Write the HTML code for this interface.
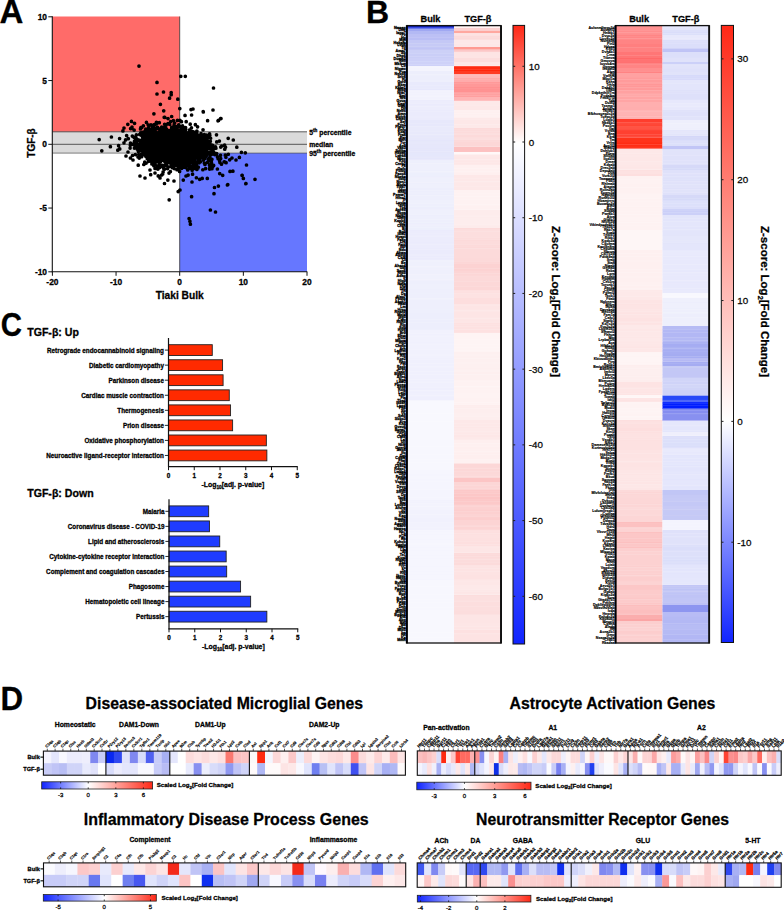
<!DOCTYPE html><html><head><meta charset="utf-8"><title>Figure</title><style>html,body{margin:0;padding:0;background:#fff;width:784px;height:910px;overflow:hidden;}svg{display:block;font-family:"Liberation Sans",sans-serif;}text{stroke:#000;stroke-width:0.28px;stroke-linejoin:round;}.g text{stroke-width:0.15px;}.g2 text{stroke-width:0.24px;}</style></head><body><svg width="784" height="910" viewBox="0 0 784 910" font-family='"Liberation Sans", sans-serif' shape-rendering="auto"><text x="-0.6" y="22.9" font-size="33" text-anchor="start" font-weight="bold" fill="#000">A</text>
<text x="366.1" y="22.8" font-size="32" text-anchor="start" font-weight="bold" fill="#000">B</text>
<text transform="translate(0.7 335.7) scale(0.92 1.03)" font-size="32" font-weight="bold" fill="#000">C</text>
<text transform="translate(0.4 709.6) scale(0.95 1.0)" font-size="33" font-weight="bold" fill="#000">D</text>
<rect x="52.3" y="16.5" width="127.4" height="115.3" fill="#ff6b69"/>
<rect x="52.3" y="131.8" width="254.7" height="21.3" fill="#dadada"/>
<rect x="179.7" y="153.1" width="127.3" height="118.7" fill="#6677ff"/>
<line x1="52.3" y1="131.8" x2="307" y2="131.8" stroke="#333" stroke-width="0.8"/>
<line x1="52.3" y1="144.3" x2="307" y2="144.3" stroke="#333" stroke-width="0.8"/>
<line x1="52.3" y1="153.1" x2="307" y2="153.1" stroke="#333" stroke-width="0.6"/>
<line x1="179.7" y1="16.5" x2="179.7" y2="271.8" stroke="#333" stroke-width="0.8"/>
<path d="M171.01 142.94h0M171.5 149.29h0M159.85 147.81h0M193.65 144.97h0M192.4 146.23h0M181.78 146.08h0M147.67 138.91h0M183.62 143.79h0M147.25 158.76h0M160.52 149.8h0M180.3 147.76h0M183.87 152.54h0M180.35 144.4h0M164.3 133.31h0M184.46 138.5h0M164.98 152.15h0M169.55 147.58h0M185.7 145.83h0M167.84 153.98h0M166.63 137.25h0M161.87 144.43h0M182.3 158.93h0M176.05 137.16h0M141.91 147.56h0M173.49 153.25h0M183.48 148.08h0M151.01 139.32h0M186.32 140.53h0M199.08 145.77h0M177.22 157.16h0M185.43 152.4h0M167.75 156.33h0M159.23 150.21h0M196.57 163.93h0M151.12 143.82h0M199.13 144.11h0M143.8 164.48h0M181.16 153.09h0M156.71 138.51h0M193.48 147h0M179.31 144.03h0M201.62 143.95h0M183.83 143.43h0M149.29 135.74h0M191.05 144h0M142.58 149.99h0M189.18 161.8h0M172.2 139.12h0M153.55 133.48h0M184.38 148.8h0M180.62 142.46h0M177.24 138.46h0M164.3 149.62h0M192.48 147.94h0M160.67 138.99h0M199.5 151.97h0M152.41 146.76h0M172.78 149.24h0M198.49 156.36h0M196.11 158.06h0M162.22 141.49h0M193.92 141.66h0M180.96 146.36h0M177.77 142.86h0M172.33 144.81h0M184.72 147.67h0M187.89 143.54h0M208.52 146.62h0M168.17 149.53h0M175.03 140.03h0M169.67 143.82h0M205.65 168.55h0M156.64 144.12h0M181.84 145.68h0M168.11 141.66h0M179.91 151.38h0M215.46 146.8h0M166.07 147.31h0M171.51 147.36h0M130.1 148.12h0M191.94 157.05h0M174.14 139.74h0M189.41 136.55h0M147.09 148.12h0M169.6 142h0M193.31 168.71h0M193.26 159.26h0M186.55 159.2h0M178.15 138.14h0M172.77 145.49h0M188.44 146.82h0M173.78 135.29h0M192.6 150.4h0M220.68 158.61h0M190.38 150.05h0M177.44 141.84h0M178.92 142.44h0M149.97 157.13h0M185.42 155.08h0M158.25 157.33h0M196.2 142.65h0M199.62 155.74h0M175.26 155.83h0M187.92 135.71h0M160.51 134.28h0M191.6 149.45h0M142.61 134.38h0M173.65 151.62h0M181.86 144.37h0M200.04 156.4h0M194.05 136.86h0M199.28 149.93h0M162.93 138.57h0M177.15 146.27h0M198.81 150.54h0M137.24 147.78h0M144.56 139h0M180.49 152.1h0M175.09 140.73h0M176.55 137.04h0M174.23 139.09h0M199.93 136.27h0M164.13 139.71h0M144.2 153.53h0M142.76 136.98h0M154.86 145.98h0M172.06 147.13h0M165.46 144.73h0M204.89 148.55h0M184.03 139.98h0M171.97 156.54h0M166.05 138.34h0M148 150.04h0M191.92 142.04h0M175.37 140.95h0M177.99 156.29h0M149.36 150.44h0M190.51 152.35h0M160.31 152.11h0M149.9 146.48h0M155.72 143.15h0M136.19 142.25h0M164.63 161.32h0M187.24 149.93h0M138.34 151.58h0M180.06 150.9h0M188.15 142.16h0M186.27 145.27h0M197.32 143.38h0M182.71 163.5h0M190.08 137.98h0M170.33 150.4h0M207.35 162.48h0M183 129.03h0M159.89 140.91h0M206.46 149.9h0M184.53 140.76h0M160.25 146.89h0M180.09 141.08h0M174.67 148.57h0M158.43 148.84h0M190 147.21h0M161.13 152.69h0M219.38 141.04h0M185.79 167.57h0M185.53 144.05h0M203.11 145.51h0M174.13 143.04h0M143.07 137.27h0M180.62 152.8h0M197.18 134.58h0M152.04 150.81h0M180.06 145.99h0M168.65 154.16h0M210.34 141.28h0M155.48 156.21h0M203.43 141.23h0M205.38 142.72h0M160.81 144.24h0M139.5 150.68h0M174.27 143.05h0M163.2 147.33h0M182.83 144.68h0M185.8 146.14h0M169.88 140.75h0M176.06 153.47h0M164.89 146.49h0M173.43 145.79h0M175.24 145.76h0M173.02 156.6h0M182.22 139.46h0M182.44 148.98h0M182.63 154.94h0M143.87 144.76h0M159.85 140.52h0M157.3 166.13h0M158.04 134h0M168.93 157.2h0M162.61 142.36h0M183.47 146.25h0M199.8 143.18h0M174.9 142.52h0M202.63 141.32h0M192.19 156.41h0M172.79 141.37h0M170.34 138.63h0M185.11 140.75h0M171.73 127.41h0M195.77 149.99h0M176.74 127.34h0M169.56 140.08h0M191.47 148.03h0M155.93 144.51h0M181.19 138.82h0M188.2 147.7h0M189.37 143.82h0M178.65 146.89h0M171.22 141.61h0M157.8 150.87h0M175.33 158.31h0M168.03 162.04h0M163.94 142.08h0M184.62 148.09h0M171.4 157.71h0M205.49 144.98h0M193.34 154.94h0M172.18 160.84h0M188.16 140.73h0M143.84 145.62h0M185.68 161.21h0M145.04 153.44h0M164.83 157.21h0M175.77 145.23h0M185.74 142.37h0M200.11 139.69h0M153.53 149.67h0M157.7 154.29h0M173.9 146.98h0M183.36 159.73h0M154.76 146.05h0M171.94 149.29h0M174.2 152.85h0M186.85 145.09h0M173.79 152.16h0M172.36 167.75h0M159 145.84h0M150.35 144.08h0M177.68 157.79h0M171.1 149.26h0M182.85 142.88h0M174.64 153.58h0M172.86 147.46h0M187.4 145.58h0M163.29 156.75h0M169.07 152.4h0M156.84 146.89h0M167.12 145.81h0M183.9 150.78h0M213.71 151.88h0M193.48 147.27h0M193.72 166.39h0M162.81 144.47h0M185.21 129.83h0M180.58 137.63h0M187.93 140.62h0M183.69 148.81h0M183.67 155.86h0M194.79 156.06h0M179.37 131.13h0M171.55 146.73h0M194.49 148.06h0M161.88 144.33h0M184.88 142.25h0M162.46 132.93h0M202.83 148.62h0M179.69 150.65h0M198.65 153.9h0M186.4 151.45h0M163.76 140.92h0M197.32 148.51h0M164.03 140.22h0M174.43 144.68h0M200.45 139.96h0M166.64 129.12h0M175.3 141.1h0M164.53 146.8h0M146.28 131.7h0M197.85 157.76h0M150.33 158.01h0M194.7 151.79h0M174.24 149.44h0M173.24 155.31h0M175.64 158.13h0M174.06 144.67h0M182.98 149.34h0M160.29 144.99h0M167.22 134.64h0M187.95 148.75h0M167.45 152.01h0M159.73 148.87h0M180.12 143.45h0M184.66 131.62h0M163.58 146.3h0M221.49 164.17h0M166.61 145.29h0M177.8 144.14h0M171.29 144.07h0M176.12 141.26h0M143.92 151.99h0M175.21 155h0M157.96 141.26h0M164.49 141.6h0M187.59 145.5h0M183.65 148.41h0M151.93 145.93h0M182.76 151.61h0M173.6 141.27h0M160.71 141.34h0M206.07 153.2h0M177.67 148.4h0M200.73 146.22h0M190.1 153.28h0M174.98 147.16h0M145.85 134.32h0M190.13 161.38h0M187.56 148.85h0M182.67 144.75h0M150.44 147.24h0M199.95 152.99h0M158.32 156.49h0M155.04 143.32h0M203.26 145.5h0M179.31 130.26h0M166.65 151.75h0M183.99 143.43h0M158.45 155.05h0M180.06 145.5h0M153.62 147.35h0M166.26 143.05h0M173.31 147.65h0M169.39 138.69h0M198.26 151.3h0M189.25 153.74h0M176.44 141.44h0M200.3 151.54h0M174.02 145.53h0M150.45 145.49h0M164.06 143.59h0M156.54 161.1h0M175.88 145.15h0M166.16 139.76h0M170.72 151.47h0M183.15 159.58h0M164.03 146.59h0M189.29 149.19h0M180.35 152.43h0M180.24 134.68h0M163.89 128.32h0M164.59 146.33h0M178.11 139.44h0M154.77 161.94h0M185.27 141.62h0M185.57 127.6h0M178.64 145.37h0M190.62 145.21h0M202.78 158.23h0M169.03 173.08h0M188.69 150.76h0M190.54 131.54h0M175.15 149.05h0M166.98 153.02h0M164.81 141.59h0M175.85 146.63h0M172.38 139.94h0M183.42 148.68h0M186.24 148.93h0M156.16 134.83h0M182.94 154.89h0M193.1 145.54h0M149.36 133.23h0M180.76 140.62h0M178.52 148.45h0M149.62 138.13h0M175.74 149.33h0M181.05 146.86h0M186.43 150.62h0M174.64 163.43h0M168.24 141.51h0M197.37 151.22h0M173.24 134.87h0M169.85 141.17h0M203.02 148.47h0M195.55 153.76h0M178.68 147.9h0M177.15 138.58h0M214.79 154.57h0M165.73 142.73h0M157.78 142.25h0M184.71 149.8h0M184.04 159.49h0M187.82 159.68h0M163.72 150.67h0M168.61 140.14h0M176.6 150.23h0M184.24 135.55h0M175.35 144.31h0M195.76 146.29h0M154 126.78h0M211.79 164.49h0M174.6 143.87h0M191.23 142.95h0M170.74 154.9h0M176.95 139.3h0M157.21 153.88h0M174.84 161.9h0M170.94 150.19h0M182.7 152.92h0M160.65 149.24h0M174.42 152.14h0M175.45 141.38h0M194.86 135.24h0M162.28 149.54h0M134.16 130.11h0M163.25 146.64h0M183.89 158.02h0M182.92 147.77h0M145.03 143.06h0M195.01 162.58h0M188.6 146.31h0M183.1 144.2h0M196.82 150.11h0M189.7 151.11h0M187.29 154.06h0M173.45 133.76h0M182.62 148.76h0M156.3 152.01h0M178.45 140.11h0M182.3 143.52h0M174.55 136.72h0M168.78 150.92h0M189.94 147.5h0M170.63 151.24h0M170.99 142.08h0M181.1 156.71h0M182.3 146.16h0M158.69 140.2h0M170.6 149.39h0M188.41 137.79h0M163.85 143.07h0M160.75 128.53h0M167.07 137.47h0M164.53 140.25h0M211.96 168.75h0M168.05 142.84h0M173.71 152.13h0M210.86 148.64h0M148.03 138.94h0M146.75 136.59h0M165.68 145.42h0M196.11 147.46h0M152.22 158.7h0M194.82 142.62h0M161.74 139.72h0M183.46 142.64h0M137.86 147.17h0M190.15 142.39h0M189.83 166.78h0M178.04 143.51h0M217.48 156.94h0M169.8 146.5h0M189.91 151.38h0M194.23 154.27h0M179.66 151.4h0M177.86 152.55h0M148.81 137.15h0M180.27 151.68h0M178.57 139.73h0M159.07 146.98h0M184.17 143.62h0M169.7 162.89h0M195.81 145.83h0M175.46 149.25h0M179.6 150.62h0M158.29 151.75h0M165.37 151.2h0M156.07 141.08h0M153.57 140.76h0M158.45 143.4h0M197.98 146.92h0M163.15 146.01h0M177.7 160.52h0M165.19 145.25h0M167.48 146.03h0M187.39 141.97h0M190.23 143.5h0M170.48 146.96h0M170.76 149.23h0M172.27 160.12h0M169.73 146.96h0M159.13 146.32h0M183.78 148.88h0M209.61 169.11h0M171.83 160.86h0M191.46 127.78h0M133.84 143.64h0M183.83 149.93h0M184.37 164.81h0M189.34 145.11h0M175.62 151.62h0M185.81 151.45h0M178.94 151.23h0M138.06 145.11h0M178.59 141.54h0M160.75 146.49h0M185.46 146.61h0M195.81 133.1h0M160.21 160.9h0M189.42 136.26h0M190.51 141.8h0M165.01 151.95h0M189.95 154.96h0M145.24 152.93h0M216.49 134.87h0M163.88 152h0M179.07 153.07h0M196.93 149.01h0M157.27 136.01h0M165.59 144.83h0M175.04 149.5h0M180.62 152.73h0M144.72 162.16h0M154.28 151.65h0M174.86 146.66h0M184.45 146.74h0M162.11 151.74h0M140.18 146.29h0M183.27 143.54h0M173.24 148.32h0M190.74 147.92h0M187.45 143.38h0M178.77 137.32h0M165.77 149.28h0M161.87 152.4h0M200.99 135.19h0M175.62 142.78h0M194.69 142.1h0M195.19 157.97h0M164.66 143.01h0M199 147.74h0M161.04 148.96h0M164.31 153.01h0M200.09 153.38h0M175.58 130.58h0M194.85 145.71h0M165.12 143.36h0M202.08 143.95h0M196.12 147.61h0M183.79 149.16h0M182.31 137.58h0M151.56 146.16h0M179.22 151.71h0M170.15 140.78h0M208.37 144.28h0M180.64 159.3h0M207.14 148.43h0M174.68 155.63h0M174.3 155.43h0M176.42 143.61h0M175.76 145h0M161.15 135.32h0M164.43 160.37h0M172.14 152.76h0M158.53 148.82h0M180.06 156.44h0M172.97 136.05h0M186.54 148.95h0M177.36 148.15h0M174.45 141.45h0M173.71 165.41h0M174.89 153.89h0M186.02 152.42h0M177.7 130.6h0M157.92 154.67h0M151.89 164.02h0M144.16 142.45h0M164.69 160.76h0M150.71 140.91h0M162.41 149.14h0M180.71 137.06h0M207.37 141.14h0M177.62 145.84h0M205.07 137.97h0M170.11 143.29h0M179.99 146.99h0M166.97 156.76h0M166.41 158.39h0M195.5 144.22h0M155.29 135.23h0M190 162.59h0M205.72 142.74h0M209.4 158.58h0M184.03 144.4h0M178.58 146h0M192.68 159.58h0M154.69 156.54h0M166.02 151.18h0M181.32 145.43h0M175.76 152.31h0M167.93 139.38h0M187.88 147.09h0M169.91 134.9h0M165.41 141.55h0M194.34 150.28h0M188.9 156.46h0M192 146.58h0M148.99 140.41h0M160.48 136.41h0M164.01 147.69h0M179.93 149.93h0M179.54 151.6h0M186.36 147.73h0M178.74 168.37h0M194.46 148.02h0M145.74 144.6h0M182.98 139.38h0M157.33 134.19h0M172.61 128.63h0M172.82 141.76h0M169.18 155.28h0M193.39 141.26h0M200.71 142.08h0M165.76 159.25h0M164.48 151.62h0M161.75 141.84h0M180.67 149.49h0M178.1 148.39h0M178.77 141.56h0M191.12 153.31h0M150.31 134.69h0M177.14 138.76h0M148.05 148h0M175.69 158.16h0M166.71 141.05h0M193.09 135.98h0M160.95 156.97h0M183.86 140.43h0M178.44 157.25h0M188.19 141.82h0M184.4 151.38h0M180.28 141.36h0M166 160.65h0M180.68 143.75h0M175.47 140.32h0M165.54 147.15h0M170.19 142.43h0M201.65 150.61h0M209.25 137.45h0M188.33 143.4h0M204.55 150.25h0M173.39 155.12h0M183.07 137.29h0M184.06 144.4h0M171.92 145.61h0M151.66 137.66h0M168.46 155.15h0M162.81 152.67h0M189.4 139.86h0M152.78 138.67h0M189.94 152.42h0M150.64 151.33h0M164.76 143.85h0M169.33 162.27h0M179.11 159.07h0M190.23 157.24h0M163.78 152.95h0M166.27 136.64h0M189.34 143.35h0M180.53 159.26h0M166.63 150.81h0M159.07 142.24h0M162.98 151.8h0M157.96 161.81h0M185.1 137.52h0M178.14 154.75h0M130.48 143.09h0M195.37 146.04h0M190.59 136.72h0M193.89 151.6h0M192.66 142.22h0M149.81 148.68h0M151.68 146.52h0M184.81 155.85h0M141.22 135.13h0M181.48 136.23h0M153.34 137.68h0M209.57 133.81h0M171.77 144.84h0M172.7 139.31h0M192.42 147.47h0M152.75 140.08h0M167.47 141.83h0M179.6 134.95h0M194.07 151.69h0M181.02 133.96h0M166.35 143.25h0M194.95 138.67h0M183.83 157.72h0M154.38 143.96h0M181.65 128h0M160.99 137.54h0M187.99 160.66h0M161.7 145.02h0M167.08 147.8h0M183.02 153.76h0M182.96 152.44h0M166.23 142.46h0M165.75 144.34h0M201.71 148.49h0M172.83 141.33h0M169.19 138.46h0M154.01 141.1h0M166.77 152.71h0M204.53 155.37h0M204.32 143.82h0M199.29 156.02h0M195.09 137.15h0M173.32 147.98h0M215.89 148.19h0M168.25 151.5h0M182.62 145.02h0M178.18 134.11h0M169.82 143.16h0M199.39 156.24h0M192.43 134.12h0M152.82 154.15h0M158.06 160.2h0M182.74 161.75h0M183.5 136.48h0M148.52 147.92h0M143.5 139.24h0M163.04 148.41h0M176.14 142.99h0M169.51 146.64h0M166.2 145.68h0M155.84 145.45h0M143.27 148.93h0M206.94 148.4h0M154.39 143.88h0M159.15 158.77h0M163.06 140.74h0M181.6 148.23h0M159.91 154.43h0M197.58 146.58h0M159.49 162.31h0M152.57 126.81h0M156.23 146.55h0M178.72 148.52h0M170.64 157.33h0M157.85 133.14h0M162.73 139.88h0M147.21 147.52h0M179.57 139.44h0M156.67 141.43h0M181.63 153.13h0M183.14 154.45h0M162.07 146.46h0M130.33 145.24h0M158.69 157.3h0M168.21 140.85h0M168.55 137.02h0M156.05 155.99h0M200.91 145.6h0M190.88 154.37h0M188.56 145.92h0M185.98 147.56h0M195.21 153.27h0M159.3 157.45h0M194.45 153.91h0M157.98 153.26h0M167.88 156.39h0M170.44 151.61h0M166.12 153.9h0M175.85 150.67h0M177.15 145.31h0M180.87 164.19h0M166.38 152.66h0M188.06 159.94h0M163.42 148.64h0M169.68 139.19h0M167.92 139.28h0M150.99 159.51h0M195.42 144.98h0M183.32 146.65h0M183.26 156.89h0M190.94 152.12h0M191.56 147.41h0M142.58 154.99h0M193.91 149.27h0M168.7 144.86h0M168.21 150.85h0M176.94 146.1h0M200.34 148.26h0M206.35 135.18h0M203.65 140.69h0M177.4 146.19h0M172.89 152.56h0M174.14 151.94h0M202.38 144.65h0M167.86 161.32h0M174.36 150.24h0M157.28 154.72h0M138.01 140.51h0M174.16 127.29h0M174.73 148.21h0M199.14 147.52h0M178.01 150.11h0M165.23 135.03h0M191.8 134.97h0M169.46 146.53h0M160.67 138.83h0M152.19 141.4h0M193.38 137.4h0M159.69 137.83h0M163.44 152.19h0M153.35 136.95h0M202.52 153.29h0M162.68 148.94h0M216.74 141.92h0M166.27 160.29h0M164.11 137.35h0M206.15 151h0M163.8 150.32h0M144.04 138.28h0M157.28 137.89h0M146.99 155.12h0M180.02 153.23h0M188.17 147.82h0M155.8 141.18h0M189.18 162.58h0M205.47 145.12h0M187.83 162.09h0M163.33 149.06h0M193.07 159.34h0M160.62 161.75h0M171.26 144.22h0M147.34 149.95h0M183.69 135.48h0M186.23 150.09h0M155.75 153.1h0M164.25 145.32h0M174.42 134.3h0M180 155.59h0M200.8 141.38h0M176.92 152.72h0M144.29 153.06h0M190.33 154.15h0M153.4 144.3h0M179.28 142.71h0M186.09 136.98h0M161.35 138.78h0M158.91 140.81h0M178.21 145.42h0M191.26 148.2h0M193.65 141.51h0M177.49 151.58h0M162.78 150.39h0M171.9 147.09h0M224.57 145.19h0M187.97 154.45h0M163.49 148.84h0M178.42 155.22h0M201.92 153.02h0M193.09 166.05h0M175.13 144.97h0M178.41 142.69h0M179.88 146.14h0M143.93 150.68h0M136.48 139.97h0M180.33 148.91h0M161.65 150.74h0M205.79 135.7h0M174.28 137.19h0M148.97 160.33h0M167.25 153.32h0M165.99 145.11h0M225.3 155.17h0M176.07 145.04h0M174.68 139.95h0M204.63 158.38h0M177.92 149.29h0M181.14 159.18h0M146.15 163.08h0M183.94 146.16h0M176.46 165.28h0M169.06 152.51h0M151.85 152.7h0M186.79 143.64h0M174.87 143.15h0M165.26 145.96h0M175.91 142.9h0M174.09 148.13h0M173.02 151.9h0M212.21 145.39h0M182.34 130h0M198.46 160.41h0M186.75 141.39h0M206.44 138.91h0M188 156.88h0M160.84 144.18h0M183.6 155.42h0M168.88 149.78h0M176.25 144.59h0M170.5 156.28h0M195.81 136.13h0M173.49 139.16h0M182.6 142.5h0M183.21 153.42h0M184.74 139.94h0M160.41 131.17h0M209.83 135.24h0M208.16 143.4h0M169.65 151.36h0M161.79 145.41h0M174.7 141.94h0M141.82 127.41h0M212.92 149.58h0M186.43 144.14h0M179.77 148.97h0M173.21 153.29h0M178.19 147.47h0M180.54 153.97h0M175.9 146.78h0M185.24 155.84h0M182.19 140h0M185.13 150.52h0M167.11 148.42h0M187.31 135.95h0M172.63 151.86h0M181.46 145.92h0M160.22 151.84h0M173.56 141.87h0M155.5 153.71h0M183.5 156.97h0M177.05 144.52h0M173.41 154.78h0M174.25 149.59h0M180.81 153.86h0M193.31 161.01h0M172.33 146.87h0M191.16 152.72h0M184.28 151.98h0M187.46 134.55h0M168.61 143.32h0M159.9 138.74h0M195.28 148.04h0M156.46 142.9h0M194.26 139.91h0M188.7 161.92h0M163.99 135.55h0M154.95 137.23h0M206.4 143.15h0M193.78 150.76h0M154.96 146.67h0M171.95 147.27h0M186.78 148.9h0M178.42 144.05h0M175.16 133h0M182.57 146.9h0M171.81 151.68h0M197.49 147.29h0M157.39 150.33h0M172.98 150.38h0M193.19 157.07h0M183.39 146.5h0M155.75 145.57h0M173.68 143.18h0M167.8 144.34h0M147.68 153.74h0M188.23 139.92h0M175.03 151.67h0M193.16 164.18h0M162.01 141.17h0M186.04 155.65h0M144.01 134.12h0M177.78 154.11h0M176.15 140.26h0M132.35 136.03h0M187.49 163.76h0M188 161.49h0M194.1 145.19h0M212.52 154.02h0M175.32 139.1h0M164.65 151.86h0M169.09 147.29h0M157.34 142.32h0M184.24 147.1h0M203.38 151.3h0M196.87 152.59h0M187.75 162.66h0M178.52 148.64h0M167.05 151.28h0M169.5 152.27h0M138.95 149.49h0M166.15 150.57h0M157.74 147.09h0M188.23 149.8h0M167.09 136.23h0M191.41 141.02h0M194.37 150.76h0M173.1 138.46h0M166.08 147.47h0M181.5 144.63h0M170.67 139.31h0M172.3 141.38h0M192.96 143.13h0M187.38 156.71h0M153.55 150.53h0M183.11 136.1h0M155.02 143.54h0M161.11 151.86h0M170.67 141.54h0M178.77 138.29h0M158.93 139.32h0M190.64 147.5h0M183.14 151.89h0M157.21 149.12h0M164.61 124.36h0M167.22 134h0M178.59 144.92h0M187.55 153.8h0M190.41 145.14h0M150.16 141h0M184.39 144.19h0M201.47 151.85h0M183.72 141.89h0M160.35 137.03h0M151.24 155.61h0M183.89 155.95h0M173.32 159.57h0M176.39 155.85h0M180.9 159.17h0M182.67 149.59h0M176.3 147.69h0M177.41 157.34h0M132.8 144.29h0M159.76 149.65h0M182.3 162.72h0M162.61 151.01h0M157.75 143.55h0M172.92 153.24h0M158.95 139.95h0M164.33 141.97h0M182.68 162.04h0M157.31 146h0M180.9 141.48h0M188.52 139.99h0M169.06 148.34h0M188.08 151.13h0M192.73 160.31h0M186.06 149.08h0M142.69 137.65h0M180.39 147.25h0M157.43 149.59h0M200.26 154.94h0M117.79 150.21h0M155.39 146.92h0M168.74 153.69h0M161.31 138.25h0M151.37 130.7h0M166.24 154.92h0M188.27 143.57h0M157.99 140.34h0M144.8 152.34h0M193.88 150.18h0M153.7 141.88h0M190.42 148.19h0M145.34 147.96h0M182.16 141.64h0M205.91 150.88h0M167.26 146.92h0M195.21 155.51h0M196.85 169.43h0M188.44 153.07h0M182.84 142.29h0M155.67 146.59h0M179.23 142.85h0M159.85 153.77h0M143.41 125.76h0M172.06 148.62h0M150.51 138.5h0M166.4 135.59h0M189.34 147.79h0M187.27 156.33h0M169.85 151.19h0M154.24 145.71h0M172.85 135.98h0M119.76 148.91h0M160.04 149.74h0M182.23 144.44h0M175.71 150.76h0M183.43 144.84h0M144.75 147.28h0M152.5 154.78h0M177.67 146.79h0M177.13 153.92h0M171.91 153.89h0M181.56 142.22h0M204.29 139.16h0M161.92 149.81h0M159.71 143.83h0M208.02 143.65h0M138.85 154.54h0M153.85 141.88h0M175.27 144.81h0M204.73 155.2h0M161.22 131.22h0M180.91 153.4h0M141.67 156.75h0M134.79 144.15h0M175.98 139.55h0M172.94 152.27h0M162.98 131.82h0M146.02 144.02h0M175.67 142.41h0M168.55 142.88h0M188.74 149.04h0M167.67 148.08h0M159.28 147.73h0M170.25 145.2h0M197.36 138.43h0M167.87 142.05h0M180.13 141.57h0M175.6 145.09h0M167.49 152.64h0M189.68 138.04h0M186.2 144.43h0M179.65 150.81h0M145.74 140.26h0M178.54 151.54h0M159.28 136.37h0M145.39 131.83h0M185.83 129.61h0M163.37 146.56h0M166.86 145.41h0M171.77 152.62h0M193.03 154.18h0M166.84 142.36h0M166.35 149.9h0M181.14 150.27h0M154.62 146.65h0M171.61 133.84h0M157.09 138.6h0M162.24 149.05h0M169.84 144.71h0M189.53 134.58h0M164.71 136.3h0M191.72 141.88h0M162.68 139.46h0M173.47 144.3h0M170.79 141.76h0M193.7 139.56h0M171.85 139.29h0M199.27 155.7h0M199.61 158.78h0M184.23 143.1h0M199.78 146.45h0M167.29 152.72h0M154.54 140h0M171.32 152.36h0M184.05 153.49h0M168.02 150.18h0M202.62 137.56h0M172.63 158.97h0M179.82 146.83h0M181.02 143.13h0M169.94 139.71h0M189.09 146.33h0M168.52 150.38h0M186.71 156.21h0M172.6 152.68h0M152.18 141.1h0M174.82 146.81h0M189.71 159.4h0M174.13 144.83h0M189.02 156.23h0M187.09 146.14h0M197.68 139.74h0M184.34 131.22h0M175.22 150.35h0M169.61 153.96h0M174.77 161.45h0M173.85 143.76h0M191.65 150.75h0M198.23 153.47h0M173.02 161.34h0M162.65 152.4h0M199.39 144.59h0M157.4 142.05h0M183.03 149.32h0M175.61 149.41h0M166.48 159.82h0M173.78 137.42h0M198.39 150.58h0M163.18 147.96h0M189.75 145.35h0M165.81 143.83h0M171.91 143.06h0M168.66 157.69h0M176.18 141.49h0M157.37 146.83h0M189.41 150.75h0M164.74 131.33h0M188.63 140.25h0M159.99 134.02h0M148.54 149.36h0M187.17 137.91h0M160.27 151.15h0M178.41 161.65h0M185.53 143.56h0M168.04 142.67h0M187.73 145.56h0M183.64 136.36h0M167.57 145.44h0M166.85 138.92h0M168.7 143.19h0M177.44 146.75h0M202.78 149.39h0M197.97 142.35h0M196.39 149.6h0M190.11 142.4h0M165.41 144.52h0M173.19 147.25h0M196.07 153.68h0M148.34 158.36h0M168.01 151.44h0M175.47 142.94h0M203.37 146.51h0M182.65 152.97h0M184.52 137.63h0M196.65 162.81h0M189.46 136.28h0M188.43 158.92h0M170.35 142.48h0M181.87 153.49h0M161.05 139.13h0M153.97 135.26h0M175.56 144.91h0M153.99 150.22h0M186.22 158.6h0M208.23 159.42h0M155.78 145.62h0M182.91 142.17h0M169.34 148.28h0M171.49 151.11h0M134.22 137.57h0M179.24 146.18h0M165.24 144.66h0M175.03 147.66h0M192.82 160.82h0M179.25 155.18h0M170.19 135.78h0M158.01 146.8h0M165.84 139.56h0M159.67 158.54h0M183.41 150.2h0M170.17 138.86h0M161.13 149h0M177.59 144.21h0M167.03 139.01h0M210.87 152.25h0M204.96 164.39h0M197.6 150.98h0M177.43 149.73h0M165.13 155.88h0M168.97 137.21h0M193.36 150.75h0M166.85 151.76h0M156.18 132.71h0M185.79 146.88h0M167.44 154.14h0M196.17 142.63h0M160.11 138.93h0M157.65 141.33h0M159.98 149.23h0M183.11 144.4h0M191.32 154.22h0M200.33 138.74h0M175.08 143.68h0M162.88 147.48h0M154.26 145.19h0M178.41 137.43h0M190.3 142.03h0M169.5 148.41h0M169.83 145.15h0M144.57 139.6h0M150.35 149.39h0M175.6 150.9h0M201.66 149.41h0M200.21 139.99h0M167.35 143.69h0M195.87 150.79h0M176.65 151.29h0M176.18 149.76h0M176.56 139.83h0M197.37 147.46h0M178.45 141.01h0M170.64 154.6h0M192.88 155.03h0M190.03 155.08h0M204.33 156.52h0M188.73 136.9h0M159.98 135.28h0M162.17 159.28h0M186.71 142.64h0M172.02 165.46h0M174.37 149.3h0M169.22 148.87h0M146.81 149.56h0M203.84 137.47h0M169.5 151.99h0M181.54 139.68h0M186.73 156.38h0M177.82 146.23h0M198.1 139.69h0M183.57 138.67h0M168.96 135.43h0M168.48 143.79h0M189.83 154.69h0M164.09 159.35h0M177.86 147.67h0M170.05 143.13h0M141.62 145.26h0M176.63 149.14h0M187.86 134.99h0M168.16 153.58h0M165.64 145.85h0M184.56 153.99h0M191.12 155.58h0M188.39 144.76h0M182.61 131.7h0M171.06 148.07h0M182.81 141.22h0M153.98 143.81h0M163.46 141.77h0M197 148.03h0M173.55 145.66h0M128.3 138.63h0M184.16 146.43h0M168.95 152.09h0M172.4 138.02h0M173.62 137.11h0M134.38 148.03h0M179.6 147.47h0M148.87 150.4h0M195.1 157.78h0M159.51 154.22h0M166.48 141.86h0M184.68 162.58h0M198.44 152.85h0M165.89 134.3h0M173.95 156.13h0M165.09 151.83h0M159.21 148.59h0M189.18 145.37h0M153.31 125.32h0M159.52 145.31h0M175.74 141.54h0M170.03 143.44h0M208.7 148.41h0M158.05 143.66h0M162.49 149.06h0M178.23 144.81h0M170.73 140.6h0M172.18 156.5h0M189.19 150.62h0M194.51 153.07h0M184.34 145.34h0M132.4 155.5h0M157.46 135.71h0M145.25 138.59h0M192.6 144.51h0M185.96 151.39h0M175.08 145.44h0M181.93 142.31h0M171.96 152.06h0M166.31 143.55h0M148.86 154.73h0M168.7 150.77h0M170.95 166.4h0M169.83 148.62h0M187.58 162.38h0M170.38 143.33h0M183.02 138.79h0M192.02 155.82h0M185.36 150.17h0M162.48 135.06h0M165.24 152.78h0M168.76 152.98h0M191.26 145.27h0M197.52 145.42h0M165.46 138.81h0M164.82 149.88h0M172.58 146.66h0M194.26 152.71h0M180.85 147.65h0M155.21 153.96h0M171.75 143.92h0M180.35 143.88h0M176.02 150.45h0M182.04 154.9h0M153.84 148.27h0M152.45 149.53h0M163.33 150.47h0M174.53 152.96h0M168.5 159.31h0M177.56 153.74h0M181.69 168.34h0M162.45 144.54h0M136.3 147.42h0M176.75 146.44h0M151.37 143.98h0M177.62 154.42h0M187.13 148.18h0M175.54 150.44h0M183.99 146.91h0M193.4 144.86h0M165.39 148.16h0M189.91 150.68h0M181.36 143.62h0M172.37 164.14h0M177.35 145.65h0M177.41 152.85h0M194.58 149.26h0M165.27 151.81h0M180.98 155.52h0M159.23 131.35h0M196.21 140.57h0M197.09 144.01h0M148.27 136.65h0M195.08 144.67h0M143.92 136.02h0M197.11 152.06h0M177.29 141.48h0M173.88 138.89h0M176.55 142.06h0M176.61 158.14h0M159.29 122.68h0M179.72 137.66h0M193.5 135.49h0M184.13 152.06h0M175.54 161.35h0M172.23 140.2h0M140.55 143.56h0M188.47 138.05h0M160.38 151.05h0M145.13 152.86h0M183.82 132.26h0M156.84 135.76h0M182.11 151.19h0M210.49 167.95h0M174.16 145.41h0M209.47 135.81h0M211.63 148.29h0M191.01 137.91h0M183.47 144.92h0M172.29 149.96h0M155.48 131.43h0M168.07 162.14h0M179.49 147.61h0M178.08 133.78h0M173.54 148.98h0M163.24 146.55h0M168.19 145.16h0M225.51 147.2h0M161.46 131.92h0M189.15 141.87h0M186.75 141.7h0M186.11 137.26h0M191.45 138.04h0M167.16 146.64h0M163.5 139.27h0M188.63 151.38h0M184.66 128.12h0M195.17 156.61h0M173.76 142.29h0M174.67 144.19h0M194.25 145.8h0M157.56 140.72h0M173.67 146.16h0M166.12 156.86h0M155.16 148.53h0M158.01 166.3h0M193.75 156.87h0M163.56 142.44h0M136.39 134.77h0M162.86 141.44h0M167.48 144.36h0M176.94 147.22h0M145.8 156.29h0M174.58 136.56h0M166.45 142.61h0M177.86 143.66h0M191.23 159.23h0M179.67 148.7h0M170.21 153.16h0M162.57 154.02h0M157.55 127.33h0M202.65 148.68h0M187.21 155.1h0M130.39 157.99h0M177.52 136.51h0M174.57 154.52h0M171.35 154.31h0M152.76 147.48h0M168.8 152.77h0M160.96 153.18h0M179.05 136.95h0M171.85 130.23h0M149.15 143.49h0M156.59 147.19h0M176.89 143.04h0M193.47 152.34h0M155.21 147.3h0M179.98 152.6h0M189.65 135.42h0M152.3 143.02h0M191.64 162.42h0M178.56 148.98h0M152.28 135.92h0M178.75 150.89h0M182.4 142.74h0M187.66 143.53h0M181.84 156.27h0M168.45 145.74h0M130.6 128.53h0M169.12 154.6h0M145.91 143.48h0M175.77 151.49h0M168.52 153.32h0M163.16 147.11h0M164.86 141.42h0M172.95 145.98h0M181.78 138.02h0M184.94 145.99h0M172.61 152.95h0M169.72 141.69h0M178.9 150.22h0M153.76 157.24h0M180.43 139.76h0M181.28 157.71h0M171.81 145.24h0M160.43 143.63h0M172.02 153.13h0M155.22 139.86h0M181 154.07h0M158.89 139.49h0M184.86 149.95h0M200.93 150.81h0M158.21 137.94h0M172.21 144.35h0M175.86 154.61h0M156.11 147.4h0M197.9 155.94h0M197.14 146.78h0M157.32 144.04h0M184.39 154.35h0M140.93 142.39h0M157.36 142.75h0M144.45 146.31h0M162.21 157.35h0M171.36 145.6h0M166.27 155.36h0M178.66 160.33h0M183.86 143.97h0M202.25 142.15h0M180.95 145.49h0M175.69 156.99h0M198.78 144.6h0M170.64 155.35h0M199.12 144.58h0M156.18 140.96h0M205.73 149.11h0M181.68 150.58h0M165.14 138.52h0M224.75 149.21h0M173.25 141.09h0M170.35 141.39h0M188.57 155.46h0M158.01 146.62h0M188.63 145.85h0M195.19 158.53h0M183.17 152.2h0M176.85 144.81h0M159.66 147.87h0M156.55 144.01h0M161.59 149.95h0M178.76 152.17h0M193.69 152.94h0M188.88 145.83h0M158.64 147.73h0M161.81 148.98h0M170.89 133.35h0M168.52 135.06h0M182.42 157.23h0M138.13 139.85h0M143.31 139.86h0M191.75 145.2h0M171.88 148.76h0M179.4 149.6h0M166.66 149.33h0M194.01 152.83h0M181.33 156h0M163.82 156.6h0M172.07 141.86h0M180.14 151.05h0M185.05 150.26h0M181.21 145.44h0M183.92 165.97h0M154.38 140.12h0M173.53 130.39h0M171.48 150.96h0M199.17 144.43h0M205.64 145.16h0M171.98 141.55h0M162.63 149.65h0M166.36 148.21h0M187.71 151.42h0M180.4 151.1h0M189.38 168.34h0M171.92 145.66h0M157.98 138.57h0M178.71 137.84h0M190.63 143.29h0M172.85 155h0M171.72 150.29h0M179.24 150.78h0M224.12 161.86h0M194.03 151.71h0M171.37 140.03h0M175.29 156.07h0M181.86 148.94h0M142.34 143.66h0M158.38 151.59h0M182.96 145.35h0M170.6 130.79h0M181.95 152.04h0M179.02 148.23h0M140.03 156.63h0M153.03 130.51h0M172.31 148.97h0M166.22 139.32h0M175.69 134.53h0M187.84 135.72h0M173.37 144.22h0M168.33 147.94h0M147.61 149.73h0M160.06 151h0M194.66 146.34h0M194.8 141.95h0M189.93 140.58h0M165.59 140.61h0M170.11 150.71h0M194.31 132.29h0M159.64 133.36h0M188.5 154.15h0M179.6 144.63h0M181.23 150.09h0M154.74 145.64h0M188.99 142.14h0M185.78 139.61h0M159.44 146.47h0M180.67 140.07h0M177.73 143.43h0M177.37 131.77h0M140.43 145.19h0M214.72 147.74h0M146.04 144.36h0M152.39 150.74h0M178.83 134.69h0M182.62 142.62h0M191.48 146.6h0M161.58 147.01h0M180.61 149.47h0M164.6 149.11h0M151.31 153.22h0M173.8 149.68h0M175.84 136.8h0M180.02 147.63h0M156.54 153.92h0M181.23 153.9h0M182.08 155.42h0M177.38 147.77h0M191.11 150.95h0M169.32 144.94h0M176.12 134.72h0M171.15 150.81h0M170.16 143.31h0M178.97 142.22h0M153.21 127.54h0M204.55 149.1h0M155.99 144.81h0M181.85 163.94h0M175.46 158h0M182.54 137.37h0M191.7 159.18h0M197.25 141.76h0M169.5 143.06h0M199.41 151h0M175 151.21h0M193.66 164.07h0M197.85 155.59h0M190 159.96h0M160.33 150.61h0M188.43 159.83h0M184.85 152.36h0M195.02 150.58h0M182.99 148.84h0M203.8 151.47h0M174.85 132.48h0M176.48 142.13h0M163.51 144.93h0M139.12 144.16h0M164.95 157.55h0M152.69 137.35h0M182.04 158.67h0M204.13 153.96h0M169.37 144.94h0M157.14 157.92h0M163.37 137.69h0M190.4 159.64h0M194.41 148.01h0M183.21 147.2h0M181.83 154.86h0M160.77 151.41h0M169.38 142.19h0M155.88 134.21h0M165.17 150.83h0M186.44 144.58h0M169.85 154.66h0M159.32 157.91h0M193.45 140.22h0M205 145.22h0M180.54 141.85h0M190.39 149.92h0M180.85 131.58h0M148.27 155.83h0M159.9 140.64h0M194.17 150.74h0M185.94 148.1h0M180.02 151.37h0M174.81 147.11h0M193.26 131.75h0M146.33 141.45h0M175.17 139.97h0M192.16 142.37h0M188.13 154.88h0M148.07 133.18h0M194.5 155.28h0M195.81 143.43h0M136.14 138.13h0M159.51 137.57h0M164.39 151.93h0M150.62 147.22h0M191.46 153.03h0M145.59 129.52h0M204.66 143.79h0M166.67 155.52h0M149.12 141.42h0M195.96 156.16h0M175.24 149.15h0M171.16 143.16h0M208.61 153.8h0M188.8 139.89h0M170.71 147.93h0M153.85 137.87h0M166.78 151.42h0M176.32 153.5h0M158.62 148.3h0M198.96 150.04h0M183.65 158.43h0M144.18 131.83h0M168.89 158.07h0M173.55 142.52h0M147.69 151.96h0M179.39 154.16h0M187.96 140.77h0M182.31 150.7h0M174.5 151.73h0M173.16 144.63h0M170.45 139.63h0M216.68 153.63h0M180.72 141.36h0M185.54 149.48h0M167.59 139.23h0M185.22 143.96h0M162.4 141.67h0M187.94 149.23h0M185.57 131.68h0M145.25 140.82h0M156.53 156.06h0M171.48 142.84h0M176.07 155.77h0M152.24 149.84h0M175.46 153.26h0M151.19 132.68h0M161.83 147.46h0M166.47 150.91h0M175.89 149.35h0M185.15 156.47h0M151.45 131.25h0M174.04 141.35h0M194.14 144.14h0M175.83 158.65h0M149.6 138.32h0M186.09 143.54h0M148.67 161.3h0M158.32 154.84h0M177.8 154.83h0M200.61 153.24h0M166.24 140.16h0M180.51 154.09h0M188.42 133.64h0M155.56 147.76h0M157.96 160.47h0M185.3 142.53h0M190.89 144.86h0M142.9 145.36h0M164.51 155.2h0M157.47 140.35h0M170.48 132.22h0M182.81 161.74h0M189.61 138.68h0M175.75 156.15h0M203.68 158.58h0M173.9 161.2h0M155.07 158.54h0M192.77 139.39h0M168.72 156.8h0M174.28 144.23h0M150.67 154.25h0M173.59 141.77h0M176.45 143.83h0M155.11 164.45h0M180.27 154.25h0M173.24 149.8h0M183 153.33h0M198.55 148.27h0M183.78 142.92h0M192 145.1h0M146.98 150.1h0M205.31 145.38h0M184.31 144.16h0M164.88 151.55h0M164.79 137.82h0M181.14 134.15h0M183.31 133.44h0M182.65 156.41h0M203.44 146.27h0M194.55 146.66h0M169.94 145.52h0M157.05 154.97h0M160.84 150.17h0M153.25 146.56h0M180.19 132.19h0M205.12 149.27h0M189.61 149.61h0M181.59 147.74h0M166.46 146.01h0M151.21 142.36h0M170.54 154.96h0M169.39 142.59h0M164.19 142.87h0M184.52 135.94h0M157.55 146.88h0M183.57 136.31h0M179.52 141.68h0M151.34 150.06h0M202.31 150.87h0M210.49 154.71h0M170.71 158.85h0M185.61 145.73h0M208.16 147.84h0M171.16 157.48h0M173.9 139.88h0M187.33 138.56h0M189.36 148.3h0M185.12 146.4h0M153.48 132.87h0M181.37 155.41h0M181.54 145.31h0M191.54 137.17h0M125.52 139.92h0M200.28 155.78h0M144.84 143.16h0M180.74 144.78h0M157.08 149.55h0M178.43 141.66h0M211.15 147.04h0M165.37 164.38h0M192.84 149.16h0M173.45 154.48h0M187.28 161.41h0M177.02 146.29h0M180.17 137.51h0M173.62 146.29h0M189.3 159.71h0M170.45 146.3h0M190.93 154.12h0M188.44 144.98h0M150.83 156.87h0M151.72 144.63h0M178.64 141.81h0M188.73 152.11h0M192.82 141.94h0M183 143.93h0M154.1 143.09h0M158.27 155.14h0M169.49 145.7h0M174.37 149.56h0M158.79 144.7h0M163.05 157.08h0M176.78 136.14h0M168.58 154.78h0M198.03 135.45h0M170.4 148.42h0M178.73 124.86h0M177.45 139.67h0M182.55 161.39h0M157.1 155.4h0M182.38 146.72h0M204.73 150.93h0M180.32 146.84h0M177.54 129.6h0M179.94 136.17h0M196.63 153.02h0M186.54 150.69h0M177.05 146.01h0M175.59 150.7h0M200.91 150.67h0M186.83 135h0M185.57 139.9h0M198.15 140.18h0M203.6 159.7h0M207.56 148.83h0M146.4 150.26h0M152.23 145.89h0M150.66 153.3h0M180.13 146.2h0M162.08 148.1h0M173.61 146.44h0M175.13 148.79h0M189.75 160.24h0M167.09 145.6h0M168.62 150.92h0M168.02 145.08h0M195.82 149.76h0M170.83 144.12h0M171.24 161.64h0M179.68 150.26h0M165.78 141.73h0M175.97 151.46h0M139.25 158.09h0M175.47 148.02h0M182.49 145.83h0M167.33 156.3h0M157.14 147.08h0M156.25 140.19h0M153.31 159.49h0M172.04 160.48h0M202.17 156.31h0M174.39 148.92h0M161.68 159.81h0M144.45 138.64h0M192.14 131.57h0M151.05 141.36h0M175.01 140.62h0M166.74 141.08h0M190.07 143.36h0M199.18 149.88h0M200.79 154h0M202.83 169.77h0M175.47 153.24h0M175.27 139.22h0M187.13 147.09h0M203.41 160.09h0M161.77 134.74h0M180.67 163.3h0M180.88 156.5h0M199.69 139.82h0M166.19 136.67h0M161.45 139.24h0M184.83 148.65h0M151.72 147.83h0M137.36 149.14h0M144.62 135.97h0M159.25 164.75h0M184.91 144.86h0M166.86 130.4h0M188.05 147.37h0M164.57 169.07h0M183.18 140.23h0M165.45 157.33h0M174.55 159.86h0M175.37 141.21h0M200.23 146.58h0M178.5 141.56h0M198.41 150.94h0M154.92 151.94h0M154.41 152.65h0M173.25 144.36h0M177.83 146.73h0M169.33 143.51h0M189.9 142.17h0M200.03 150.81h0M171.08 133.89h0M178.57 144.15h0M169.68 139.36h0M168.58 154.41h0M174.24 150.43h0M189.05 150.82h0M177.29 148.89h0M180.87 152.27h0M193.53 159.1h0M168.87 152.14h0M185.97 147.44h0M183.27 150.11h0M163.36 154.95h0M169.72 150.87h0M179.88 144.67h0M191.41 148.89h0M162.86 154.48h0M176.26 144.41h0M207.49 147.65h0M204.33 134.52h0M157.89 136.8h0M194.05 137.94h0M175.08 139.79h0M167.28 147.16h0M175.56 133.49h0M171.68 139.58h0M176.34 152.6h0M179.26 142.3h0M163.46 141.54h0M163.46 153.11h0M178.89 149.12h0M158.98 158.59h0M175.63 145.27h0M167.64 145.21h0M149.97 142.58h0M182.13 145.39h0M165.1 145.89h0M177.4 139.05h0M179.81 145.44h0M163.27 139.79h0M194.65 152.05h0M185.82 145.38h0M174.47 156.89h0M204.31 163.12h0M180.26 150.28h0M194.18 151.48h0M175.9 142.47h0M182.79 151.53h0M186.51 144.79h0M191.59 151.99h0M174.48 150.05h0M161.4 144.33h0M182 136.67h0M169.87 143.82h0M194.12 149.11h0M176.29 146.14h0M163.85 153.96h0M193.68 146.89h0M174.01 156.51h0M177.19 138.27h0M156.26 152.76h0M193.54 137.3h0M200.85 152.86h0M185.14 153.42h0M183.83 150.4h0M178.48 137.08h0M180.82 149.27h0M176.17 145.14h0M166.8 145.02h0M185.13 135.83h0M141.3 154.12h0M154.88 139.22h0M215.41 148.04h0M177.24 138.56h0M135.07 146.05h0M123.98 142.85h0M166.88 150.29h0M180.84 151.88h0M193.52 148.23h0M181.51 128.19h0M167.87 139.62h0M161.65 136.81h0M191.09 146.99h0M191.54 135.87h0M197.88 148.45h0M174.35 138.64h0M151.09 150.23h0M183.2 143.26h0M205.79 135.59h0M180.57 144.08h0M153.62 147.21h0M179.53 149.08h0M176.23 142.55h0M159.65 150.47h0M146.11 136.68h0M157.95 158.97h0M187.87 149.48h0M191.07 150.85h0M210.06 143.79h0M177.71 146.38h0M171.88 140.78h0M207.98 152.27h0M157.43 141.51h0M192.71 159.44h0M163.93 153.96h0M184.44 143.83h0M163.25 154.9h0M186.41 163.31h0M185.77 148.91h0M206.62 141.48h0M165.78 148.61h0M170.72 152.33h0M176.58 139.9h0M150.63 147.34h0M199.61 142.97h0M161.96 152.39h0M161.3 158.37h0M194.01 147.71h0M163.87 157.23h0M168.98 150.59h0M203.31 152.25h0M177.13 139.15h0M186.13 149.12h0M139.69 134.41h0M184.99 150.96h0M173.8 154.21h0M160.61 157.39h0M183.41 143.7h0M178.09 141.4h0M183.97 146.71h0M160.87 141.79h0M194.55 143.52h0M195.54 151.88h0M159.32 136.74h0M165.76 144.71h0M172.15 146.75h0M170.85 150.89h0M146.27 131.05h0M178.55 161.76h0M160.51 154.67h0M163.19 165.51h0M184.58 135.36h0M171.25 141.28h0M185 157.03h0M195.03 160.94h0M165.91 149.24h0M195.63 147.44h0M173.23 153.01h0M176.71 146.87h0M187.09 137.36h0M187.2 147.69h0M172.77 134.96h0M178.5 147.42h0M204.36 137.1h0M184.47 148.47h0M164.97 138.49h0M167.9 139.47h0M162.56 145.56h0M181.76 146.41h0M179.03 144.48h0M157.06 154.32h0M172.86 133.46h0M173.23 153.92h0M164.57 146.21h0M194.38 152.49h0M184.32 146.25h0M169.49 153.82h0M172.79 152.36h0M183.94 160.8h0M193.49 142.53h0M184.6 136.47h0M185 160.46h0M176.11 143.79h0M164.2 154.89h0M182.24 143.7h0M168.38 148.5h0M167.06 150.85h0M174.31 139.03h0M149.25 148.08h0M201.31 146.3h0M177.73 141.02h0M159.05 155.16h0M148.46 156.37h0M179.26 141.01h0M168.52 151.77h0M181.76 142.92h0M179.39 161.56h0M166.46 165.46h0M179.16 153.67h0M164.67 135.26h0M196.56 144.79h0M179.69 146.08h0M165.8 146.92h0M206.07 155.48h0M164.58 145.26h0M189.62 141.76h0M159.67 147.14h0M170.98 156.03h0M176.49 150.76h0M190.06 144.77h0M162.68 145.75h0M169.5 151.48h0M167.41 138.71h0M168.59 159.46h0M162.78 140.35h0M209.89 157.03h0M169.52 149.21h0M152.6 142.75h0M174.43 144.98h0M211.28 151.25h0M188.02 141.67h0M165.02 150.89h0M200.31 143.29h0M177.55 155.38h0M189.46 144.03h0M210.61 138.26h0M188.19 145.89h0M176.25 151.26h0M180.21 145.59h0M185.74 139.65h0M180.27 151.44h0M188.24 136.34h0M161.82 143.17h0M184.07 143.64h0M183.37 148.27h0M173.61 134.46h0M203.11 159.2h0M134.43 141.39h0M164.4 150.29h0M149.61 142.93h0M174.37 151.06h0M189.7 129.89h0M198.97 139.8h0M168.63 141.81h0M174.64 138.46h0M184.61 147.92h0M184.14 152.97h0M187.99 136.69h0M169.44 142.62h0M148.46 138.53h0M189.36 155.54h0M203.28 147.94h0M147.43 155.61h0M189.31 149.97h0M192.99 159.69h0M173.66 139.75h0M164.35 141.39h0M169.47 144.2h0M180.44 130.82h0M155.34 140.12h0M196.34 156.73h0M176.56 130.02h0M192.13 170.16h0M171.43 159.58h0M180.12 152.79h0M166.22 152.78h0M179.98 150.85h0M160.71 147.92h0M181.78 153.86h0M193.11 160.52h0M181.8 150.39h0M200.54 153.4h0M164.58 156.43h0M207.17 144.43h0M157.81 148.55h0M159.85 134.86h0M181.97 162.64h0M178.62 140.5h0M175.28 143.59h0M173.48 145.45h0M178.67 152.57h0M180.84 146.21h0M174.63 152.15h0M158.94 144.29h0M188.53 165.87h0M166.64 136.52h0M189.97 153.29h0M196.99 155.75h0M162.55 131.92h0M168.23 148.29h0M148.71 153.02h0M156.34 146.99h0M145.73 137.43h0M169.53 151.27h0M165.04 140.96h0M199.92 151.62h0M201.21 136.68h0M196.84 146.18h0M151.27 140.65h0M168.67 145.26h0M144.92 147.38h0M179 154.3h0M179.98 134.94h0M178.96 152.43h0M213.64 165.44h0M160.44 143.18h0M165.73 163.61h0M179.43 141.17h0M162.45 135.42h0M183.3 138.71h0M150.65 145.65h0M201.02 133.64h0M196.48 148.38h0M178.2 151.96h0M192.95 153.35h0M177.24 162.61h0M150.99 132.39h0M176.2 145.56h0M139.84 145.22h0M208.65 160.27h0M136.89 146h0M166.67 148.16h0M154.96 156.01h0M155.3 141.12h0M174.48 140.92h0M157.83 141.65h0M168.1 146.01h0M190.33 147.76h0M169.57 159.2h0M176.28 141.31h0M165.02 146.99h0M146.64 155.37h0M181.77 137.8h0M170.22 159.31h0M169.1 158.44h0M170.79 132.38h0M180.09 148.54h0M192.05 150.96h0M180.63 145.93h0M182.47 158.55h0M186.77 141.18h0M138.23 165.22h0M160.71 135.04h0M175.58 142.03h0M184.24 140.98h0M164.88 150.88h0M181.35 142.9h0M184.58 145.12h0M167.37 138.33h0M182.91 139.57h0M133.91 137.03h0M135.56 143.13h0M164.43 145.55h0M167.5 148.98h0M178.38 144.69h0M162.23 165.38h0M162.54 142.26h0M161.5 143.05h0M169.24 153.85h0M194.29 135.75h0M173.56 147.39h0M190.88 158.06h0M161 137.7h0M189.95 151.71h0M162.55 143.7h0M152.25 149.49h0M171.45 165.48h0M184.9 141.91h0M192.69 159.03h0M154.23 152.01h0M153.89 130.28h0M159.25 148.51h0M178.62 143.86h0M199.01 156.78h0M189.66 146.84h0M156.04 144.81h0M152.26 133.43h0M163.27 138.75h0M196.59 153.08h0M160.52 145.23h0M158.03 139.24h0M178.13 153.07h0M163.99 140.92h0M151.43 132.84h0M162.35 147.82h0M160.05 133.85h0M188.79 138.02h0M185.99 147.07h0M203.13 143.73h0M182.43 143.15h0M187.36 145.71h0M172.5 159.08h0M209.15 159.04h0M139.76 150.4h0M207.11 139.73h0M165.33 144.49h0M174.84 162.21h0M169.73 144.55h0M194.57 157.44h0M138.02 156.88h0M180.7 146.82h0M177.71 146.12h0M169.2 157.16h0M182.73 144.6h0M184.78 138.16h0M154.78 163.74h0M145.78 129h0M160.14 143.15h0M174.99 141.52h0M228.33 154.24h0M172.43 151.5h0M179.3 143.37h0M159.2 136.07h0M194.21 144.84h0M173.42 148.81h0M148.05 140.46h0M159.12 149.97h0M191.73 155.13h0M166.61 140.02h0M205.97 154.23h0M193.51 153.21h0M181.67 143.79h0M156.41 138.13h0M205.02 148.5h0M179.7 156.34h0M204.83 148.4h0M154.12 139.99h0M151.06 150.9h0M139.97 134.46h0M211.82 154.16h0M164.43 150.87h0M165.89 142.3h0M199.38 156.26h0M182.53 161.33h0M200.46 149.3h0M163.66 134.7h0M173.49 136.52h0M193.02 135.5h0M162 145.88h0M181.34 148.95h0M200.45 154.08h0M191.83 137.67h0M142.92 152.58h0M160.29 150.38h0M181.71 148.82h0M176.55 150.7h0M173.89 143.32h0M187.58 153.82h0M173.36 152.82h0M172.29 157.91h0M191.04 142.92h0M173.22 152.22h0M167.69 151.74h0M149.7 133.08h0M229.69 159.78h0M155.93 141.52h0M185.27 159.74h0M143.45 141.05h0M142.29 134.24h0M167.05 145.96h0M175.19 151.38h0M172.89 149.26h0M195.84 149.04h0M174.71 151.12h0M164.75 152.11h0M175.42 133.06h0M193.7 146.4h0M202.86 141.01h0M178.67 148.57h0M157.08 144.11h0M170.02 158.92h0M153.99 131.01h0M178.79 143.51h0M178.55 150.86h0M182.88 139.27h0M170.13 142.88h0M192.21 151.82h0M178.05 152.93h0M185.23 150.53h0M194.22 154.09h0M203.2 151.16h0M161.34 153.18h0M186.21 154.31h0M205.11 139.09h0M183.82 158.5h0M174.85 152.64h0M145.27 142.05h0M211.68 153.39h0M188.64 138.09h0M159.34 148.75h0M179.69 143.76h0M156.29 144.31h0M173.47 139.72h0M148.81 149.83h0M166.91 149.03h0M187.2 152.63h0M220.56 155.24h0M189.15 140.14h0M191.21 149.63h0M161.52 148.23h0M186.26 146.84h0M184.87 143.29h0M160.62 153.38h0M199.09 152.26h0M149.02 131.31h0M161.45 153.42h0M191.25 156.72h0M160.83 138.22h0M161.68 127.1h0M176.86 126.67h0M177.38 146.81h0M164.63 148.17h0M166.95 146.79h0M188.02 157.6h0M160.05 162.21h0M200.14 149.17h0M175.02 147.54h0M191.87 145.65h0M189.31 149.23h0M173.24 147.41h0M144.42 136.92h0M149.13 153.14h0M186.35 147.35h0M188.69 134.86h0M206.06 138.38h0M171.51 131.21h0M160.68 146.89h0M191.74 149.73h0M173.24 149.69h0M197.83 167.34h0M196.31 140.26h0M174.05 142.74h0M159.22 137.66h0M225.89 157.18h0M198.35 148.92h0M169.65 150.49h0M172.11 156.49h0M152.78 133.04h0M174.95 142.86h0M180.38 143.77h0M150 152.84h0M185.72 140.1h0M156.3 150.39h0M157.56 141.05h0M180.94 147.2h0M164.49 143.83h0M175.77 152.83h0M180.76 152.52h0M191 143.26h0M163.87 141.93h0M176.36 152.57h0M160.12 158.92h0M156.53 143.33h0M195.23 153.11h0M177.89 144.63h0M188.16 144.49h0M195.55 142.46h0M162.64 143.31h0M136.49 146.15h0M175.58 142.69h0M170.25 140.44h0M197.11 154.84h0M166.25 144.57h0M183.36 146.49h0M189 156.98h0M188.08 138.95h0M193.61 144.95h0M171.31 143.81h0M174.01 159.17h0M165.23 146.81h0M166.71 153.73h0M171.41 149.72h0M176.39 147.55h0M178.09 139.68h0M177.51 144.13h0M155.02 168.44h0M168.62 141.53h0M169.63 151.54h0M154.73 139.05h0M166.51 144.7h0M193.96 144.13h0M212.37 150.35h0M191.07 142.75h0M164.4 146.09h0M165.9 154.38h0M180.21 153.33h0M203.04 154.44h0M166.24 145.86h0M166.66 146.18h0M165.19 157.38h0M135.32 154.57h0M200.42 145.22h0M177.79 150.81h0M172.84 144.67h0M152.25 151.83h0M160.51 136.59h0M153.94 130.62h0M163.72 110.82h0M186.97 159.21h0M190.22 124.16h0M153.36 132.6h0M150.98 124.91h0M195.86 157.7h0M186.02 158.31h0M178.02 131.02h0M168.07 130.72h0M174.67 165.3h0M175.3 160.67h0M171.67 116.51h0M167.21 133.06h0M163.58 168.34h0M175.62 131.97h0M153.81 129.06h0M174.37 123.36h0M157.4 161.38h0M154.62 160.3h0M150.69 174.72h0M179.08 165.56h0M169.05 130.95h0M163.12 171.9h0M190.79 166.43h0M153.9 113.85h0M164.2 117.31h0M180.36 154.72h0M192.19 167.11h0M173.71 157.8h0M197.57 126.81h0M152.03 130.01h0M158.99 128.89h0M181.44 121.72h0M160.58 129.26h0M155.58 154.68h0M164.97 133.31h0M148.12 124.74h0M207.61 120.68h0M173.4 120.49h0M172.31 128.63h0M180.1 167.85h0M167.98 123.67h0M174.64 127.89h0M176.98 169.7h0M169.69 124.3h0M122.91 130.89h0M165.5 160.24h0M148.64 127.3h0M179.96 120.28h0M155.43 156.42h0M189.63 133.3h0M156.31 123.88h0M158.64 161.65h0M174.59 123.18h0M152.4 130.91h0M162.69 158.92h0M182.51 129.33h0M167 154.83h0M162.41 160.02h0M150.03 160.42h0M211.93 159.33h0M169.63 155.54h0M180.86 159.22h0M163.73 160.14h0M164.74 117.38h0M199.12 160h0M175.24 155.5h0M198.46 155.94h0M170.1 154.68h0M203.04 129.79h0M165.64 159.1h0M175.53 159.28h0M185.04 115.44h0M166.1 124.9h0M165.8 157.62h0M170.39 171.61h0M155.99 128.64h0M162.19 156.47h0M179.95 126.25h0M153.13 126.99h0M158.92 156.59h0M155.86 133.86h0M175 132.18h0M170.66 121.55h0M173.77 156.02h0M190.35 162.58h0M158.16 166.66h0M177.41 120.4h0M180.31 130.3h0M178.35 132.12h0M173.79 162.04h0M174.17 156.27h0M169.7 154.66h0M196.88 131.12h0M165.72 132.09h0M151.25 129.34h0M162.03 166.56h0M210.27 152.13h0M134.58 123.31h0M161.69 138.45h0M221.71 146.11h0M153.3 144.38h0M142.72 132.39h0M187.49 164.22h0M185.24 139.3h0M192.56 161.01h0M161.6 159.17h0M149.22 138.34h0M176.7 132.69h0M181.54 154.03h0M146.45 122.4h0M179.28 149.86h0M155.15 156.69h0M188.95 163.88h0M187.95 143.77h0M168.01 166.89h0M184.36 133.25h0M158.87 160.23h0M198.34 152.27h0M163.02 130.35h0M170.18 141.68h0M167.59 155.97h0M180.42 160.39h0M139.29 146.55h0M201.34 141.16h0M220.72 147.12h0M209.17 153.54h0M166.91 140.71h0M156.31 134.84h0M166.65 143.22h0M158.32 146.08h0M196.09 156.18h0M162 141.8h0M194.04 155.31h0M151.79 162.13h0M148.28 128.82h0M174.06 142.28h0M198.01 150.43h0M185.82 157.27h0M142.71 132.89h0M173.9 141.05h0M153.93 145.11h0M217.4 169h0M177.9 132.94h0M171.11 145.94h0M132 128.5h0M166.8 130.57h0M174.01 152.77h0M184.86 153.73h0M165.28 127.04h0M196.11 152.13h0M192.53 142.45h0M187.85 150.91h0M177.37 143.94h0M187.52 147.04h0M164.55 146.81h0M185.31 162.97h0M175.7 139.25h0M179.36 152.94h0M175.41 154.42h0M196.1 158.08h0M141.62 155.17h0M182.05 147.51h0M166.17 162.34h0M172.81 158.14h0M162.38 145.36h0M160.11 140.98h0M160.68 150.62h0M171.2 129.57h0M208.31 144.82h0M160.74 144.88h0M194.67 143.23h0M142.4 141.21h0M160.68 135.75h0M189 158.29h0M219.93 162.55h0M226.1 162.71h0M174.14 124.97h0M165.06 151.73h0M206.22 156.34h0M185.71 166.29h0M212.66 145.42h0M183.22 141.72h0M165.6 151.88h0M143.58 136.3h0M201.31 144.24h0M194.79 144.46h0M156.97 159.91h0M189.06 149.71h0M196.15 156.78h0M157.76 138.79h0M164.44 165.77h0M163.38 156.23h0M152.97 149.75h0M195.39 124.64h0M211.41 162.14h0M199.37 155.08h0M184.16 158.77h0M174.36 168.58h0M212.72 166.7h0M187.92 158.58h0M181.44 164.18h0M168.18 135.62h0M188.1 175.08h0M193.39 168.69h0M181.75 143.67h0M162.68 149.24h0M170.83 142.47h0M194.68 136.54h0M182.6 125.97h0M156.42 122.3h0M170.5 137.95h0M173.3 146.92h0M157.01 139.31h0M217.52 156.76h0M175.45 148.39h0M190.54 154.55h0M175.79 145.91h0M202.67 143.46h0M154.24 151h0M176.3 138.38h0M195.79 155.85h0M219.62 161.04h0M204.79 138.25h0M208.69 154h0M187.73 169.91h0M139.29 147.15h0M190.67 139.22h0M173.77 135.45h0M187.77 132.95h0M143.16 150.72h0M156.21 156.47h0M209.78 167.9h0M158.84 149.28h0M194.07 158.51h0M191.03 145.53h0M162.72 174.01h0M157.01 159.13h0M209.53 165.34h0M153.86 138.7h0M176.99 160.16h0M198.41 142.89h0M181.63 159.12h0M157.93 169.07h0M183.77 145.71h0M156.95 143.71h0M243.35 178.45h0M140.75 132.73h0M167.11 152.45h0M188.68 153.23h0M196.36 147.25h0M199.78 152.87h0M131.46 121.46h0M140.86 127.52h0M181.07 166.65h0M177.25 138.25h0M154.85 143.02h0M160.68 157.1h0M163.17 130.09h0M190.01 152.35h0M174.21 146.66h0M181.78 147.79h0M140.51 128.96h0M158.25 175.92h0M190.37 166.71h0M172.96 149.04h0M163.71 139.2h0M170.27 150.64h0M156.21 147.28h0M154.53 142.98h0M203.16 142.94h0M184.71 167.25h0M197.09 142.4h0M218.39 186.12h0M176.22 152.74h0M198.32 167.2h0M168.04 118.61h0M196.4 177.74h0M176.31 132.14h0M163.14 138.33h0M177.93 166.86h0M162.96 131.76h0M200.34 161.82h0M199.11 162.87h0M180.98 150.14h0M150.09 138.54h0M167.85 180.04h0M158.77 154.82h0M158.64 156.38h0M161.66 175.01h0M194.27 152.2h0M181.13 153.16h0M177.2 152.17h0M153.37 161.71h0M177.42 136.67h0M180.73 130.23h0M147.7 145.12h0M163.13 130.62h0M210.9 163.44h0M190.99 155.26h0M155.25 145.07h0M154.38 124.66h0M188.08 137.17h0M183.29 180.06h0M192.46 151.56h0M126.63 135.62h0M196.78 132.89h0M154.75 134.01h0M182.77 152.45h0M170.02 140.84h0M187.8 143.55h0M167.45 162.74h0M203.12 139.43h0M164.22 146.28h0M192.56 174.14h0M186.2 121.69h0M181.49 158.66h0M218.1 158.75h0M180.26 154.95h0M179.61 171.5h0M149.39 160.35h0M194.52 154.33h0M199.69 179.31h0M163.5 127.97h0M159.52 167.54h0M160.48 149.24h0M175.61 132.75h0M203.34 136.38h0M187.89 157.74h0M165.66 164.33h0M202.17 139.74h0M177.72 160.05h0M189.82 146.11h0M179.07 163.69h0M180.82 156.84h0M191.14 145.1h0M184.97 156.14h0M207.33 146.83h0M202.07 144.78h0M189.57 147.25h0M153.81 165.66h0M156.56 136.59h0M194.69 151.03h0M177.73 126.75h0M167.68 168.56h0M143.96 145h0M190.32 143.22h0M171.32 137.66h0M174.89 157.36h0M168.08 137.64h0M195.56 167.21h0M155.5 142.35h0M219.71 173.57h0M150.06 137.42h0M186.38 158.75h0M175.35 142.7h0M139.95 140.4h0M139 66.1h0M180.8 76.3h0M185.3 76.3h0M213.5 88h0M157 82.4h0M163.5 92h0M171.2 92.7h0M171.2 94.7h0M157 94h0M169.6 98.2h0M177.8 99.2h0M160.4 104.3h0M179.8 108.6h0M191 109.6h0M193 109h0M203.3 112h0M213 110h0M191.6 115h0M220.6 118.6h0M218 120.8h0M127.8 124.3h0M99.2 139.6h0M111.4 137h0M101.8 150.8h0M110.4 146.7h0M118.6 145.7h0M119.6 138.6h0M140 176h0M145 178h0M164.5 183.5h0M169.2 199.8h0M178.2 191.6h0M191.6 196.7h0M214.5 187.5h0M214 193.7h0M227.8 184.5h0M210.4 210h0M215.5 212h0M246 183.5h0M242 175.3h0M232.9 171.2h0M222.7 175.3h0M207.3 178.4h0M202.2 178.4h0M192 182h0M228.2 138.3h0M233.3 140h0M236.8 147.2h0M241.4 152.3h0M245.3 152.8h0M246.5 165h0M242.2 175.3h0M245.8 183.7h0M255 179.3h0M227.4 185h0M189.1 218.6h0M189.9 221.2h0M190.4 224.2h0M230 171.4h0M239.4 157.4h0M203.2 111.5h0M221 118.6h0M218.5 120.4h0M124 128h0M132 127h0M128 152h0M126 156h0M133 160h0M150 170h0M155 173h0M160 178h0M186 176h0M198 168h0M225 162h0M232 158h0M236 160h0M180 190h0M174 181h0" stroke="#000" stroke-width="3.7" stroke-linecap="round" fill="none"/>
<line x1="52.3" y1="16.2" x2="52.3" y2="272.3" stroke="#111" stroke-width="1.1"/>
<line x1="51.8" y1="271.8" x2="307.3" y2="271.8" stroke="#111" stroke-width="1.1"/>
<line x1="48.3" y1="16.8" x2="52.3" y2="16.8" stroke="#111" stroke-width="1"/>
<text x="47" y="19.8" font-size="8.4" text-anchor="end" font-weight="bold" fill="#000">10</text>
<line x1="48.3" y1="80.55" x2="52.3" y2="80.55" stroke="#111" stroke-width="1"/>
<text x="47" y="83.55" font-size="8.4" text-anchor="end" font-weight="bold" fill="#000">5</text>
<line x1="48.3" y1="144.3" x2="52.3" y2="144.3" stroke="#111" stroke-width="1"/>
<text x="47" y="147.3" font-size="8.4" text-anchor="end" font-weight="bold" fill="#000">0</text>
<line x1="48.3" y1="208.05" x2="52.3" y2="208.05" stroke="#111" stroke-width="1"/>
<text x="47" y="211.05" font-size="8.4" text-anchor="end" font-weight="bold" fill="#000">-5</text>
<line x1="48.3" y1="271.8" x2="52.3" y2="271.8" stroke="#111" stroke-width="1"/>
<text x="47" y="274.8" font-size="8.4" text-anchor="end" font-weight="bold" fill="#000">-10</text>
<line x1="52.4" y1="271.8" x2="52.4" y2="275.8" stroke="#111" stroke-width="1"/>
<text x="52.4" y="285.2" font-size="8.4" text-anchor="middle" font-weight="bold" fill="#000">-20</text>
<line x1="116.05" y1="271.8" x2="116.05" y2="275.8" stroke="#111" stroke-width="1"/>
<text x="116.05" y="285.2" font-size="8.4" text-anchor="middle" font-weight="bold" fill="#000">-10</text>
<line x1="179.7" y1="271.8" x2="179.7" y2="275.8" stroke="#111" stroke-width="1"/>
<text x="179.7" y="285.2" font-size="8.4" text-anchor="middle" font-weight="bold" fill="#000">0</text>
<line x1="243.35" y1="271.8" x2="243.35" y2="275.8" stroke="#111" stroke-width="1"/>
<text x="243.35" y="285.2" font-size="8.4" text-anchor="middle" font-weight="bold" fill="#000">10</text>
<line x1="307" y1="271.8" x2="307" y2="275.8" stroke="#111" stroke-width="1"/>
<text x="307" y="285.2" font-size="8.4" text-anchor="middle" font-weight="bold" fill="#000">20</text>
<text x="179.7" y="299" font-size="10.2" text-anchor="middle" font-weight="bold" fill="#000">Tiaki Bulk</text>
<text x="35.3" y="143" font-size="10" text-anchor="middle" font-weight="bold" fill="#000" transform="rotate(-90 35.3 143)">TGF-β</text>
<text x="309.3" y="135" font-size="6.8" text-anchor="start" font-weight="bold" fill="#000">5<tspan font-size="4.6" dy="-2.6">th</tspan><tspan dy="2.6"> percentile</tspan></text>
<text x="309.3" y="146.6" font-size="6.8" text-anchor="start" font-weight="bold" fill="#000">median</text>
<text x="309.3" y="156" font-size="6.8" text-anchor="start" font-weight="bold" fill="#000">95<tspan font-size="4.6" dy="-2.6">th</tspan><tspan dy="2.6"> percentile</tspan></text>
<rect x="407" y="25.8" width="47" height="1.3" fill="#0818b0"/>
<rect x="407" y="26.8" width="47" height="1.3" fill="#2a3ce0"/>
<rect x="407" y="27.8" width="47" height="1.5" fill="#6a78ec"/>
<rect x="407" y="29" width="47" height="2.3" fill="#a0a8f2"/>
<rect x="407" y="31" width="47" height="3.3" fill="#b3b9f4"/>
<rect x="407" y="34" width="47" height="3.5" fill="#bcc0f5"/>
<rect x="407" y="37.2" width="47" height="3.1" fill="#babef5"/>
<rect x="407" y="40" width="47" height="3.5" fill="#c4c8f6"/>
<rect x="407" y="43.2" width="47" height="3.5" fill="#c6caf6"/>
<rect x="407" y="46.4" width="47" height="1.9" fill="#c4c8f6"/>
<rect x="407" y="48" width="47" height="1.9" fill="#c1c5f6"/>
<rect x="407" y="49.6" width="47" height="0.7" fill="#c5c9f6"/>
<rect x="407" y="50" width="47" height="3.5" fill="#ccd0f7"/>
<rect x="407" y="53.2" width="47" height="3.5" fill="#cacef7"/>
<rect x="407" y="56.4" width="47" height="1.9" fill="#cacef7"/>
<rect x="407" y="58" width="47" height="3.5" fill="#cdd0f8"/>
<rect x="407" y="61.2" width="47" height="3.5" fill="#ced1f8"/>
<rect x="407" y="64.4" width="47" height="1.9" fill="#ced1f8"/>
<rect x="407" y="66" width="47" height="1.9" fill="#f4f4fd"/>
<rect x="407" y="67.6" width="47" height="3.5" fill="#f4f4fd"/>
<rect x="407" y="70.8" width="47" height="0.5" fill="#f4f4fd"/>
<rect x="407" y="71" width="47" height="3.5" fill="#edeefc"/>
<rect x="407" y="74.2" width="47" height="1.9" fill="#eeeffc"/>
<rect x="407" y="75.8" width="47" height="5.1" fill="#edeefc"/>
<rect x="407" y="80.6" width="47" height="1.7" fill="#eeeffc"/>
<rect x="407" y="82" width="47" height="3.5" fill="#e9eafc"/>
<rect x="407" y="85.2" width="47" height="1.9" fill="#e9eafc"/>
<rect x="407" y="86.8" width="47" height="1.9" fill="#e9eafc"/>
<rect x="407" y="88.4" width="47" height="1.9" fill="#e7e8fc"/>
<rect x="407" y="90" width="47" height="1.9" fill="#f2f2fd"/>
<rect x="407" y="91.6" width="47" height="1.9" fill="#f2f2fd"/>
<rect x="407" y="93.2" width="47" height="1.9" fill="#f2f2fd"/>
<rect x="407" y="94.8" width="47" height="1.9" fill="#f3f3fd"/>
<rect x="407" y="96.4" width="47" height="1.9" fill="#f2f2fd"/>
<rect x="407" y="98" width="47" height="1.9" fill="#f2f2fd"/>
<rect x="407" y="99.6" width="47" height="0.7" fill="#f2f2fd"/>
<rect x="407" y="100" width="47" height="1.9" fill="#ececfc"/>
<rect x="407" y="101.6" width="47" height="1.9" fill="#ededfc"/>
<rect x="407" y="103.2" width="47" height="1.9" fill="#ececfc"/>
<rect x="407" y="104.8" width="47" height="1.9" fill="#ececfc"/>
<rect x="407" y="106.4" width="47" height="3.5" fill="#ededfc"/>
<rect x="407" y="109.6" width="47" height="1.9" fill="#ebebfc"/>
<rect x="407" y="111.2" width="47" height="5.1" fill="#ebebfc"/>
<rect x="407" y="116" width="47" height="1.9" fill="#ececfc"/>
<rect x="407" y="117.6" width="47" height="2.7" fill="#ebebfc"/>
<rect x="407" y="120" width="47" height="3.5" fill="#e7e8fb"/>
<rect x="407" y="123.2" width="47" height="3.5" fill="#e7e8fb"/>
<rect x="407" y="126.4" width="47" height="5.1" fill="#e9eafb"/>
<rect x="407" y="131.2" width="47" height="3.5" fill="#e8e9fb"/>
<rect x="407" y="134.4" width="47" height="1.9" fill="#e8e9fb"/>
<rect x="407" y="136" width="47" height="1.9" fill="#e7e8fb"/>
<rect x="407" y="137.6" width="47" height="2.7" fill="#e7e8fb"/>
<rect x="407" y="140" width="47" height="1.9" fill="#e5e6fb"/>
<rect x="407" y="141.6" width="47" height="3.5" fill="#e7e8fb"/>
<rect x="407" y="144.8" width="47" height="3.5" fill="#e6e7fb"/>
<rect x="407" y="148" width="47" height="1.9" fill="#e5e6fb"/>
<rect x="407" y="149.6" width="47" height="1.9" fill="#e5e6fb"/>
<rect x="407" y="151.2" width="47" height="1.9" fill="#e5e6fb"/>
<rect x="407" y="152.8" width="47" height="3.5" fill="#e5e7fb"/>
<rect x="407" y="156" width="47" height="1.9" fill="#e6e7fb"/>
<rect x="407" y="157.6" width="47" height="1.9" fill="#e5e6fb"/>
<rect x="407" y="159.2" width="47" height="1.1" fill="#e6e7fb"/>
<rect x="407" y="160" width="47" height="1.9" fill="#eeeffc"/>
<rect x="407" y="161.6" width="47" height="1.9" fill="#eeeffc"/>
<rect x="407" y="163.2" width="47" height="1.9" fill="#eff0fc"/>
<rect x="407" y="164.8" width="47" height="3.5" fill="#eff0fc"/>
<rect x="407" y="168" width="47" height="1.9" fill="#eff0fc"/>
<rect x="407" y="169.6" width="47" height="1.9" fill="#eeeffc"/>
<rect x="407" y="171.2" width="47" height="1.9" fill="#eff0fc"/>
<rect x="407" y="172.8" width="47" height="3.5" fill="#edeffc"/>
<rect x="407" y="176" width="47" height="1.9" fill="#edeefc"/>
<rect x="407" y="177.6" width="47" height="5.1" fill="#eff0fc"/>
<rect x="407" y="182.4" width="47" height="1.9" fill="#eeeffc"/>
<rect x="407" y="184" width="47" height="3.5" fill="#eff0fc"/>
<rect x="407" y="187.2" width="47" height="3.5" fill="#edeefc"/>
<rect x="407" y="190.4" width="47" height="1.9" fill="#edeefc"/>
<rect x="407" y="192" width="47" height="1.9" fill="#eeeffc"/>
<rect x="407" y="193.6" width="47" height="1.9" fill="#edeefc"/>
<rect x="407" y="195.2" width="47" height="5.1" fill="#eeeffc"/>
<rect x="407" y="200" width="47" height="3.5" fill="#eff0fc"/>
<rect x="407" y="203.2" width="47" height="3.5" fill="#eeeffc"/>
<rect x="407" y="206.4" width="47" height="3.5" fill="#edeefc"/>
<rect x="407" y="209.6" width="47" height="5.1" fill="#eff0fc"/>
<rect x="407" y="214.4" width="47" height="1.9" fill="#edeefc"/>
<rect x="407" y="216" width="47" height="3.5" fill="#eeeffc"/>
<rect x="407" y="219.2" width="47" height="3.5" fill="#eeeffc"/>
<rect x="407" y="222.4" width="47" height="1.9" fill="#edeefc"/>
<rect x="407" y="224" width="47" height="1.9" fill="#efeffc"/>
<rect x="407" y="225.6" width="47" height="1.9" fill="#eeeffc"/>
<rect x="407" y="227.2" width="47" height="3.1" fill="#edeffc"/>
<rect x="407" y="230" width="47" height="1.9" fill="#ebebfc"/>
<rect x="407" y="231.6" width="47" height="1.9" fill="#ececfc"/>
<rect x="407" y="233.2" width="47" height="1.9" fill="#ebebfc"/>
<rect x="407" y="234.8" width="47" height="1.9" fill="#ededfc"/>
<rect x="407" y="236.4" width="47" height="1.9" fill="#ececfc"/>
<rect x="407" y="238" width="47" height="5.1" fill="#ececfc"/>
<rect x="407" y="242.8" width="47" height="1.9" fill="#ececfc"/>
<rect x="407" y="244.4" width="47" height="1.9" fill="#ececfc"/>
<rect x="407" y="246" width="47" height="1.9" fill="#ececfc"/>
<rect x="407" y="247.6" width="47" height="1.9" fill="#ebebfc"/>
<rect x="407" y="249.2" width="47" height="5.1" fill="#ebebfc"/>
<rect x="407" y="254" width="47" height="1.9" fill="#ededfc"/>
<rect x="407" y="255.6" width="47" height="1.9" fill="#ebebfc"/>
<rect x="407" y="257.2" width="47" height="1.9" fill="#ebebfc"/>
<rect x="407" y="258.8" width="47" height="1.5" fill="#ececfc"/>
<rect x="407" y="260" width="47" height="1.9" fill="#f0f1fc"/>
<rect x="407" y="261.6" width="47" height="5.1" fill="#eff0fc"/>
<rect x="407" y="266.4" width="47" height="1.9" fill="#f0f1fc"/>
<rect x="407" y="268" width="47" height="1.9" fill="#eff0fc"/>
<rect x="407" y="269.6" width="47" height="5.1" fill="#eff0fc"/>
<rect x="407" y="274.4" width="47" height="1.9" fill="#f0f1fc"/>
<rect x="407" y="276" width="47" height="3.5" fill="#f0f1fc"/>
<rect x="407" y="279.2" width="47" height="1.9" fill="#f0f1fc"/>
<rect x="407" y="280.8" width="47" height="3.5" fill="#eeeffc"/>
<rect x="407" y="284" width="47" height="5.1" fill="#eff0fc"/>
<rect x="407" y="288.8" width="47" height="3.5" fill="#eeeffc"/>
<rect x="407" y="292" width="47" height="1.9" fill="#eeeffc"/>
<rect x="407" y="293.6" width="47" height="5.1" fill="#eeeffc"/>
<rect x="407" y="298.4" width="47" height="1.9" fill="#f0f1fc"/>
<rect x="407" y="300" width="47" height="5.1" fill="#eeeffc"/>
<rect x="407" y="304.8" width="47" height="5.1" fill="#eeeffc"/>
<rect x="407" y="309.6" width="47" height="3.5" fill="#eeeffc"/>
<rect x="407" y="312.8" width="47" height="3.5" fill="#edeefc"/>
<rect x="407" y="316" width="47" height="3.5" fill="#edeefc"/>
<rect x="407" y="319.2" width="47" height="3.5" fill="#edeefc"/>
<rect x="407" y="322.4" width="47" height="1.9" fill="#edeefc"/>
<rect x="407" y="324" width="47" height="5.1" fill="#edeefc"/>
<rect x="407" y="328.8" width="47" height="1.5" fill="#eeeffc"/>
<rect x="407" y="330" width="47" height="3.5" fill="#f1f1fd"/>
<rect x="407" y="333.2" width="47" height="1.9" fill="#f1f1fd"/>
<rect x="407" y="334.8" width="47" height="1.9" fill="#f1f1fd"/>
<rect x="407" y="336.4" width="47" height="1.9" fill="#f1f1fd"/>
<rect x="407" y="338" width="47" height="1.9" fill="#f1f1fd"/>
<rect x="407" y="339.6" width="47" height="3.5" fill="#f1f1fd"/>
<rect x="407" y="342.8" width="47" height="1.9" fill="#f1f1fd"/>
<rect x="407" y="344.4" width="47" height="5.1" fill="#f1f1fd"/>
<rect x="407" y="349.2" width="47" height="5.1" fill="#f1f1fd"/>
<rect x="407" y="354" width="47" height="1.9" fill="#f2f2fd"/>
<rect x="407" y="355.6" width="47" height="3.5" fill="#f1f1fd"/>
<rect x="407" y="358.8" width="47" height="1.5" fill="#f1f1fd"/>
<rect x="407" y="360" width="47" height="1.9" fill="#f0f0fd"/>
<rect x="407" y="361.6" width="47" height="1.9" fill="#f0f0fd"/>
<rect x="407" y="363.2" width="47" height="1.9" fill="#f1f1fd"/>
<rect x="407" y="364.8" width="47" height="1.9" fill="#f0f0fd"/>
<rect x="407" y="366.4" width="47" height="1.9" fill="#f1f1fd"/>
<rect x="407" y="368" width="47" height="3.5" fill="#f0f0fd"/>
<rect x="407" y="371.2" width="47" height="3.5" fill="#f0f0fd"/>
<rect x="407" y="374.4" width="47" height="1.9" fill="#f0f0fd"/>
<rect x="407" y="376" width="47" height="3.5" fill="#f0f0fd"/>
<rect x="407" y="379.2" width="47" height="1.9" fill="#f1f1fd"/>
<rect x="407" y="380.8" width="47" height="1.9" fill="#f1f1fd"/>
<rect x="407" y="382.4" width="47" height="1.9" fill="#f0f0fd"/>
<rect x="407" y="384" width="47" height="1.9" fill="#f0f0fd"/>
<rect x="407" y="385.6" width="47" height="1.9" fill="#f0f0fd"/>
<rect x="407" y="387.2" width="47" height="3.5" fill="#efeffd"/>
<rect x="407" y="390.4" width="47" height="1.9" fill="#f0f0fd"/>
<rect x="407" y="392" width="47" height="1.9" fill="#efeffd"/>
<rect x="407" y="393.6" width="47" height="1.9" fill="#f0f0fd"/>
<rect x="407" y="395.2" width="47" height="1.9" fill="#f1f1fd"/>
<rect x="407" y="396.8" width="47" height="4" fill="#efeffd"/>
<rect x="407" y="400.5" width="47" height="1.9" fill="#f8f8fe"/>
<rect x="407" y="402.1" width="47" height="5.1" fill="#f8f8fe"/>
<rect x="407" y="406.9" width="47" height="1.9" fill="#f8f8fe"/>
<rect x="407" y="408.5" width="47" height="5.1" fill="#f8f8fe"/>
<rect x="407" y="413.3" width="47" height="3.5" fill="#f8f8fe"/>
<rect x="407" y="416.5" width="47" height="5.1" fill="#f8f8fe"/>
<rect x="407" y="421.3" width="47" height="3.5" fill="#f8f8fe"/>
<rect x="407" y="424.5" width="47" height="1.9" fill="#f8f8fe"/>
<rect x="407" y="426.1" width="47" height="1.9" fill="#f8f8fe"/>
<rect x="407" y="427.7" width="47" height="3.5" fill="#f8f8fe"/>
<rect x="407" y="430.9" width="47" height="3.5" fill="#f8f8fe"/>
<rect x="407" y="434.1" width="47" height="1.9" fill="#f8f8fe"/>
<rect x="407" y="435.7" width="47" height="4.6" fill="#f8f8fe"/>
<rect x="407" y="440" width="47" height="1.9" fill="#f7f7fe"/>
<rect x="407" y="441.6" width="47" height="5.1" fill="#f7f7fe"/>
<rect x="407" y="446.4" width="47" height="3.5" fill="#f7f7fe"/>
<rect x="407" y="449.6" width="47" height="5.1" fill="#f7f7fe"/>
<rect x="407" y="454.4" width="47" height="1.9" fill="#f7f7fe"/>
<rect x="407" y="456" width="47" height="3.5" fill="#f7f7fe"/>
<rect x="407" y="459.2" width="47" height="3.5" fill="#f7f7fe"/>
<rect x="407" y="462.4" width="47" height="1.9" fill="#f7f7fe"/>
<rect x="407" y="464" width="47" height="5.1" fill="#f7f7fe"/>
<rect x="407" y="468.8" width="47" height="1.5" fill="#f7f7fe"/>
<rect x="407" y="470" width="47" height="5.1" fill="#f6f6fe"/>
<rect x="407" y="474.8" width="47" height="1.9" fill="#f5f5fe"/>
<rect x="407" y="476.4" width="47" height="3.5" fill="#f6f6fe"/>
<rect x="407" y="479.6" width="47" height="1.9" fill="#f5f5fe"/>
<rect x="407" y="481.2" width="47" height="1.9" fill="#f5f5fe"/>
<rect x="407" y="482.8" width="47" height="5.1" fill="#f5f5fe"/>
<rect x="407" y="487.6" width="47" height="1.9" fill="#f5f5fe"/>
<rect x="407" y="489.2" width="47" height="1.9" fill="#f5f5fe"/>
<rect x="407" y="490.8" width="47" height="3.5" fill="#f5f5fe"/>
<rect x="407" y="494" width="47" height="1.9" fill="#f5f5fe"/>
<rect x="407" y="495.6" width="47" height="1.9" fill="#f5f5fe"/>
<rect x="407" y="497.2" width="47" height="1.9" fill="#f5f5fe"/>
<rect x="407" y="498.8" width="47" height="1.5" fill="#f5f5fe"/>
<rect x="407" y="500" width="47" height="1.9" fill="#f2f2fd"/>
<rect x="407" y="501.6" width="47" height="1.9" fill="#f2f2fd"/>
<rect x="407" y="503.2" width="47" height="3.5" fill="#f3f3fd"/>
<rect x="407" y="506.4" width="47" height="3.5" fill="#f3f3fd"/>
<rect x="407" y="509.6" width="47" height="5.1" fill="#f2f2fd"/>
<rect x="407" y="514.4" width="47" height="3.5" fill="#f2f2fd"/>
<rect x="407" y="517.6" width="47" height="5.1" fill="#f1f1fd"/>
<rect x="407" y="522.4" width="47" height="1.9" fill="#f2f2fd"/>
<rect x="407" y="524" width="47" height="3.5" fill="#f2f2fd"/>
<rect x="407" y="527.2" width="47" height="3.1" fill="#f2f2fd"/>
<rect x="407" y="530" width="47" height="1.9" fill="#f6f6fe"/>
<rect x="407" y="531.6" width="47" height="3.5" fill="#f6f6fe"/>
<rect x="407" y="534.8" width="47" height="5.1" fill="#f6f6fe"/>
<rect x="407" y="539.6" width="47" height="3.5" fill="#f6f6fe"/>
<rect x="407" y="542.8" width="47" height="1.9" fill="#f7f7fe"/>
<rect x="407" y="544.4" width="47" height="3.5" fill="#f6f6fe"/>
<rect x="407" y="547.6" width="47" height="3.5" fill="#f6f6fe"/>
<rect x="407" y="550.8" width="47" height="3.5" fill="#f6f6fe"/>
<rect x="407" y="554" width="47" height="1.9" fill="#f6f6fe"/>
<rect x="407" y="555.6" width="47" height="1.9" fill="#f6f6fe"/>
<rect x="407" y="557.2" width="47" height="1.9" fill="#f6f6fe"/>
<rect x="407" y="558.8" width="47" height="3.5" fill="#f6f6fe"/>
<rect x="407" y="562" width="47" height="3.5" fill="#f6f6fe"/>
<rect x="407" y="565.2" width="47" height="1.9" fill="#f6f6fe"/>
<rect x="407" y="566.8" width="47" height="1.9" fill="#f6f6fe"/>
<rect x="407" y="568.4" width="47" height="3.5" fill="#f6f6fe"/>
<rect x="407" y="571.6" width="47" height="3.5" fill="#f6f6fe"/>
<rect x="407" y="574.8" width="47" height="3.5" fill="#f6f6fe"/>
<rect x="407" y="578" width="47" height="1.9" fill="#f6f6fe"/>
<rect x="407" y="579.6" width="47" height="0.7" fill="#f6f6fe"/>
<rect x="407" y="580" width="47" height="1.9" fill="#f7f7fe"/>
<rect x="407" y="581.6" width="47" height="3.5" fill="#f7f7fe"/>
<rect x="407" y="584.8" width="47" height="1.9" fill="#f7f7fe"/>
<rect x="407" y="586.4" width="47" height="1.9" fill="#f7f7fe"/>
<rect x="407" y="588" width="47" height="1.9" fill="#f7f7fe"/>
<rect x="407" y="589.6" width="47" height="5.1" fill="#f7f7fe"/>
<rect x="407" y="594.4" width="47" height="5.1" fill="#f7f7fe"/>
<rect x="407" y="599.2" width="47" height="3.5" fill="#f7f7fe"/>
<rect x="407" y="602.4" width="47" height="3.5" fill="#f7f7fe"/>
<rect x="407" y="605.6" width="47" height="1.9" fill="#f7f7fe"/>
<rect x="407" y="607.2" width="47" height="3.1" fill="#f7f7fe"/>
<rect x="407" y="610" width="47" height="1.9" fill="#f8f8fe"/>
<rect x="407" y="611.6" width="47" height="3.5" fill="#f8f8fe"/>
<rect x="407" y="614.8" width="47" height="5.1" fill="#f8f8fe"/>
<rect x="407" y="619.6" width="47" height="3.5" fill="#f8f8fe"/>
<rect x="407" y="622.8" width="47" height="3.5" fill="#f8f8fe"/>
<rect x="407" y="626" width="47" height="5.1" fill="#f8f8fe"/>
<rect x="407" y="630.8" width="47" height="1.9" fill="#f8f8fe"/>
<rect x="407" y="632.4" width="47" height="3.5" fill="#f8f8fe"/>
<rect x="407" y="635.6" width="47" height="1.9" fill="#f8f8fe"/>
<rect x="407" y="637.2" width="47" height="5.1" fill="#f8f8fe"/>
<rect x="407" y="642" width="47" height="1.3" fill="#f8f8fe"/>
<rect x="454" y="25.8" width="46.8" height="2.5" fill="#fff2f2"/>
<rect x="454" y="28" width="46.8" height="1.9" fill="#fcd1d1"/>
<rect x="454" y="29.6" width="46.8" height="1.7" fill="#fccece"/>
<rect x="454" y="31" width="46.8" height="2.3" fill="#ffa8a0"/>
<rect x="454" y="33" width="46.8" height="1.9" fill="#fde1e1"/>
<rect x="454" y="34.6" width="46.8" height="1.7" fill="#fde1e1"/>
<rect x="454" y="36" width="46.8" height="1.9" fill="#fcdbdb"/>
<rect x="454" y="37.6" width="46.8" height="1.9" fill="#fcdada"/>
<rect x="454" y="39.2" width="46.8" height="1.1" fill="#fcdbdb"/>
<rect x="454" y="40" width="46.8" height="3.5" fill="#fde8e8"/>
<rect x="454" y="43.2" width="46.8" height="4.1" fill="#fde7e7"/>
<rect x="454" y="47" width="46.8" height="2.8" fill="#ff9a92"/>
<rect x="454" y="49.5" width="46.8" height="1.9" fill="#fcc7c7"/>
<rect x="454" y="51.1" width="46.8" height="1.2" fill="#fccbcb"/>
<rect x="454" y="52" width="46.8" height="1.9" fill="#fde3e3"/>
<rect x="454" y="53.6" width="46.8" height="3.5" fill="#fde4e4"/>
<rect x="454" y="56.8" width="46.8" height="1.5" fill="#fde4e4"/>
<rect x="454" y="58" width="46.8" height="4.3" fill="#fcdddd"/>
<rect x="454" y="62" width="46.8" height="1.9" fill="#fde6e6"/>
<rect x="454" y="63.6" width="46.8" height="1.9" fill="#fde5e5"/>
<rect x="454" y="65.2" width="46.8" height="1.3" fill="#fde6e6"/>
<rect x="454" y="66.2" width="46.8" height="3.5" fill="#ff2a11"/>
<rect x="454" y="69.4" width="46.8" height="0.9" fill="#ff2209"/>
<rect x="454" y="70" width="46.8" height="1.9" fill="#ff260d"/>
<rect x="454" y="71.6" width="46.8" height="1.9" fill="#ff3a24"/>
<rect x="454" y="73.2" width="46.8" height="1.1" fill="#ff240b"/>
<rect x="454" y="74" width="46.8" height="1.9" fill="#ffb5b5"/>
<rect x="454" y="75.6" width="46.8" height="2.7" fill="#ffb8b8"/>
<rect x="454" y="78" width="46.8" height="1.9" fill="#ffaaaa"/>
<rect x="454" y="79.6" width="46.8" height="2.7" fill="#ffabab"/>
<rect x="454" y="82" width="46.8" height="1.9" fill="#ff9999"/>
<rect x="454" y="83.6" width="46.8" height="3.5" fill="#ff9898"/>
<rect x="454" y="86.8" width="46.8" height="0.5" fill="#ff9c9c"/>
<rect x="454" y="87" width="46.8" height="1.9" fill="#ff9090"/>
<rect x="454" y="88.6" width="46.8" height="3.5" fill="#ff9292"/>
<rect x="454" y="91.8" width="46.8" height="0.5" fill="#ff9393"/>
<rect x="454" y="92" width="46.8" height="1.9" fill="#ffa1a1"/>
<rect x="454" y="93.6" width="46.8" height="1.9" fill="#ffa0a0"/>
<rect x="454" y="95.2" width="46.8" height="1.9" fill="#ff9e9e"/>
<rect x="454" y="96.8" width="46.8" height="0.5" fill="#ffa3a3"/>
<rect x="454" y="97" width="46.8" height="4.1" fill="#ffb4b4"/>
<rect x="454" y="100.8" width="46.8" height="5.1" fill="#fde9e9"/>
<rect x="454" y="105.6" width="46.8" height="3.5" fill="#fde8e8"/>
<rect x="454" y="108.8" width="46.8" height="1.5" fill="#fde8e8"/>
<rect x="454" y="110" width="46.8" height="1.9" fill="#fef1f1"/>
<rect x="454" y="111.6" width="46.8" height="1.9" fill="#fef0f0"/>
<rect x="454" y="113.2" width="46.8" height="1.9" fill="#fef0f0"/>
<rect x="454" y="114.8" width="46.8" height="1.9" fill="#fef1f1"/>
<rect x="454" y="116.4" width="46.8" height="1.9" fill="#feefef"/>
<rect x="454" y="118" width="46.8" height="1.9" fill="#fde9e9"/>
<rect x="454" y="119.6" width="46.8" height="5.1" fill="#fde8e8"/>
<rect x="454" y="124.4" width="46.8" height="3.5" fill="#fde9e9"/>
<rect x="454" y="127.6" width="46.8" height="0.7" fill="#fde7e7"/>
<rect x="454" y="128" width="46.8" height="1.9" fill="#fcdada"/>
<rect x="454" y="129.6" width="46.8" height="1.9" fill="#fcdbdb"/>
<rect x="454" y="131.2" width="46.8" height="1.9" fill="#fcdada"/>
<rect x="454" y="132.8" width="46.8" height="1.9" fill="#fcdede"/>
<rect x="454" y="134.4" width="46.8" height="3.5" fill="#fcdada"/>
<rect x="454" y="137.6" width="46.8" height="1.9" fill="#fcdede"/>
<rect x="454" y="139.2" width="46.8" height="1.1" fill="#fcdbdb"/>
<rect x="454" y="140" width="46.8" height="1.9" fill="#fcd9d9"/>
<rect x="454" y="141.6" width="46.8" height="3.5" fill="#fcd7d7"/>
<rect x="454" y="144.8" width="46.8" height="1.9" fill="#fcd7d7"/>
<rect x="454" y="146.4" width="46.8" height="0.9" fill="#fcd9d9"/>
<rect x="454" y="147" width="46.8" height="5.1" fill="#fcc1c1"/>
<rect x="454" y="151.8" width="46.8" height="0.5" fill="#fcc7c7"/>
<rect x="454" y="152" width="46.8" height="1.9" fill="#fff8f8"/>
<rect x="454" y="153.6" width="46.8" height="1.2" fill="#fff8f8"/>
<rect x="454" y="154.5" width="46.8" height="1.9" fill="#fde8e8"/>
<rect x="454" y="156.1" width="46.8" height="3.5" fill="#fde7e7"/>
<rect x="454" y="159.3" width="46.8" height="1.9" fill="#fde8e8"/>
<rect x="454" y="160.9" width="46.8" height="1.9" fill="#fde7e7"/>
<rect x="454" y="162.5" width="46.8" height="1.9" fill="#fde7e7"/>
<rect x="454" y="164.1" width="46.8" height="1.2" fill="#fde8e8"/>
<rect x="454" y="165" width="46.8" height="3.5" fill="#fef0f0"/>
<rect x="454" y="168.2" width="46.8" height="3.5" fill="#fef0f0"/>
<rect x="454" y="171.4" width="46.8" height="1.9" fill="#fef0f0"/>
<rect x="454" y="173" width="46.8" height="2.3" fill="#feefef"/>
<rect x="454" y="175" width="46.8" height="3.5" fill="#fde8e8"/>
<rect x="454" y="178.2" width="46.8" height="1.9" fill="#fde8e8"/>
<rect x="454" y="179.8" width="46.8" height="1.9" fill="#fde8e8"/>
<rect x="454" y="181.4" width="46.8" height="1.9" fill="#fde9e9"/>
<rect x="454" y="183" width="46.8" height="3.5" fill="#fde8e8"/>
<rect x="454" y="186.2" width="46.8" height="1.9" fill="#fde8e8"/>
<rect x="454" y="187.8" width="46.8" height="2.5" fill="#fde8e8"/>
<rect x="454" y="190" width="46.8" height="3.5" fill="#fef2f2"/>
<rect x="454" y="193.2" width="46.8" height="1.9" fill="#fef2f2"/>
<rect x="454" y="194.8" width="46.8" height="1.9" fill="#fef2f2"/>
<rect x="454" y="196.4" width="46.8" height="1.9" fill="#fef2f2"/>
<rect x="454" y="198" width="46.8" height="1.9" fill="#fef2f2"/>
<rect x="454" y="199.6" width="46.8" height="5.1" fill="#fef2f2"/>
<rect x="454" y="204.4" width="46.8" height="1.9" fill="#fef2f2"/>
<rect x="454" y="206" width="46.8" height="3.5" fill="#fef1f1"/>
<rect x="454" y="209.2" width="46.8" height="1.1" fill="#fef2f2"/>
<rect x="454" y="210" width="46.8" height="5.1" fill="#fdecec"/>
<rect x="454" y="214.8" width="46.8" height="1.9" fill="#fdeded"/>
<rect x="454" y="216.4" width="46.8" height="1.9" fill="#fdecec"/>
<rect x="454" y="218" width="46.8" height="5.1" fill="#fdeded"/>
<rect x="454" y="222.8" width="46.8" height="1.9" fill="#fdeded"/>
<rect x="454" y="224.4" width="46.8" height="1.9" fill="#fdecec"/>
<rect x="454" y="226" width="46.8" height="2.3" fill="#fdebeb"/>
<rect x="454" y="228" width="46.8" height="1.9" fill="#fcdada"/>
<rect x="454" y="229.6" width="46.8" height="1.9" fill="#fcdede"/>
<rect x="454" y="231.2" width="46.8" height="5.1" fill="#fcdede"/>
<rect x="454" y="236" width="46.8" height="1.9" fill="#fcdede"/>
<rect x="454" y="237.6" width="46.8" height="1.9" fill="#fcdcdc"/>
<rect x="454" y="239.2" width="46.8" height="1.9" fill="#fcdada"/>
<rect x="454" y="240.8" width="46.8" height="3.5" fill="#fcdcdc"/>
<rect x="454" y="244" width="46.8" height="1.3" fill="#fcdede"/>
<rect x="454" y="245" width="46.8" height="1.9" fill="#fcdada"/>
<rect x="454" y="246.6" width="46.8" height="1.9" fill="#fcd9d9"/>
<rect x="454" y="248.2" width="46.8" height="1.9" fill="#fcdbdb"/>
<rect x="454" y="249.8" width="46.8" height="3.5" fill="#fcdada"/>
<rect x="454" y="253" width="46.8" height="5.1" fill="#fcdada"/>
<rect x="454" y="257.8" width="46.8" height="3.5" fill="#fcd9d9"/>
<rect x="454" y="261" width="46.8" height="1.3" fill="#fcdada"/>
<rect x="454" y="262" width="46.8" height="1.9" fill="#fcd6d6"/>
<rect x="454" y="263.6" width="46.8" height="5.1" fill="#fcd2d2"/>
<rect x="454" y="268.4" width="46.8" height="3.5" fill="#fcd2d2"/>
<rect x="454" y="271.6" width="46.8" height="1.9" fill="#fcd5d5"/>
<rect x="454" y="273.2" width="46.8" height="2.1" fill="#fcd6d6"/>
<rect x="454" y="275" width="46.8" height="1.9" fill="#fcd7d7"/>
<rect x="454" y="276.6" width="46.8" height="5.1" fill="#fcd9d9"/>
<rect x="454" y="281.4" width="46.8" height="5.1" fill="#fcd8d8"/>
<rect x="454" y="286.2" width="46.8" height="4.1" fill="#fcd7d7"/>
<rect x="454" y="290" width="46.8" height="1.9" fill="#fddfdf"/>
<rect x="454" y="291.6" width="46.8" height="1.9" fill="#fde0e0"/>
<rect x="454" y="293.2" width="46.8" height="5.1" fill="#fde2e2"/>
<rect x="454" y="298" width="46.8" height="5.1" fill="#fddede"/>
<rect x="454" y="302.8" width="46.8" height="1.5" fill="#fddede"/>
<rect x="454" y="304" width="46.8" height="1.9" fill="#fde6e6"/>
<rect x="454" y="305.6" width="46.8" height="3.5" fill="#fde5e5"/>
<rect x="454" y="308.8" width="46.8" height="1.9" fill="#fde6e6"/>
<rect x="454" y="310.4" width="46.8" height="1.9" fill="#fde7e7"/>
<rect x="454" y="312" width="46.8" height="5.1" fill="#fde5e5"/>
<rect x="454" y="316.8" width="46.8" height="1.9" fill="#fde6e6"/>
<rect x="454" y="318.4" width="46.8" height="1.9" fill="#fde6e6"/>
<rect x="454" y="320" width="46.8" height="1.9" fill="#fde5e5"/>
<rect x="454" y="321.6" width="46.8" height="1.7" fill="#fde6e6"/>
<rect x="454" y="323" width="46.8" height="1.9" fill="#fde1e1"/>
<rect x="454" y="324.6" width="46.8" height="1.9" fill="#fde1e1"/>
<rect x="454" y="326.2" width="46.8" height="3.5" fill="#fde1e1"/>
<rect x="454" y="329.4" width="46.8" height="3.5" fill="#fde1e1"/>
<rect x="454" y="332.6" width="46.8" height="0.7" fill="#fde0e0"/>
<rect x="454" y="333" width="46.8" height="5.1" fill="#fef4f4"/>
<rect x="454" y="337.8" width="46.8" height="1.9" fill="#fef4f4"/>
<rect x="454" y="339.4" width="46.8" height="5.1" fill="#fef4f4"/>
<rect x="454" y="344.2" width="46.8" height="3.5" fill="#fef4f4"/>
<rect x="454" y="347.4" width="46.8" height="3.5" fill="#fef4f4"/>
<rect x="454" y="350.6" width="46.8" height="1.7" fill="#fef4f4"/>
<rect x="454" y="352" width="46.8" height="1.9" fill="#fdf0f0"/>
<rect x="454" y="353.6" width="46.8" height="3.5" fill="#fdf1f1"/>
<rect x="454" y="356.8" width="46.8" height="1.9" fill="#fdf0f0"/>
<rect x="454" y="358.4" width="46.8" height="3.5" fill="#fdf0f0"/>
<rect x="454" y="361.6" width="46.8" height="3.5" fill="#fdf1f1"/>
<rect x="454" y="364.8" width="46.8" height="3.5" fill="#fdf0f0"/>
<rect x="454" y="368" width="46.8" height="1.9" fill="#fdefef"/>
<rect x="454" y="369.6" width="46.8" height="1.9" fill="#fdf1f1"/>
<rect x="454" y="371.2" width="46.8" height="3.5" fill="#fdefef"/>
<rect x="454" y="374.4" width="46.8" height="1.9" fill="#fdf0f0"/>
<rect x="454" y="376" width="46.8" height="4.3" fill="#fdf0f0"/>
<rect x="454" y="380" width="46.8" height="1.9" fill="#fef2f2"/>
<rect x="454" y="381.6" width="46.8" height="5.1" fill="#fef2f2"/>
<rect x="454" y="386.4" width="46.8" height="1.9" fill="#fef3f3"/>
<rect x="454" y="388" width="46.8" height="1.9" fill="#fef2f2"/>
<rect x="454" y="389.6" width="46.8" height="3.5" fill="#fef2f2"/>
<rect x="454" y="392.8" width="46.8" height="5.1" fill="#fef3f3"/>
<rect x="454" y="397.6" width="46.8" height="3.5" fill="#fef2f2"/>
<rect x="454" y="400.8" width="46.8" height="1.9" fill="#fef2f2"/>
<rect x="454" y="402.4" width="46.8" height="1.9" fill="#fef2f2"/>
<rect x="454" y="404" width="46.8" height="1.3" fill="#fef3f3"/>
<rect x="454" y="405" width="46.8" height="1.9" fill="#fdeded"/>
<rect x="454" y="406.6" width="46.8" height="1.9" fill="#fdeded"/>
<rect x="454" y="408.2" width="46.8" height="5.1" fill="#fdeeee"/>
<rect x="454" y="413" width="46.8" height="3.5" fill="#fdefef"/>
<rect x="454" y="416.2" width="46.8" height="4.1" fill="#fdeeee"/>
<rect x="454" y="420" width="46.8" height="3.5" fill="#fde8e8"/>
<rect x="454" y="423.2" width="46.8" height="3.5" fill="#fde8e8"/>
<rect x="454" y="426.4" width="46.8" height="1.9" fill="#fde7e7"/>
<rect x="454" y="428" width="46.8" height="3.5" fill="#fde9e9"/>
<rect x="454" y="431.2" width="46.8" height="1.9" fill="#fde9e9"/>
<rect x="454" y="432.8" width="46.8" height="1.9" fill="#fde8e8"/>
<rect x="454" y="434.4" width="46.8" height="3.5" fill="#fde7e7"/>
<rect x="454" y="437.6" width="46.8" height="1.9" fill="#fde9e9"/>
<rect x="454" y="439.2" width="46.8" height="1.1" fill="#fde9e9"/>
<rect x="454" y="440" width="46.8" height="3.5" fill="#feefef"/>
<rect x="454" y="443.2" width="46.8" height="3.5" fill="#fef0f0"/>
<rect x="454" y="446.4" width="46.8" height="3.5" fill="#feefef"/>
<rect x="454" y="449.6" width="46.8" height="1.9" fill="#fef0f0"/>
<rect x="454" y="451.2" width="46.8" height="1.9" fill="#fef1f1"/>
<rect x="454" y="452.8" width="46.8" height="1.9" fill="#feefef"/>
<rect x="454" y="454.4" width="46.8" height="5.1" fill="#feefef"/>
<rect x="454" y="459.2" width="46.8" height="4.6" fill="#fef1f1"/>
<rect x="454" y="463.5" width="46.8" height="3.5" fill="#fcd7d7"/>
<rect x="454" y="466.7" width="46.8" height="1.9" fill="#fcd8d8"/>
<rect x="454" y="468.3" width="46.8" height="3.5" fill="#fcd7d7"/>
<rect x="454" y="471.5" width="46.8" height="3.5" fill="#fcd8d8"/>
<rect x="454" y="474.7" width="46.8" height="1.9" fill="#fcd9d9"/>
<rect x="454" y="476.3" width="46.8" height="1.9" fill="#fcd9d9"/>
<rect x="454" y="477.9" width="46.8" height="0.4" fill="#fcd8d8"/>
<rect x="454" y="478" width="46.8" height="4.3" fill="#fcc5c5"/>
<rect x="454" y="482" width="46.8" height="3.5" fill="#fcd6d6"/>
<rect x="454" y="485.2" width="46.8" height="3.5" fill="#fcd5d5"/>
<rect x="454" y="488.4" width="46.8" height="1.9" fill="#fcd3d3"/>
<rect x="454" y="490" width="46.8" height="1.9" fill="#fcc8c8"/>
<rect x="454" y="491.6" width="46.8" height="1.9" fill="#fcc9c9"/>
<rect x="454" y="493.2" width="46.8" height="3.5" fill="#fcc7c7"/>
<rect x="454" y="496.4" width="46.8" height="3.5" fill="#fcc5c5"/>
<rect x="454" y="499.6" width="46.8" height="1.9" fill="#fcc8c8"/>
<rect x="454" y="501.2" width="46.8" height="3.5" fill="#fcc9c9"/>
<rect x="454" y="504.4" width="46.8" height="0.9" fill="#fcc4c4"/>
<rect x="454" y="505" width="46.8" height="1.9" fill="#fcd3d3"/>
<rect x="454" y="506.6" width="46.8" height="3.5" fill="#fcd1d1"/>
<rect x="454" y="509.8" width="46.8" height="1.9" fill="#fccece"/>
<rect x="454" y="511.4" width="46.8" height="3.5" fill="#fcd0d0"/>
<rect x="454" y="514.6" width="46.8" height="1.9" fill="#fcd3d3"/>
<rect x="454" y="516.2" width="46.8" height="1.9" fill="#fcd0d0"/>
<rect x="454" y="517.8" width="46.8" height="2.5" fill="#fccece"/>
<rect x="454" y="520" width="46.8" height="5.1" fill="#fcd4d4"/>
<rect x="454" y="524.8" width="46.8" height="1.9" fill="#fcd8d8"/>
<rect x="454" y="526.4" width="46.8" height="3.5" fill="#fcd4d4"/>
<rect x="454" y="529.6" width="46.8" height="0.7" fill="#fcd8d8"/>
<rect x="454" y="530" width="46.8" height="1.9" fill="#fddfdf"/>
<rect x="454" y="531.6" width="46.8" height="1.9" fill="#fddfdf"/>
<rect x="454" y="533.2" width="46.8" height="1.9" fill="#fde0e0"/>
<rect x="454" y="534.8" width="46.8" height="3.5" fill="#fde1e1"/>
<rect x="454" y="538" width="46.8" height="3.5" fill="#fde0e0"/>
<rect x="454" y="541.2" width="46.8" height="3.5" fill="#fddfdf"/>
<rect x="454" y="544.4" width="46.8" height="1.9" fill="#fde0e0"/>
<rect x="454" y="546" width="46.8" height="1.9" fill="#fde6e6"/>
<rect x="454" y="547.6" width="46.8" height="3.5" fill="#fde6e6"/>
<rect x="454" y="550.8" width="46.8" height="1.9" fill="#fde6e6"/>
<rect x="454" y="552.4" width="46.8" height="0.9" fill="#fde7e7"/>
<rect x="454" y="553" width="46.8" height="1.9" fill="#fcdbdb"/>
<rect x="454" y="554.6" width="46.8" height="1.9" fill="#fcdada"/>
<rect x="454" y="556.2" width="46.8" height="1.9" fill="#fcdada"/>
<rect x="454" y="557.8" width="46.8" height="1.9" fill="#fcdcdc"/>
<rect x="454" y="559.4" width="46.8" height="3.5" fill="#fcdcdc"/>
<rect x="454" y="562.6" width="46.8" height="2.7" fill="#fcdbdb"/>
<rect x="454" y="565" width="46.8" height="1.9" fill="#fde3e3"/>
<rect x="454" y="566.6" width="46.8" height="1.9" fill="#fde3e3"/>
<rect x="454" y="568.2" width="46.8" height="3.5" fill="#fde3e3"/>
<rect x="454" y="571.4" width="46.8" height="3.5" fill="#fde3e3"/>
<rect x="454" y="574.6" width="46.8" height="5.1" fill="#fde2e2"/>
<rect x="454" y="579.4" width="46.8" height="0.9" fill="#fde2e2"/>
<rect x="454" y="580" width="46.8" height="1.9" fill="#fde7e7"/>
<rect x="454" y="581.6" width="46.8" height="3.5" fill="#fde7e7"/>
<rect x="454" y="584.8" width="46.8" height="5.1" fill="#fde9e9"/>
<rect x="454" y="589.6" width="46.8" height="1.9" fill="#fde8e8"/>
<rect x="454" y="591.2" width="46.8" height="1.9" fill="#fde7e7"/>
<rect x="454" y="592.8" width="46.8" height="1.9" fill="#fde7e7"/>
<rect x="454" y="594.4" width="46.8" height="0.9" fill="#fde9e9"/>
<rect x="454" y="595" width="46.8" height="1.9" fill="#fcdddd"/>
<rect x="454" y="596.6" width="46.8" height="3.5" fill="#fcdfdf"/>
<rect x="454" y="599.8" width="46.8" height="1.9" fill="#fce0e0"/>
<rect x="454" y="601.4" width="46.8" height="5.1" fill="#fcdede"/>
<rect x="454" y="606.2" width="46.8" height="5.1" fill="#fcdede"/>
<rect x="454" y="611" width="46.8" height="3.5" fill="#fcdddd"/>
<rect x="454" y="614.2" width="46.8" height="1.1" fill="#fcdede"/>
<rect x="454" y="615" width="46.8" height="5.1" fill="#fde5e5"/>
<rect x="454" y="619.8" width="46.8" height="3.5" fill="#fde5e5"/>
<rect x="454" y="623" width="46.8" height="3.5" fill="#fde6e6"/>
<rect x="454" y="626.2" width="46.8" height="3.5" fill="#fde5e5"/>
<rect x="454" y="629.4" width="46.8" height="0.9" fill="#fde5e5"/>
<rect x="454" y="630" width="46.8" height="3.5" fill="#fde1e1"/>
<rect x="454" y="633.2" width="46.8" height="1.9" fill="#fde4e4"/>
<rect x="454" y="634.8" width="46.8" height="5.1" fill="#fde3e3"/>
<rect x="454" y="639.6" width="46.8" height="1.9" fill="#fde1e1"/>
<rect x="454" y="641.2" width="46.8" height="1.9" fill="#fde1e1"/>
<rect x="454" y="642.8" width="46.8" height="0.5" fill="#fde3e3"/>
<rect x="407" y="25.6" width="93.8" height="617.4" fill="none" stroke="#111" stroke-width="1.3"/>
<line x1="501.1" y1="25.2" x2="501.1" y2="643.6" stroke="#111" stroke-width="1.8"/>
<rect x="615.7" y="25.8" width="46.8" height="5.1" fill="#ff9292"/>
<rect x="615.7" y="30.6" width="46.8" height="1.9" fill="#ff8e8e"/>
<rect x="615.7" y="32.2" width="46.8" height="1.9" fill="#ff9191"/>
<rect x="615.7" y="33.8" width="46.8" height="1.5" fill="#ff8f8f"/>
<rect x="615.7" y="35" width="46.8" height="1.9" fill="#ff8585"/>
<rect x="615.7" y="36.6" width="46.8" height="1.9" fill="#ff8787"/>
<rect x="615.7" y="38.2" width="46.8" height="1.9" fill="#ff8d8d"/>
<rect x="615.7" y="39.8" width="46.8" height="4.5" fill="#ff8484"/>
<rect x="615.7" y="44" width="46.8" height="3.5" fill="#ff7f7f"/>
<rect x="615.7" y="47.2" width="46.8" height="5.1" fill="#ff8282"/>
<rect x="615.7" y="52" width="46.8" height="3.5" fill="#ff7676"/>
<rect x="615.7" y="55.2" width="46.8" height="1.9" fill="#ff7676"/>
<rect x="615.7" y="56.8" width="46.8" height="1.5" fill="#ff7575"/>
<rect x="615.7" y="58" width="46.8" height="1.9" fill="#ff6969"/>
<rect x="615.7" y="59.6" width="46.8" height="3.5" fill="#ff7272"/>
<rect x="615.7" y="62.8" width="46.8" height="0.5" fill="#ff6b6b"/>
<rect x="615.7" y="63" width="46.8" height="1.9" fill="#ff8383"/>
<rect x="615.7" y="64.6" width="46.8" height="3.7" fill="#ff8484"/>
<rect x="615.7" y="68" width="46.8" height="3.5" fill="#ff8f8f"/>
<rect x="615.7" y="71.2" width="46.8" height="1.9" fill="#ff8484"/>
<rect x="615.7" y="72.8" width="46.8" height="0.5" fill="#ff8484"/>
<rect x="615.7" y="73" width="46.8" height="5.1" fill="#ffa1a1"/>
<rect x="615.7" y="77.8" width="46.8" height="1.9" fill="#ff9c9c"/>
<rect x="615.7" y="79.4" width="46.8" height="3.5" fill="#ff9b9b"/>
<rect x="615.7" y="82.6" width="46.8" height="1.7" fill="#ffa1a1"/>
<rect x="615.7" y="84" width="46.8" height="1.9" fill="#ff9797"/>
<rect x="615.7" y="85.6" width="46.8" height="1.9" fill="#ff9898"/>
<rect x="615.7" y="87.2" width="46.8" height="1.9" fill="#ff9b9b"/>
<rect x="615.7" y="88.8" width="46.8" height="1.9" fill="#ff9a9a"/>
<rect x="615.7" y="90.4" width="46.8" height="2.9" fill="#ffa1a1"/>
<rect x="615.7" y="93" width="46.8" height="1.9" fill="#ffa6a6"/>
<rect x="615.7" y="94.6" width="46.8" height="1.9" fill="#ffa8a8"/>
<rect x="615.7" y="96.2" width="46.8" height="3.5" fill="#ffa4a4"/>
<rect x="615.7" y="99.4" width="46.8" height="2.9" fill="#ffa5a5"/>
<rect x="615.7" y="102" width="46.8" height="5.1" fill="#ffafaf"/>
<rect x="615.7" y="106.8" width="46.8" height="3.5" fill="#ffaeae"/>
<rect x="615.7" y="110" width="46.8" height="1.9" fill="#ffb5b5"/>
<rect x="615.7" y="111.6" width="46.8" height="3.5" fill="#ffb4b4"/>
<rect x="615.7" y="114.8" width="46.8" height="1.9" fill="#ffb2b2"/>
<rect x="615.7" y="116.4" width="46.8" height="1.9" fill="#ffb2b2"/>
<rect x="615.7" y="118" width="46.8" height="1.3" fill="#ffb0b0"/>
<rect x="615.7" y="119" width="46.8" height="3.5" fill="#ff3d2d"/>
<rect x="615.7" y="122.2" width="46.8" height="1.9" fill="#ff4a3b"/>
<rect x="615.7" y="123.8" width="46.8" height="1.5" fill="#ff4737"/>
<rect x="615.7" y="125" width="46.8" height="1.9" fill="#ff4534"/>
<rect x="615.7" y="126.6" width="46.8" height="3.5" fill="#ff5344"/>
<rect x="615.7" y="129.8" width="46.8" height="1.5" fill="#ff4434"/>
<rect x="615.7" y="131" width="46.8" height="3.5" fill="#ff4030"/>
<rect x="615.7" y="134.2" width="46.8" height="1.9" fill="#ff4232"/>
<rect x="615.7" y="135.8" width="46.8" height="1.9" fill="#ff4b3c"/>
<rect x="615.7" y="137.4" width="46.8" height="0.9" fill="#ff4b3c"/>
<rect x="615.7" y="138" width="46.8" height="5.1" fill="#ff331a"/>
<rect x="615.7" y="142.8" width="46.8" height="1.9" fill="#ff2c12"/>
<rect x="615.7" y="144.4" width="46.8" height="1.9" fill="#ff2d14"/>
<rect x="615.7" y="146" width="46.8" height="1.9" fill="#ff3118"/>
<rect x="615.7" y="147.6" width="46.8" height="1.3" fill="#ff2309"/>
<rect x="615.7" y="148.6" width="46.8" height="3.5" fill="#fde8e8"/>
<rect x="615.7" y="151.8" width="46.8" height="1.9" fill="#fde8e8"/>
<rect x="615.7" y="153.4" width="46.8" height="1.9" fill="#fde7e7"/>
<rect x="615.7" y="155" width="46.8" height="1.9" fill="#fde8e8"/>
<rect x="615.7" y="156.6" width="46.8" height="5.1" fill="#fde7e7"/>
<rect x="615.7" y="161.4" width="46.8" height="3.5" fill="#fde8e8"/>
<rect x="615.7" y="164.6" width="46.8" height="3.5" fill="#fde7e7"/>
<rect x="615.7" y="167.8" width="46.8" height="1.9" fill="#fde7e7"/>
<rect x="615.7" y="169.4" width="46.8" height="0.9" fill="#fde9e9"/>
<rect x="615.7" y="170" width="46.8" height="1.9" fill="#fde0e0"/>
<rect x="615.7" y="171.6" width="46.8" height="1.9" fill="#fde2e2"/>
<rect x="615.7" y="173.2" width="46.8" height="1.9" fill="#fddfdf"/>
<rect x="615.7" y="174.8" width="46.8" height="1.5" fill="#fddfdf"/>
<rect x="615.7" y="176" width="46.8" height="3.5" fill="#fef2f2"/>
<rect x="615.7" y="179.2" width="46.8" height="1.9" fill="#fef2f2"/>
<rect x="615.7" y="180.8" width="46.8" height="3.5" fill="#fef2f2"/>
<rect x="615.7" y="184" width="46.8" height="3.5" fill="#fef1f1"/>
<rect x="615.7" y="187.2" width="46.8" height="1.9" fill="#fef2f2"/>
<rect x="615.7" y="188.8" width="46.8" height="5.1" fill="#fef1f1"/>
<rect x="615.7" y="193.6" width="46.8" height="5.1" fill="#fef3f3"/>
<rect x="615.7" y="198.4" width="46.8" height="3.5" fill="#fef2f2"/>
<rect x="615.7" y="201.6" width="46.8" height="5.1" fill="#fef2f2"/>
<rect x="615.7" y="206.4" width="46.8" height="1.9" fill="#fef1f1"/>
<rect x="615.7" y="208" width="46.8" height="3.5" fill="#fef2f2"/>
<rect x="615.7" y="211.2" width="46.8" height="1.9" fill="#fef2f2"/>
<rect x="615.7" y="212.8" width="46.8" height="1.9" fill="#fef2f2"/>
<rect x="615.7" y="214.4" width="46.8" height="1.9" fill="#fef2f2"/>
<rect x="615.7" y="216" width="46.8" height="1.9" fill="#fef2f2"/>
<rect x="615.7" y="217.6" width="46.8" height="3.5" fill="#fef3f3"/>
<rect x="615.7" y="220.8" width="46.8" height="1.9" fill="#fef2f2"/>
<rect x="615.7" y="222.4" width="46.8" height="1.9" fill="#fef2f2"/>
<rect x="615.7" y="224" width="46.8" height="1.9" fill="#fef2f2"/>
<rect x="615.7" y="225.6" width="46.8" height="3.5" fill="#fef2f2"/>
<rect x="615.7" y="228.8" width="46.8" height="1.5" fill="#fef2f2"/>
<rect x="615.7" y="230" width="46.8" height="3.5" fill="#fef6f6"/>
<rect x="615.7" y="233.2" width="46.8" height="3.5" fill="#fef6f6"/>
<rect x="615.7" y="236.4" width="46.8" height="1.9" fill="#fef6f6"/>
<rect x="615.7" y="238" width="46.8" height="3.5" fill="#fef6f6"/>
<rect x="615.7" y="241.2" width="46.8" height="5.1" fill="#fef6f6"/>
<rect x="615.7" y="246" width="46.8" height="3.5" fill="#fef6f6"/>
<rect x="615.7" y="249.2" width="46.8" height="1.1" fill="#fef6f6"/>
<rect x="615.7" y="250" width="46.8" height="3.5" fill="#fef0f0"/>
<rect x="615.7" y="253.2" width="46.8" height="3.5" fill="#fef0f0"/>
<rect x="615.7" y="256.4" width="46.8" height="1.9" fill="#fef0f0"/>
<rect x="615.7" y="258" width="46.8" height="1.9" fill="#fef0f0"/>
<rect x="615.7" y="259.6" width="46.8" height="3.5" fill="#fef1f1"/>
<rect x="615.7" y="262.8" width="46.8" height="5.1" fill="#fef0f0"/>
<rect x="615.7" y="267.6" width="46.8" height="1.9" fill="#fef0f0"/>
<rect x="615.7" y="269.2" width="46.8" height="1.9" fill="#fef1f1"/>
<rect x="615.7" y="270.8" width="46.8" height="1.9" fill="#fef0f0"/>
<rect x="615.7" y="272.4" width="46.8" height="3.5" fill="#fef0f0"/>
<rect x="615.7" y="275.6" width="46.8" height="3.5" fill="#fef1f1"/>
<rect x="615.7" y="278.8" width="46.8" height="3.5" fill="#fef0f0"/>
<rect x="615.7" y="282" width="46.8" height="3.5" fill="#fef1f1"/>
<rect x="615.7" y="285.2" width="46.8" height="3.5" fill="#fef0f0"/>
<rect x="615.7" y="288.4" width="46.8" height="1.9" fill="#fef1f1"/>
<rect x="615.7" y="290" width="46.8" height="1.9" fill="#fde9e9"/>
<rect x="615.7" y="291.6" width="46.8" height="5.1" fill="#fde9e9"/>
<rect x="615.7" y="296.4" width="46.8" height="3.9" fill="#fde8e8"/>
<rect x="615.7" y="300" width="46.8" height="3.5" fill="#fde4e4"/>
<rect x="615.7" y="303.2" width="46.8" height="1.9" fill="#fde3e3"/>
<rect x="615.7" y="304.8" width="46.8" height="5.1" fill="#fde4e4"/>
<rect x="615.7" y="309.6" width="46.8" height="1.9" fill="#fde5e5"/>
<rect x="615.7" y="311.2" width="46.8" height="1.9" fill="#fde4e4"/>
<rect x="615.7" y="312.8" width="46.8" height="1.9" fill="#fde3e3"/>
<rect x="615.7" y="314.4" width="46.8" height="3.5" fill="#fde4e4"/>
<rect x="615.7" y="317.6" width="46.8" height="3.5" fill="#fde2e2"/>
<rect x="615.7" y="320.8" width="46.8" height="1.9" fill="#fde5e5"/>
<rect x="615.7" y="322.4" width="46.8" height="1.9" fill="#fde3e3"/>
<rect x="615.7" y="324" width="46.8" height="1.3" fill="#fde4e4"/>
<rect x="615.7" y="325" width="46.8" height="3.5" fill="#fde9e9"/>
<rect x="615.7" y="328.2" width="46.8" height="3.5" fill="#fde7e7"/>
<rect x="615.7" y="331.4" width="46.8" height="5.1" fill="#fde8e8"/>
<rect x="615.7" y="336.2" width="46.8" height="1.9" fill="#fde7e7"/>
<rect x="615.7" y="337.8" width="46.8" height="3.5" fill="#fde9e9"/>
<rect x="615.7" y="341" width="46.8" height="1.3" fill="#fde8e8"/>
<rect x="615.7" y="342" width="46.8" height="1.9" fill="#fde7e7"/>
<rect x="615.7" y="343.6" width="46.8" height="3.5" fill="#fde7e7"/>
<rect x="615.7" y="346.8" width="46.8" height="1.9" fill="#fde5e5"/>
<rect x="615.7" y="348.4" width="46.8" height="3.9" fill="#fde7e7"/>
<rect x="615.7" y="352" width="46.8" height="1.9" fill="#fef4f4"/>
<rect x="615.7" y="353.6" width="46.8" height="1.9" fill="#fef5f5"/>
<rect x="615.7" y="355.2" width="46.8" height="1.9" fill="#fef4f4"/>
<rect x="615.7" y="356.8" width="46.8" height="5.1" fill="#fef5f5"/>
<rect x="615.7" y="361.6" width="46.8" height="1.9" fill="#fef4f4"/>
<rect x="615.7" y="363.2" width="46.8" height="1.9" fill="#fef4f4"/>
<rect x="615.7" y="364.8" width="46.8" height="0.5" fill="#fef4f4"/>
<rect x="615.7" y="365" width="46.8" height="1.9" fill="#fdeeee"/>
<rect x="615.7" y="366.6" width="46.8" height="1.9" fill="#fdefef"/>
<rect x="615.7" y="368.2" width="46.8" height="1.9" fill="#fdefef"/>
<rect x="615.7" y="369.8" width="46.8" height="5.1" fill="#fdefef"/>
<rect x="615.7" y="374.6" width="46.8" height="1.9" fill="#fdeeee"/>
<rect x="615.7" y="376.2" width="46.8" height="3.5" fill="#fdeeee"/>
<rect x="615.7" y="379.4" width="46.8" height="1.9" fill="#fdeded"/>
<rect x="615.7" y="381" width="46.8" height="1.3" fill="#fdeded"/>
<rect x="615.7" y="382" width="46.8" height="5.1" fill="#fde3e3"/>
<rect x="615.7" y="386.8" width="46.8" height="1.9" fill="#fde5e5"/>
<rect x="615.7" y="388.4" width="46.8" height="3.5" fill="#fde5e5"/>
<rect x="615.7" y="391.6" width="46.8" height="1.9" fill="#fde4e4"/>
<rect x="615.7" y="393.2" width="46.8" height="2.1" fill="#fde4e4"/>
<rect x="615.7" y="395" width="46.8" height="1.9" fill="#fef6f6"/>
<rect x="615.7" y="396.6" width="46.8" height="1.7" fill="#fef7f7"/>
<rect x="615.7" y="398" width="46.8" height="1.9" fill="#fde5e5"/>
<rect x="615.7" y="399.6" width="46.8" height="1.9" fill="#fde3e3"/>
<rect x="615.7" y="401.2" width="46.8" height="1.1" fill="#fde3e3"/>
<rect x="615.7" y="402" width="46.8" height="1.9" fill="#fef4f4"/>
<rect x="615.7" y="403.6" width="46.8" height="3.5" fill="#fef3f3"/>
<rect x="615.7" y="406.8" width="46.8" height="1.9" fill="#fef3f3"/>
<rect x="615.7" y="408.4" width="46.8" height="3.5" fill="#fef4f4"/>
<rect x="615.7" y="411.6" width="46.8" height="1.9" fill="#fef4f4"/>
<rect x="615.7" y="413.2" width="46.8" height="3.5" fill="#fef3f3"/>
<rect x="615.7" y="416.4" width="46.8" height="1.9" fill="#fef5f5"/>
<rect x="615.7" y="418" width="46.8" height="1.9" fill="#fef4f4"/>
<rect x="615.7" y="419.6" width="46.8" height="0.7" fill="#fef4f4"/>
<rect x="615.7" y="420" width="46.8" height="1.9" fill="#fddfdf"/>
<rect x="615.7" y="421.6" width="46.8" height="1.9" fill="#fde2e2"/>
<rect x="615.7" y="423.2" width="46.8" height="1.9" fill="#fde0e0"/>
<rect x="615.7" y="424.8" width="46.8" height="3.5" fill="#fde0e0"/>
<rect x="615.7" y="428" width="46.8" height="3.5" fill="#fddede"/>
<rect x="615.7" y="431.2" width="46.8" height="1.9" fill="#fde0e0"/>
<rect x="615.7" y="432.8" width="46.8" height="5.1" fill="#fde2e2"/>
<rect x="615.7" y="437.6" width="46.8" height="1.9" fill="#fde1e1"/>
<rect x="615.7" y="439.2" width="46.8" height="1.9" fill="#fde0e0"/>
<rect x="615.7" y="440.8" width="46.8" height="3.5" fill="#fde1e1"/>
<rect x="615.7" y="444" width="46.8" height="5.1" fill="#fde1e1"/>
<rect x="615.7" y="448.8" width="46.8" height="1.5" fill="#fde1e1"/>
<rect x="615.7" y="450" width="46.8" height="3.5" fill="#fde3e3"/>
<rect x="615.7" y="453.2" width="46.8" height="1.9" fill="#fde3e3"/>
<rect x="615.7" y="454.8" width="46.8" height="3.5" fill="#fde3e3"/>
<rect x="615.7" y="458" width="46.8" height="3.5" fill="#fde4e4"/>
<rect x="615.7" y="461.2" width="46.8" height="1.9" fill="#fde5e5"/>
<rect x="615.7" y="462.8" width="46.8" height="5.1" fill="#fde3e3"/>
<rect x="615.7" y="467.6" width="46.8" height="2.7" fill="#fde4e4"/>
<rect x="615.7" y="470" width="46.8" height="3.5" fill="#fde6e6"/>
<rect x="615.7" y="473.2" width="46.8" height="1.9" fill="#fde5e5"/>
<rect x="615.7" y="474.8" width="46.8" height="3.5" fill="#fde7e7"/>
<rect x="615.7" y="478" width="46.8" height="1.9" fill="#fde6e6"/>
<rect x="615.7" y="479.6" width="46.8" height="1.9" fill="#fde5e5"/>
<rect x="615.7" y="481.2" width="46.8" height="3.5" fill="#fde5e5"/>
<rect x="615.7" y="484.4" width="46.8" height="3.5" fill="#fde7e7"/>
<rect x="615.7" y="487.6" width="46.8" height="2.7" fill="#fde6e6"/>
<rect x="615.7" y="490" width="46.8" height="1.9" fill="#fcdada"/>
<rect x="615.7" y="491.6" width="46.8" height="1.9" fill="#fcd6d6"/>
<rect x="615.7" y="493.2" width="46.8" height="1.9" fill="#fcd8d8"/>
<rect x="615.7" y="494.8" width="46.8" height="3.5" fill="#fcd8d8"/>
<rect x="615.7" y="498" width="46.8" height="5.1" fill="#fcd7d7"/>
<rect x="615.7" y="502.8" width="46.8" height="1.9" fill="#fcd6d6"/>
<rect x="615.7" y="504.4" width="46.8" height="3.5" fill="#fcd6d6"/>
<rect x="615.7" y="507.6" width="46.8" height="1.9" fill="#fcd9d9"/>
<rect x="615.7" y="509.2" width="46.8" height="5.1" fill="#fcd8d8"/>
<rect x="615.7" y="514" width="46.8" height="1.9" fill="#fcd9d9"/>
<rect x="615.7" y="515.6" width="46.8" height="3.5" fill="#fcd6d6"/>
<rect x="615.7" y="518.8" width="46.8" height="3.5" fill="#fcd6d6"/>
<rect x="615.7" y="522" width="46.8" height="1.9" fill="#fcbebe"/>
<rect x="615.7" y="523.6" width="46.8" height="3.5" fill="#fcc1c1"/>
<rect x="615.7" y="526.8" width="46.8" height="0.5" fill="#fcc2c2"/>
<rect x="615.7" y="527" width="46.8" height="1.9" fill="#fcd3d3"/>
<rect x="615.7" y="528.6" width="46.8" height="3.5" fill="#fcd3d3"/>
<rect x="615.7" y="531.8" width="46.8" height="0.5" fill="#fcd5d5"/>
<rect x="615.7" y="532" width="46.8" height="1.9" fill="#fcc1c1"/>
<rect x="615.7" y="533.6" width="46.8" height="3.5" fill="#fcc7c7"/>
<rect x="615.7" y="536.8" width="46.8" height="1.9" fill="#fcc6c6"/>
<rect x="615.7" y="538.4" width="46.8" height="3.5" fill="#fcc6c6"/>
<rect x="615.7" y="541.6" width="46.8" height="1.9" fill="#fcc0c0"/>
<rect x="615.7" y="543.2" width="46.8" height="3.5" fill="#fcc7c7"/>
<rect x="615.7" y="546.4" width="46.8" height="1.9" fill="#fcc1c1"/>
<rect x="615.7" y="548" width="46.8" height="3.5" fill="#fccfcf"/>
<rect x="615.7" y="551.2" width="46.8" height="3.5" fill="#fcd2d2"/>
<rect x="615.7" y="554.4" width="46.8" height="1.9" fill="#fcd1d1"/>
<rect x="615.7" y="556" width="46.8" height="5.1" fill="#fcd1d1"/>
<rect x="615.7" y="560.8" width="46.8" height="5.1" fill="#fcd1d1"/>
<rect x="615.7" y="565.6" width="46.8" height="1.9" fill="#fccfcf"/>
<rect x="615.7" y="567.2" width="46.8" height="3.5" fill="#fcd2d2"/>
<rect x="615.7" y="570.4" width="46.8" height="3.5" fill="#fcd0d0"/>
<rect x="615.7" y="573.6" width="46.8" height="1.9" fill="#fccfcf"/>
<rect x="615.7" y="575.2" width="46.8" height="1.9" fill="#fcd3d3"/>
<rect x="615.7" y="576.8" width="46.8" height="3.5" fill="#fccece"/>
<rect x="615.7" y="580" width="46.8" height="1.9" fill="#fccfcf"/>
<rect x="615.7" y="581.6" width="46.8" height="3.7" fill="#fcd3d3"/>
<rect x="615.7" y="585" width="46.8" height="5.1" fill="#fcc7c7"/>
<rect x="615.7" y="589.8" width="46.8" height="5.1" fill="#fccbcb"/>
<rect x="615.7" y="594.6" width="46.8" height="3.5" fill="#fccbcb"/>
<rect x="615.7" y="597.8" width="46.8" height="1.9" fill="#fcc8c8"/>
<rect x="615.7" y="599.4" width="46.8" height="3.5" fill="#fccbcb"/>
<rect x="615.7" y="602.6" width="46.8" height="1.9" fill="#fcc7c7"/>
<rect x="615.7" y="604.2" width="46.8" height="1.1" fill="#fcc6c6"/>
<rect x="615.7" y="605" width="46.8" height="1.9" fill="#fcbebe"/>
<rect x="615.7" y="606.6" width="46.8" height="3.5" fill="#fcc2c2"/>
<rect x="615.7" y="609.8" width="46.8" height="3.5" fill="#fcbebe"/>
<rect x="615.7" y="613" width="46.8" height="1.9" fill="#fcc1c1"/>
<rect x="615.7" y="614.6" width="46.8" height="0.7" fill="#fcc0c0"/>
<rect x="615.7" y="615" width="46.8" height="3.5" fill="#fbadad"/>
<rect x="615.7" y="618.2" width="46.8" height="3.1" fill="#fba5a5"/>
<rect x="615.7" y="621" width="46.8" height="3.5" fill="#fccece"/>
<rect x="615.7" y="624.2" width="46.8" height="3.5" fill="#fcd0d0"/>
<rect x="615.7" y="627.4" width="46.8" height="1.9" fill="#fcd1d1"/>
<rect x="615.7" y="629" width="46.8" height="1.9" fill="#fcd3d3"/>
<rect x="615.7" y="630.6" width="46.8" height="3.5" fill="#fccdcd"/>
<rect x="615.7" y="633.8" width="46.8" height="1.9" fill="#fcd1d1"/>
<rect x="615.7" y="635.4" width="46.8" height="3.5" fill="#fccfcf"/>
<rect x="615.7" y="638.6" width="46.8" height="4.7" fill="#fcd1d1"/>
<rect x="662.5" y="25.8" width="46.5" height="1.9" fill="#e3e5fb"/>
<rect x="662.5" y="27.4" width="46.5" height="1.9" fill="#e3e5fb"/>
<rect x="662.5" y="29" width="46.5" height="1.3" fill="#e3e5fb"/>
<rect x="662.5" y="30" width="46.5" height="1.9" fill="#dde0fa"/>
<rect x="662.5" y="31.6" width="46.5" height="1.9" fill="#daddfa"/>
<rect x="662.5" y="33.2" width="46.5" height="1.9" fill="#dde0fa"/>
<rect x="662.5" y="34.8" width="46.5" height="0.5" fill="#dbdefa"/>
<rect x="662.5" y="35" width="46.5" height="3.5" fill="#e8e9fc"/>
<rect x="662.5" y="38.2" width="46.5" height="2.1" fill="#e8e9fc"/>
<rect x="662.5" y="40" width="46.5" height="1.9" fill="#dcdffa"/>
<rect x="662.5" y="41.6" width="46.5" height="1.9" fill="#dcdffa"/>
<rect x="662.5" y="43.2" width="46.5" height="1.9" fill="#dbdefa"/>
<rect x="662.5" y="44.8" width="46.5" height="3.5" fill="#dbdefa"/>
<rect x="662.5" y="48" width="46.5" height="0.9" fill="#dbdefa"/>
<rect x="662.5" y="48.6" width="46.5" height="3.5" fill="#c0c4f6"/>
<rect x="662.5" y="51.8" width="46.5" height="0.5" fill="#bec2f6"/>
<rect x="662.5" y="52" width="46.5" height="5.1" fill="#dcdffa"/>
<rect x="662.5" y="56.8" width="46.5" height="1.5" fill="#dde0fa"/>
<rect x="662.5" y="58" width="46.5" height="4.3" fill="#e0e2fa"/>
<rect x="662.5" y="62" width="46.5" height="2.3" fill="#ccd0f8"/>
<rect x="662.5" y="64" width="46.5" height="1.9" fill="#e1e3fa"/>
<rect x="662.5" y="65.6" width="46.5" height="3.5" fill="#e1e3fa"/>
<rect x="662.5" y="68.8" width="46.5" height="3.5" fill="#dfe1fa"/>
<rect x="662.5" y="72" width="46.5" height="3.3" fill="#e1e3fa"/>
<rect x="662.5" y="75" width="46.5" height="1.9" fill="#d6dafa"/>
<rect x="662.5" y="76.6" width="46.5" height="1.9" fill="#d7dafa"/>
<rect x="662.5" y="78.2" width="46.5" height="1.9" fill="#d7dafa"/>
<rect x="662.5" y="79.8" width="46.5" height="0.5" fill="#d9dcfa"/>
<rect x="662.5" y="80" width="46.5" height="3.5" fill="#e4e6fb"/>
<rect x="662.5" y="83.2" width="46.5" height="5.1" fill="#e3e5fb"/>
<rect x="662.5" y="88" width="46.5" height="2.3" fill="#e3e5fb"/>
<rect x="662.5" y="90" width="46.5" height="1.9" fill="#dfe1fa"/>
<rect x="662.5" y="91.6" width="46.5" height="1.9" fill="#e0e1fa"/>
<rect x="662.5" y="93.2" width="46.5" height="1.9" fill="#dee0fa"/>
<rect x="662.5" y="94.8" width="46.5" height="5.1" fill="#dee0fa"/>
<rect x="662.5" y="99.6" width="46.5" height="0.7" fill="#dee0fa"/>
<rect x="662.5" y="100" width="46.5" height="3.5" fill="#e7e8fc"/>
<rect x="662.5" y="103.2" width="46.5" height="3.5" fill="#e9eafc"/>
<rect x="662.5" y="106.4" width="46.5" height="1.9" fill="#e8e9fc"/>
<rect x="662.5" y="108" width="46.5" height="1.9" fill="#e7e8fc"/>
<rect x="662.5" y="109.6" width="46.5" height="0.7" fill="#e7e8fc"/>
<rect x="662.5" y="110" width="46.5" height="1.9" fill="#e0e2fa"/>
<rect x="662.5" y="111.6" width="46.5" height="5.1" fill="#dfe1fa"/>
<rect x="662.5" y="116.4" width="46.5" height="1.9" fill="#e1e3fa"/>
<rect x="662.5" y="118" width="46.5" height="2.3" fill="#e1e3fa"/>
<rect x="662.5" y="120" width="46.5" height="3.5" fill="#eeeffc"/>
<rect x="662.5" y="123.2" width="46.5" height="5.1" fill="#eff0fc"/>
<rect x="662.5" y="128" width="46.5" height="1.9" fill="#eeeffc"/>
<rect x="662.5" y="129.6" width="46.5" height="0.7" fill="#eff0fc"/>
<rect x="662.5" y="130" width="46.5" height="1.9" fill="#e4e6fb"/>
<rect x="662.5" y="131.6" width="46.5" height="1.9" fill="#e5e7fb"/>
<rect x="662.5" y="133.2" width="46.5" height="1.9" fill="#e3e5fb"/>
<rect x="662.5" y="134.8" width="46.5" height="1.5" fill="#e5e7fb"/>
<rect x="662.5" y="136" width="46.5" height="1.9" fill="#d4d7f8"/>
<rect x="662.5" y="137.6" width="46.5" height="1.9" fill="#d6d9f8"/>
<rect x="662.5" y="139.2" width="46.5" height="1.1" fill="#d2d5f8"/>
<rect x="662.5" y="140" width="46.5" height="1.9" fill="#dbdefa"/>
<rect x="662.5" y="141.6" width="46.5" height="1.9" fill="#dcdffa"/>
<rect x="662.5" y="143.2" width="46.5" height="1.9" fill="#dde0fa"/>
<rect x="662.5" y="144.8" width="46.5" height="1.5" fill="#dcdffa"/>
<rect x="662.5" y="146" width="46.5" height="3.3" fill="#c1c5f6"/>
<rect x="662.5" y="149" width="46.5" height="1.9" fill="#dfe1fa"/>
<rect x="662.5" y="150.6" width="46.5" height="5.1" fill="#e1e3fa"/>
<rect x="662.5" y="155.4" width="46.5" height="1.9" fill="#e0e2fa"/>
<rect x="662.5" y="157" width="46.5" height="3.5" fill="#e0e2fa"/>
<rect x="662.5" y="160.2" width="46.5" height="3.5" fill="#e0e2fa"/>
<rect x="662.5" y="163.4" width="46.5" height="1.9" fill="#dfe1fa"/>
<rect x="662.5" y="165" width="46.5" height="3.5" fill="#d6d9f8"/>
<rect x="662.5" y="168.2" width="46.5" height="2.1" fill="#d6daf8"/>
<rect x="662.5" y="170" width="46.5" height="3.5" fill="#dfe1fa"/>
<rect x="662.5" y="173.2" width="46.5" height="1.9" fill="#e1e3fa"/>
<rect x="662.5" y="174.8" width="46.5" height="1.9" fill="#dfe1fa"/>
<rect x="662.5" y="176.4" width="46.5" height="1.9" fill="#e0e2fa"/>
<rect x="662.5" y="178" width="46.5" height="1.9" fill="#dfe1fa"/>
<rect x="662.5" y="179.6" width="46.5" height="1.9" fill="#dfe1fa"/>
<rect x="662.5" y="181.2" width="46.5" height="1.9" fill="#e1e3fa"/>
<rect x="662.5" y="182.8" width="46.5" height="1.9" fill="#e0e2fa"/>
<rect x="662.5" y="184.4" width="46.5" height="3.5" fill="#e1e3fa"/>
<rect x="662.5" y="187.6" width="46.5" height="1.9" fill="#dfe1fa"/>
<rect x="662.5" y="189.2" width="46.5" height="3.5" fill="#e1e3fa"/>
<rect x="662.5" y="192.4" width="46.5" height="2.9" fill="#dfe1fa"/>
<rect x="662.5" y="195" width="46.5" height="3.5" fill="#d6d9f8"/>
<rect x="662.5" y="198.2" width="46.5" height="2.1" fill="#d6daf8"/>
<rect x="662.5" y="200" width="46.5" height="1.9" fill="#dbdefa"/>
<rect x="662.5" y="201.6" width="46.5" height="1.9" fill="#dde0fa"/>
<rect x="662.5" y="203.2" width="46.5" height="1.9" fill="#dde0fa"/>
<rect x="662.5" y="204.8" width="46.5" height="1.9" fill="#dde0fa"/>
<rect x="662.5" y="206.4" width="46.5" height="2.9" fill="#dbdefa"/>
<rect x="662.5" y="209" width="46.5" height="1.9" fill="#ced2f8"/>
<rect x="662.5" y="210.6" width="46.5" height="1.9" fill="#cbcff8"/>
<rect x="662.5" y="212.2" width="46.5" height="3.1" fill="#ccd0f8"/>
<rect x="662.5" y="215" width="46.5" height="3.5" fill="#e3e5fb"/>
<rect x="662.5" y="218.2" width="46.5" height="3.5" fill="#e3e5fb"/>
<rect x="662.5" y="221.4" width="46.5" height="5.1" fill="#e4e6fb"/>
<rect x="662.5" y="226.2" width="46.5" height="3.5" fill="#e3e5fb"/>
<rect x="662.5" y="229.4" width="46.5" height="1.9" fill="#e4e6fb"/>
<rect x="662.5" y="231" width="46.5" height="5.1" fill="#e3e5fb"/>
<rect x="662.5" y="235.8" width="46.5" height="3.5" fill="#e5e7fb"/>
<rect x="662.5" y="239" width="46.5" height="1.9" fill="#e5e7fb"/>
<rect x="662.5" y="240.6" width="46.5" height="1.9" fill="#e5e7fb"/>
<rect x="662.5" y="242.2" width="46.5" height="1.9" fill="#e3e5fb"/>
<rect x="662.5" y="243.8" width="46.5" height="3.5" fill="#e4e6fb"/>
<rect x="662.5" y="247" width="46.5" height="3.3" fill="#e4e6fb"/>
<rect x="662.5" y="250" width="46.5" height="1.9" fill="#e8e9fc"/>
<rect x="662.5" y="251.6" width="46.5" height="3.5" fill="#e9eafc"/>
<rect x="662.5" y="254.8" width="46.5" height="1.9" fill="#e8e9fc"/>
<rect x="662.5" y="256.4" width="46.5" height="3.5" fill="#e8e9fc"/>
<rect x="662.5" y="259.6" width="46.5" height="5.1" fill="#e8e9fc"/>
<rect x="662.5" y="264.4" width="46.5" height="5.1" fill="#e8e9fc"/>
<rect x="662.5" y="269.2" width="46.5" height="1.9" fill="#e8e9fc"/>
<rect x="662.5" y="270.8" width="46.5" height="1.9" fill="#e7e8fc"/>
<rect x="662.5" y="272.4" width="46.5" height="1.9" fill="#e9eafc"/>
<rect x="662.5" y="274" width="46.5" height="1.9" fill="#e8e9fc"/>
<rect x="662.5" y="275.6" width="46.5" height="3.5" fill="#e8e9fc"/>
<rect x="662.5" y="278.8" width="46.5" height="1.9" fill="#e8e9fc"/>
<rect x="662.5" y="280.4" width="46.5" height="1.9" fill="#e9eafc"/>
<rect x="662.5" y="282" width="46.5" height="1.9" fill="#e7e8fc"/>
<rect x="662.5" y="283.6" width="46.5" height="3.5" fill="#e8e9fc"/>
<rect x="662.5" y="286.8" width="46.5" height="1.9" fill="#e8e9fc"/>
<rect x="662.5" y="288.4" width="46.5" height="1.9" fill="#e8e9fc"/>
<rect x="662.5" y="290" width="46.5" height="3.3" fill="#e9eafc"/>
<rect x="662.5" y="293" width="46.5" height="1.9" fill="#f8f8fe"/>
<rect x="662.5" y="294.6" width="46.5" height="1.9" fill="#f8f8fe"/>
<rect x="662.5" y="296.2" width="46.5" height="2.1" fill="#f8f8fe"/>
<rect x="662.5" y="298" width="46.5" height="3.5" fill="#eff0fc"/>
<rect x="662.5" y="301.2" width="46.5" height="1.9" fill="#edeefc"/>
<rect x="662.5" y="302.8" width="46.5" height="5.1" fill="#eff0fc"/>
<rect x="662.5" y="307.6" width="46.5" height="1.9" fill="#edeffc"/>
<rect x="662.5" y="309.2" width="46.5" height="1.9" fill="#eeeffc"/>
<rect x="662.5" y="310.8" width="46.5" height="1.9" fill="#eeeffc"/>
<rect x="662.5" y="312.4" width="46.5" height="1.9" fill="#eff0fc"/>
<rect x="662.5" y="314" width="46.5" height="3.5" fill="#edeefc"/>
<rect x="662.5" y="317.2" width="46.5" height="1.9" fill="#eeeffc"/>
<rect x="662.5" y="318.8" width="46.5" height="5.1" fill="#eeeffc"/>
<rect x="662.5" y="323.6" width="46.5" height="2.7" fill="#eeeffc"/>
<rect x="662.5" y="326" width="46.5" height="3.5" fill="#b6bbf4"/>
<rect x="662.5" y="329.2" width="46.5" height="3.5" fill="#b3b8f4"/>
<rect x="662.5" y="332.4" width="46.5" height="5.1" fill="#b2b7f4"/>
<rect x="662.5" y="337.2" width="46.5" height="1.9" fill="#b6bbf4"/>
<rect x="662.5" y="338.8" width="46.5" height="1.9" fill="#b4b9f4"/>
<rect x="662.5" y="340.4" width="46.5" height="1.9" fill="#b4b9f4"/>
<rect x="662.5" y="342" width="46.5" height="1.9" fill="#abb2f2"/>
<rect x="662.5" y="343.6" width="46.5" height="3.5" fill="#a5acf2"/>
<rect x="662.5" y="346.8" width="46.5" height="1.9" fill="#abb2f2"/>
<rect x="662.5" y="348.4" width="46.5" height="1.9" fill="#a9b0f2"/>
<rect x="662.5" y="350" width="46.5" height="1.9" fill="#a6adf2"/>
<rect x="662.5" y="351.6" width="46.5" height="3.5" fill="#a6adf2"/>
<rect x="662.5" y="354.8" width="46.5" height="1.9" fill="#a4acf1"/>
<rect x="662.5" y="356.4" width="46.5" height="1.9" fill="#a7aef2"/>
<rect x="662.5" y="358" width="46.5" height="1.9" fill="#b8bcf4"/>
<rect x="662.5" y="359.6" width="46.5" height="1.9" fill="#b5b9f4"/>
<rect x="662.5" y="361.2" width="46.5" height="1.1" fill="#b9bdf4"/>
<rect x="662.5" y="362" width="46.5" height="1.9" fill="#a5acf2"/>
<rect x="662.5" y="363.6" width="46.5" height="2.7" fill="#a5acf2"/>
<rect x="662.5" y="366" width="46.5" height="1.9" fill="#c7cbf6"/>
<rect x="662.5" y="367.6" width="46.5" height="3.5" fill="#c4c8f6"/>
<rect x="662.5" y="370.8" width="46.5" height="3.5" fill="#c3c7f6"/>
<rect x="662.5" y="374" width="46.5" height="3.5" fill="#c3c7f6"/>
<rect x="662.5" y="377.2" width="46.5" height="1.1" fill="#c2c6f6"/>
<rect x="662.5" y="378" width="46.5" height="3.5" fill="#d1d5f8"/>
<rect x="662.5" y="381.2" width="46.5" height="3.5" fill="#cfd3f8"/>
<rect x="662.5" y="384.4" width="46.5" height="1.9" fill="#d2d6f8"/>
<rect x="662.5" y="386" width="46.5" height="1.9" fill="#d2d6f8"/>
<rect x="662.5" y="387.6" width="46.5" height="3.5" fill="#d0d4f8"/>
<rect x="662.5" y="390.8" width="46.5" height="5.1" fill="#ced2f8"/>
<rect x="662.5" y="395.6" width="46.5" height="0.4" fill="#d2d6f8"/>
<rect x="662.5" y="395.7" width="46.5" height="3.5" fill="#2849f8"/>
<rect x="662.5" y="398.9" width="46.5" height="1.4" fill="#2b4cf8"/>
<rect x="662.5" y="400" width="46.5" height="2.3" fill="#5068f8"/>
<rect x="662.5" y="402" width="46.5" height="1.9" fill="#102dff"/>
<rect x="662.5" y="403.6" width="46.5" height="1.9" fill="#001fff"/>
<rect x="662.5" y="405.2" width="46.5" height="3.5" fill="#001dff"/>
<rect x="662.5" y="408.4" width="46.5" height="0.5" fill="#001fff"/>
<rect x="662.5" y="408.6" width="46.5" height="1.9" fill="#828bef"/>
<rect x="662.5" y="410.2" width="46.5" height="3.5" fill="#858df0"/>
<rect x="662.5" y="413.4" width="46.5" height="1.9" fill="#8b93f0"/>
<rect x="662.5" y="415" width="46.5" height="5.1" fill="#8890f0"/>
<rect x="662.5" y="419.8" width="46.5" height="1.1" fill="#8c93f0"/>
<rect x="662.5" y="420.6" width="46.5" height="5.1" fill="#e5e7fc"/>
<rect x="662.5" y="425.4" width="46.5" height="1.9" fill="#e5e7fc"/>
<rect x="662.5" y="427" width="46.5" height="3.5" fill="#e4e6fc"/>
<rect x="662.5" y="430.2" width="46.5" height="2.1" fill="#e4e6fc"/>
<rect x="662.5" y="432" width="46.5" height="3.5" fill="#efeffc"/>
<rect x="662.5" y="435.2" width="46.5" height="1.1" fill="#efeffc"/>
<rect x="662.5" y="436" width="46.5" height="1.9" fill="#dcdffa"/>
<rect x="662.5" y="437.6" width="46.5" height="1.9" fill="#dcdffa"/>
<rect x="662.5" y="439.2" width="46.5" height="1.9" fill="#dde0fa"/>
<rect x="662.5" y="440.8" width="46.5" height="1.9" fill="#dcdffa"/>
<rect x="662.5" y="442.4" width="46.5" height="3.5" fill="#dbdffa"/>
<rect x="662.5" y="445.6" width="46.5" height="1.9" fill="#dadefa"/>
<rect x="662.5" y="447.2" width="46.5" height="1.1" fill="#dbdefa"/>
<rect x="662.5" y="448" width="46.5" height="1.9" fill="#e7e8fc"/>
<rect x="662.5" y="449.6" width="46.5" height="1.9" fill="#e9eafc"/>
<rect x="662.5" y="451.2" width="46.5" height="1.9" fill="#e7e8fc"/>
<rect x="662.5" y="452.8" width="46.5" height="1.9" fill="#e8e9fc"/>
<rect x="662.5" y="454.4" width="46.5" height="0.9" fill="#e7e8fc"/>
<rect x="662.5" y="455" width="46.5" height="1.9" fill="#e3e5fc"/>
<rect x="662.5" y="456.6" width="46.5" height="1.9" fill="#e4e6fc"/>
<rect x="662.5" y="458.2" width="46.5" height="1.9" fill="#e4e6fc"/>
<rect x="662.5" y="459.8" width="46.5" height="1.9" fill="#e4e6fc"/>
<rect x="662.5" y="461.4" width="46.5" height="1.9" fill="#e4e6fc"/>
<rect x="662.5" y="463" width="46.5" height="1.9" fill="#e5e7fc"/>
<rect x="662.5" y="464.6" width="46.5" height="1.9" fill="#e3e5fc"/>
<rect x="662.5" y="466.2" width="46.5" height="1.9" fill="#e4e6fc"/>
<rect x="662.5" y="467.8" width="46.5" height="3.5" fill="#e3e5fc"/>
<rect x="662.5" y="471" width="46.5" height="1.9" fill="#e4e6fc"/>
<rect x="662.5" y="472.6" width="46.5" height="1.9" fill="#e4e6fc"/>
<rect x="662.5" y="474.2" width="46.5" height="5.1" fill="#e5e7fc"/>
<rect x="662.5" y="479" width="46.5" height="1.9" fill="#e3e5fc"/>
<rect x="662.5" y="480.6" width="46.5" height="3.5" fill="#e5e7fc"/>
<rect x="662.5" y="483.8" width="46.5" height="1.9" fill="#e5e7fc"/>
<rect x="662.5" y="485.4" width="46.5" height="1.9" fill="#e4e6fc"/>
<rect x="662.5" y="487" width="46.5" height="1.9" fill="#e3e5fc"/>
<rect x="662.5" y="488.6" width="46.5" height="1.7" fill="#e4e6fc"/>
<rect x="662.5" y="490" width="46.5" height="5.1" fill="#c1c6f6"/>
<rect x="662.5" y="494.8" width="46.5" height="3.5" fill="#c5c9f6"/>
<rect x="662.5" y="498" width="46.5" height="3.5" fill="#c6caf6"/>
<rect x="662.5" y="501.2" width="46.5" height="5.1" fill="#c4c8f6"/>
<rect x="662.5" y="506" width="46.5" height="3.5" fill="#c7caf6"/>
<rect x="662.5" y="509.2" width="46.5" height="1.9" fill="#c6caf6"/>
<rect x="662.5" y="510.8" width="46.5" height="5.1" fill="#c5c9f6"/>
<rect x="662.5" y="515.6" width="46.5" height="3.5" fill="#c5c9f6"/>
<rect x="662.5" y="518.8" width="46.5" height="1.5" fill="#c6caf6"/>
<rect x="662.5" y="520" width="46.5" height="3.5" fill="#f4f4fe"/>
<rect x="662.5" y="523.2" width="46.5" height="3.5" fill="#f4f4fe"/>
<rect x="662.5" y="526.4" width="46.5" height="1.9" fill="#f4f4fe"/>
<rect x="662.5" y="528" width="46.5" height="1.9" fill="#f4f4fe"/>
<rect x="662.5" y="529.6" width="46.5" height="0.7" fill="#f4f4fe"/>
<rect x="662.5" y="530" width="46.5" height="3.5" fill="#dfe1fa"/>
<rect x="662.5" y="533.2" width="46.5" height="1.9" fill="#e1e3fa"/>
<rect x="662.5" y="534.8" width="46.5" height="1.9" fill="#e0e2fa"/>
<rect x="662.5" y="536.4" width="46.5" height="1.9" fill="#e2e3fa"/>
<rect x="662.5" y="538" width="46.5" height="5.1" fill="#e0e2fa"/>
<rect x="662.5" y="542.8" width="46.5" height="1.9" fill="#e1e3fa"/>
<rect x="662.5" y="544.4" width="46.5" height="0.9" fill="#e0e2fa"/>
<rect x="662.5" y="545" width="46.5" height="1.9" fill="#dde0fa"/>
<rect x="662.5" y="546.6" width="46.5" height="3.5" fill="#dbdefa"/>
<rect x="662.5" y="549.8" width="46.5" height="1.9" fill="#dde0fa"/>
<rect x="662.5" y="551.4" width="46.5" height="5.1" fill="#dde0fa"/>
<rect x="662.5" y="556.2" width="46.5" height="1.9" fill="#dde0fa"/>
<rect x="662.5" y="557.8" width="46.5" height="1.9" fill="#dcdffa"/>
<rect x="662.5" y="559.4" width="46.5" height="1.9" fill="#dadefa"/>
<rect x="662.5" y="561" width="46.5" height="1.9" fill="#dde0fa"/>
<rect x="662.5" y="562.6" width="46.5" height="1.9" fill="#dcdffa"/>
<rect x="662.5" y="564.2" width="46.5" height="1.1" fill="#dcdffa"/>
<rect x="662.5" y="565" width="46.5" height="3.5" fill="#e3e5fc"/>
<rect x="662.5" y="568.2" width="46.5" height="3.5" fill="#e3e5fc"/>
<rect x="662.5" y="571.4" width="46.5" height="1.9" fill="#e5e7fc"/>
<rect x="662.5" y="573" width="46.5" height="1.9" fill="#e3e5fc"/>
<rect x="662.5" y="574.6" width="46.5" height="3.5" fill="#e4e6fc"/>
<rect x="662.5" y="577.8" width="46.5" height="3.5" fill="#e5e7fc"/>
<rect x="662.5" y="581" width="46.5" height="1.9" fill="#e5e7fc"/>
<rect x="662.5" y="582.6" width="46.5" height="1.9" fill="#e5e7fc"/>
<rect x="662.5" y="584.2" width="46.5" height="1.1" fill="#e5e7fc"/>
<rect x="662.5" y="585" width="46.5" height="1.9" fill="#c2c6f6"/>
<rect x="662.5" y="586.6" width="46.5" height="1.9" fill="#c2c6f6"/>
<rect x="662.5" y="588.2" width="46.5" height="1.9" fill="#bdc2f6"/>
<rect x="662.5" y="589.8" width="46.5" height="1.9" fill="#c3c7f6"/>
<rect x="662.5" y="591.4" width="46.5" height="1.9" fill="#c2c6f6"/>
<rect x="662.5" y="593" width="46.5" height="1.9" fill="#bfc4f6"/>
<rect x="662.5" y="594.6" width="46.5" height="3.5" fill="#bfc3f6"/>
<rect x="662.5" y="597.8" width="46.5" height="5.1" fill="#c1c5f6"/>
<rect x="662.5" y="602.6" width="46.5" height="2.7" fill="#bdc1f6"/>
<rect x="662.5" y="605" width="46.5" height="5.1" fill="#8d95f0"/>
<rect x="662.5" y="609.8" width="46.5" height="2.5" fill="#8e96f0"/>
<rect x="662.5" y="612" width="46.5" height="5.1" fill="#b8bcf5"/>
<rect x="662.5" y="616.8" width="46.5" height="3.5" fill="#b5baf4"/>
<rect x="662.5" y="620" width="46.5" height="3.5" fill="#b3b8f4"/>
<rect x="662.5" y="623.2" width="46.5" height="1.9" fill="#b5baf4"/>
<rect x="662.5" y="624.8" width="46.5" height="5.1" fill="#b7bcf4"/>
<rect x="662.5" y="629.6" width="46.5" height="5.1" fill="#b5baf4"/>
<rect x="662.5" y="634.4" width="46.5" height="5.1" fill="#b2b7f4"/>
<rect x="662.5" y="639.2" width="46.5" height="1.9" fill="#b2b7f4"/>
<rect x="662.5" y="640.8" width="46.5" height="2.5" fill="#b4b9f4"/>
<rect x="615.7" y="25.6" width="93.3" height="617.4" fill="none" stroke="#111" stroke-width="1.3"/>
<line x1="709.3" y1="25.2" x2="709.3" y2="643.6" stroke="#111" stroke-width="1.6"/>
<text x="430.5" y="22.4" font-size="9.2" text-anchor="middle" font-weight="bold" fill="#000">Bulk</text>
<text x="477.9" y="22.4" font-size="9.2" text-anchor="middle" font-weight="bold" fill="#000">TGF-β</text>
<text x="639.1" y="22.4" font-size="9.2" text-anchor="middle" font-weight="bold" fill="#000">Bulk</text>
<text x="685.8" y="22.4" font-size="9.2" text-anchor="middle" font-weight="bold" fill="#000">TGF-β</text>
<g font-size="3.7" font-weight="bold" text-anchor="end" fill="#000" stroke="#000" stroke-width="0.25"><text x="405.8" y="28.6">Nwsap</text><text x="405.8" y="31.1">Dmr</text><text x="405.8" y="33.7">Iago7</text><text x="405.8" y="36.2">Fv</text><text x="405.8" y="38.7">Hg</text><text x="405.8" y="41.2">Mgt</text><text x="405.8" y="43.9">Hnkam</text><text x="405.8" y="46.4">Lvu6</text><text x="405.8" y="48.9">Tlf</text><text x="405.8" y="51.6">Amn7</text><text x="405.8" y="54.2">Sb</text><text x="405.8" y="56.9">Dhp6</text><text x="405.8" y="59.6">Dumk2</text><text x="405.8" y="62.1">Neli</text><text x="405.8" y="64.8">Mkfcw</text><text x="405.8" y="67.4">Cv</text><text x="405.8" y="70">Nipwo</text><text x="405.8" y="72.6">Fue</text><text x="405.8" y="75.2">Nebo8</text><text x="405.8" y="77.9">Srlr8</text><text x="405.8" y="80.5">Pt</text><text x="405.8" y="83.2">Gcr9</text><text x="405.8" y="85.9">Bkm</text><text x="405.8" y="88.6">Kklw1</text><text x="405.8" y="91.2">Mip9</text><text x="405.8" y="93.9">Niw7</text><text x="405.8" y="96.5">Sml</text><text x="405.8" y="99.2">Nrk</text><text x="405.8" y="101.9">Gvus</text><text x="405.8" y="104.5">Kagf</text><text x="405.8" y="107.2">Gwb</text><text x="405.8" y="109.7">Dlf</text><text x="405.8" y="112.4">Nnvc</text><text x="405.8" y="114.9">Amn</text><text x="405.8" y="117.5">Nbtvk</text><text x="405.8" y="120.2">Lmeo</text><text x="405.8" y="122.9">Sef</text><text x="405.8" y="125.6">Fvc1</text><text x="405.8" y="128.2">Flwu7</text><text x="405.8" y="130.7">Pnfv</text><text x="405.8" y="133.4">Koal</text><text x="405.8" y="136">Fra8</text><text x="405.8" y="138.5">Par</text><text x="405.8" y="141.1">Bhri</text><text x="405.8" y="143.8">Tvr</text><text x="405.8" y="146.5">Ae9</text><text x="405.8" y="149.2">Vap3</text><text x="405.8" y="151.7">Sdtga</text><text x="405.8" y="154.3">Hkpck</text><text x="405.8" y="157">Lwrk8</text><text x="405.8" y="159.7">Mteo</text><text x="405.8" y="162.2">Kcc</text><text x="405.8" y="164.7">Cnrb2</text><text x="405.8" y="167.2">Fk</text><text x="405.8" y="169.8">Gofc</text><text x="405.8" y="172.3">Pcibu</text><text x="405.8" y="175">Faoc8</text><text x="405.8" y="177.6">Nbeke</text><text x="405.8" y="180.3">Iict5</text><text x="405.8" y="183">Npn1</text><text x="405.8" y="185.7">Bcds</text><text x="405.8" y="188.2">Tlds7</text><text x="405.8" y="190.7">Idcr</text><text x="405.8" y="193.2">Nhkl</text><text x="405.8" y="195.9">Pemw7</text><text x="405.8" y="198.5">Hfnc1</text><text x="405.8" y="201">Tr</text><text x="405.8" y="203.6">Lvolp</text><text x="405.8" y="206.1">Teti3</text><text x="405.8" y="208.7">Tb6</text><text x="405.8" y="211.3">Apred</text><text x="405.8" y="213.9">Ifbga</text><text x="405.8" y="216.6">Nkfp2</text><text x="405.8" y="219.3">Ghfg</text><text x="405.8" y="222">Kapbp</text><text x="405.8" y="224.6">Vu2</text><text x="405.8" y="227.3">Crbh</text><text x="405.8" y="229.9">Bi</text><text x="405.8" y="232.5">Bg9</text><text x="405.8" y="235.2">Icld3</text><text x="405.8" y="237.9">Hvapt</text><text x="405.8" y="240.6">Fakp</text><text x="405.8" y="243.1">Lrc</text><text x="405.8" y="245.7">Fet4</text><text x="405.8" y="248.4">Iibr</text><text x="405.8" y="250.9">Ndc</text><text x="405.8" y="253.5">Akwe</text><text x="405.8" y="256.1">Aboid</text><text x="405.8" y="258.7">Ckf8</text><text x="405.8" y="261.4">Ct</text><text x="405.8" y="264.1">Be</text><text x="405.8" y="266.7">Ahso4</text><text x="405.8" y="269.3">Gdi</text><text x="405.8" y="271.8">Soo6</text><text x="405.8" y="274.4">Rfpb</text><text x="405.8" y="276.9">Adeo</text><text x="405.8" y="279.4">Ir</text><text x="405.8" y="282">Hig9</text><text x="405.8" y="284.6">Nmh</text><text x="405.8" y="287.3">Tn3</text><text x="405.8" y="289.8">Df5</text><text x="405.8" y="292.3">Trt</text><text x="405.8" y="294.8">Ds</text><text x="405.8" y="297.5">Alav7</text><text x="405.8" y="300.2">Pputb</text><text x="405.8" y="302.8">Asgk1</text><text x="405.8" y="305.3">Rkai</text><text x="405.8" y="307.8">Lm</text><text x="405.8" y="310.5">Hrsc</text><text x="405.8" y="313">Rnan9</text><text x="405.8" y="315.5">Mnld</text><text x="405.8" y="318.2">Idg5</text><text x="405.8" y="320.9">Cwo</text><text x="405.8" y="323.4">Roho</text><text x="405.8" y="326.1">Ric</text><text x="405.8" y="328.7">Fd9</text><text x="405.8" y="331.4">Hlvd</text><text x="405.8" y="334.1">Br9</text><text x="405.8" y="336.6">Phvr</text><text x="405.8" y="339.1">Dcl2</text><text x="405.8" y="341.8">Mftuw</text><text x="405.8" y="344.3">Hg3</text><text x="405.8" y="346.9">Chntp</text><text x="405.8" y="349.6">Arn</text><text x="405.8" y="352.3">Ladrm</text><text x="405.8" y="354.8">Fkrw</text><text x="405.8" y="357.3">Rlc</text><text x="405.8" y="359.8">Kce2</text><text x="405.8" y="362.5">Phc</text><text x="405.8" y="365">Fm</text><text x="405.8" y="367.5">Pscb</text><text x="405.8" y="370">Arsc</text><text x="405.8" y="372.7">Tsabf</text><text x="405.8" y="375.3">Bgaoo</text><text x="405.8" y="377.9">Afle4</text><text x="405.8" y="380.5">Ng4</text><text x="405.8" y="383.1">Law3</text><text x="405.8" y="385.7">Pboeg</text><text x="405.8" y="388.4">Sep6</text><text x="405.8" y="391.1">Rci6</text><text x="405.8" y="393.7">Lst2</text><text x="405.8" y="396.2">Lmr</text><text x="405.8" y="398.8">Fia</text><text x="405.8" y="401.5">Tba4</text><text x="405.8" y="404.1">Ikbsh</text><text x="405.8" y="406.7">Lppd</text><text x="405.8" y="409.3">Pnk</text><text x="405.8" y="412">Sb</text><text x="405.8" y="414.7">Vk</text><text x="405.8" y="417.3">Smc</text><text x="405.8" y="420">Sbbc3</text><text x="405.8" y="422.6">Kre</text><text x="405.8" y="425.2">Kn4</text><text x="405.8" y="427.9">Gveu6</text><text x="405.8" y="430.6">Bvrw7</text><text x="405.8" y="433.1">Svuh</text><text x="405.8" y="435.8">Cb8</text><text x="405.8" y="438.4">Cwid</text><text x="405.8" y="441">Lal</text><text x="405.8" y="443.6">Hil</text><text x="405.8" y="446.1">Ncw</text><text x="405.8" y="448.8">Gger9</text><text x="405.8" y="451.4">Aeo8</text><text x="405.8" y="454.1">Ifo</text><text x="405.8" y="456.7">Dgi</text><text x="405.8" y="459.4">Cddld</text><text x="405.8" y="462.1">Pfwl</text><text x="405.8" y="464.7">Dkc6</text><text x="405.8" y="467.3">Cckc2</text><text x="405.8" y="470">Rdpo7</text><text x="405.8" y="472.5">Lwds6</text><text x="405.8" y="475">Gh9</text><text x="405.8" y="477.5">Podik</text><text x="405.8" y="480.1">Fnwf</text><text x="405.8" y="482.7">Vcekb</text><text x="405.8" y="485.4">Vikf</text><text x="405.8" y="488">Devg</text><text x="405.8" y="490.7">Iehf</text><text x="405.8" y="493.4">Sfrd5</text><text x="405.8" y="496.1">Dg</text><text x="405.8" y="498.7">Tsvk</text><text x="405.8" y="501.2">Vok</text><text x="405.8" y="503.7">Bar</text><text x="405.8" y="506.3">Loup9</text><text x="405.8" y="509">Afurw</text><text x="405.8" y="511.6">It2</text><text x="405.8" y="514.3">Vhn</text><text x="405.8" y="516.9">Kag</text><text x="405.8" y="519.6">Nouk2</text><text x="405.8" y="522.2">Sbis</text><text x="405.8" y="524.7">Aggd8</text><text x="405.8" y="527.3">Cavv</text><text x="405.8" y="530">Hawps</text><text x="405.8" y="532.7">Nc7</text><text x="405.8" y="535.2">Lg</text><text x="405.8" y="537.8">Pg7</text><text x="405.8" y="540.4">Kp</text><text x="405.8" y="542.9">Kchoo</text><text x="405.8" y="545.6">Sgglu</text><text x="405.8" y="548.1">Nwd</text><text x="405.8" y="550.7">Lfa</text><text x="405.8" y="553.4">At</text><text x="405.8" y="556">Te1</text><text x="405.8" y="558.7">Kupl</text><text x="405.8" y="561.4">Rtpa5</text><text x="405.8" y="563.9">Th6</text><text x="405.8" y="566.4">Rfl1</text><text x="405.8" y="569">Vc</text><text x="405.8" y="571.7">Ts</text><text x="405.8" y="574.2">Riv</text><text x="405.8" y="576.7">Ikcu7</text><text x="405.8" y="579.3">Nwo6</text><text x="405.8" y="581.8">Sl8</text><text x="405.8" y="584.4">Bvhk8</text><text x="405.8" y="587.1">Vcsu</text><text x="405.8" y="589.7">Pode6</text><text x="405.8" y="592.2">Rvu1</text><text x="405.8" y="594.8">Bud</text><text x="405.8" y="597.5">Ck</text><text x="405.8" y="600.1">Bop6</text><text x="405.8" y="602.8">Ppvp</text><text x="405.8" y="605.3">Cdp</text><text x="405.8" y="607.9">Dnn</text><text x="405.8" y="610.5">Smiff</text><text x="405.8" y="613">Migv9</text><text x="405.8" y="615.6">Bggn8</text><text x="405.8" y="618.3">Dt6</text><text x="405.8" y="620.9">Abg</text><text x="405.8" y="623.5">Bhl</text><text x="405.8" y="626">Bd</text><text x="405.8" y="628.5">Dhc</text><text x="405.8" y="631.2">Mio5</text><text x="405.8" y="633.8">Ira</text><text x="405.8" y="636.4">Hn</text><text x="405.8" y="638.9">Ka</text><text x="405.8" y="641.4">Mmh</text></g>
<g class="g" font-size="3.6" font-weight="bold" text-anchor="end" fill="#000"><text x="614.8" y="28.6">Aulsnmliwgc2d</text><text x="614.8" y="31.4">Auughl2</text><text x="614.8" y="34.2">Hnwb1</text><text x="614.8" y="36.8">Dvuc2d</text><text x="614.8" y="39.8">Licv8c2d</text><text x="614.8" y="42.2">Nursa9a</text><text x="614.8" y="44.8">Pirl2</text><text x="614.8" y="47.6">Hdvaa</text><text x="614.8" y="50.4">Kfib1</text><text x="614.8" y="52.8">Dvh4b1</text><text x="614.8" y="55.8">Crna</text><text x="614.8" y="58.8">Ttbnva</text><text x="614.8" y="61.6">Gmovva</text><text x="614.8" y="64.6">Iuvvb4rs</text><text x="614.8" y="67.6">Gprrpa</text><text x="614.8" y="70.2">Iecdpl2</text><text x="614.8" y="72.6">Arva</text><text x="614.8" y="75">Rp</text><text x="614.8" y="77.4">Vwlhrs</text><text x="614.8" y="80.4">Mbul1a</text><text x="614.8" y="83">Kkha</text><text x="614.8" y="86">Trhla</text><text x="614.8" y="88.8">Deh4b1</text><text x="614.8" y="91.4">Ti9ab</text><text x="614.8" y="94.2">Ddpkethllf7rs</text><text x="614.8" y="96.6">Pcda9rs</text><text x="614.8" y="99.2">Fmtki7l2</text><text x="614.8" y="101.6">Tdk</text><text x="614.8" y="104.2">Du9l2</text><text x="614.8" y="107.2">Tssmg1</text><text x="614.8" y="109.6">Aplt6rs</text><text x="614.8" y="112.4">Tici9b1</text><text x="614.8" y="115.4">Bfbhosueg2c2d</text><text x="614.8" y="118.4">Tuepc2d</text><text x="614.8" y="121.2">Lcplb1</text><text x="614.8" y="123.8">Nks6b1</text><text x="614.8" y="126.6">Pso5rs</text><text x="614.8" y="129.6">Gal</text><text x="614.8" y="132.2">Vvrda</text><text x="614.8" y="135">Bna</text><text x="614.8" y="137.8">Kkr4</text><text x="614.8" y="140.8">Tm</text><text x="614.8" y="143.6">Vrfrs</text><text x="614.8" y="146.6">Avg3l2</text><text x="614.8" y="149">Miaal2</text><text x="614.8" y="151.8">Dshfub1</text><text x="614.8" y="154.6">Pfers</text><text x="614.8" y="157.4">Slil5ab</text><text x="614.8" y="160.4">Iicd2l2</text><text x="614.8" y="163.4">Dmer</text><text x="614.8" y="166.4">Kdsab</text><text x="614.8" y="169">Drec3ab</text><text x="614.8" y="171.6">Depc8ab</text><text x="614.8" y="174">Dua</text><text x="614.8" y="176.6">Vurk3l2</text><text x="614.8" y="179.6">Tawewab</text><text x="614.8" y="182.4">Pbb1</text><text x="614.8" y="185.4">Rhlmab</text><text x="614.8" y="188.4">Atagta</text><text x="614.8" y="191.2">Rclin2ab</text><text x="614.8" y="193.6">Fcgrc2d</text><text x="614.8" y="196.4">Nggcab</text><text x="614.8" y="199.2">Runhv3l2</text><text x="614.8" y="201.8">Hbamirrrc</text><text x="614.8" y="204.6">Bucw6c2d</text><text x="614.8" y="207">Athv</text><text x="614.8" y="209.6">Bdrs</text><text x="614.8" y="212.4">Sug4a</text><text x="614.8" y="215">Pwrab1</text><text x="614.8" y="218">Atoa</text><text x="614.8" y="220.6">Glt6b1</text><text x="614.8" y="223.2">Nfofc2d</text><text x="614.8" y="226">Vtkiedpcds6b1</text><text x="614.8" y="228.4">Thp3b1</text><text x="614.8" y="231.2">Rab7a</text><text x="614.8" y="234">Suab</text><text x="614.8" y="236.4">Tntcb1</text><text x="614.8" y="239.4">Ribb1</text><text x="614.8" y="242.2">Kgdc2d</text><text x="614.8" y="244.8">Cgcfma</text><text x="614.8" y="247.6">Kwodn8rs</text><text x="614.8" y="250.2">Ceguma</text><text x="614.8" y="252.8">Smors</text><text x="614.8" y="255.4">Csl7c2d</text><text x="614.8" y="257.8">Pdttk9ab</text><text x="614.8" y="260.8">Srab</text><text x="614.8" y="263.6">Sta8</text><text x="614.8" y="266.6">Nteab</text><text x="614.8" y="269.4">Gef8ab</text><text x="614.8" y="272.4">Rsba</text><text x="614.8" y="275.2">Lgrs</text><text x="614.8" y="277.6">Kecpab</text><text x="614.8" y="280.2">Hpgwm</text><text x="614.8" y="282.8">Cec5rs</text><text x="614.8" y="285.8">Torcnb1</text><text x="614.8" y="288.6">Fac2d</text><text x="614.8" y="291.4">Cpwt8</text><text x="614.8" y="294.4">Pgfml2</text><text x="614.8" y="297">Tscb1</text><text x="614.8" y="300">Ftiab</text><text x="614.8" y="302.8">Ngbners</text><text x="614.8" y="305.6">Ml6rs</text><text x="614.8" y="308.2">Ihuka</text><text x="614.8" y="310.8">Devskab</text><text x="614.8" y="313.2">Meo1ab</text><text x="614.8" y="316.2">Fsm1a</text><text x="614.8" y="319">Cafu1</text><text x="614.8" y="321.8">Stwib1</text><text x="614.8" y="324.8">Kd7c2d</text><text x="614.8" y="327.6">Fuc3c2d</text><text x="614.8" y="330.4">Lbpfe3b1</text><text x="614.8" y="333">Sfhwul2</text><text x="614.8" y="336">Fhhua</text><text x="614.8" y="338.8">Mto</text><text x="614.8" y="341.4">Lrpbw5rs</text><text x="614.8" y="344.2">Aca</text><text x="614.8" y="346.8">Hfh6c2d</text><text x="614.8" y="349.4">Nf3ab</text><text x="614.8" y="352.2">Gohwl2</text><text x="614.8" y="354.6">Rcc9a</text><text x="614.8" y="357.2">Hnop8ab</text><text x="614.8" y="360">Kktoudbttb1</text><text x="614.8" y="362.8">Ftrs</text><text x="614.8" y="365.6">Rg3b1</text><text x="614.8" y="368">Bmiokdaob1</text><text x="614.8" y="370.4">Aakmfb1</text><text x="614.8" y="373.2">Imfol2</text><text x="614.8" y="375.8">Mprrs</text><text x="614.8" y="378.6">Lksv5a</text><text x="614.8" y="381.6">Bkmusab</text><text x="614.8" y="384.6">Puitrs</text><text x="614.8" y="387.4">Hrrma5rs</text><text x="614.8" y="390.4">Lgders</text><text x="614.8" y="393">Fpngh1l2</text><text x="614.8" y="395.4">Vnoll2</text><text x="614.8" y="398.4">Tcwab</text><text x="614.8" y="401.2">Idtl2</text><text x="614.8" y="403.8">Twbsul2</text><text x="614.8" y="406.4">Bg8c2d</text><text x="614.8" y="408.8">Mu4l2</text><text x="614.8" y="411.6">Invrs</text><text x="614.8" y="414.2">Hwcol2</text><text x="614.8" y="416.6">Cgrv5l2</text><text x="614.8" y="419.4">Tcedul2</text><text x="614.8" y="422.2">Dvavrs</text><text x="614.8" y="424.6">Ku1c2d</text><text x="614.8" y="427.4">Sisrdl2</text><text x="614.8" y="430.2">Skae</text><text x="614.8" y="433">Kinl2</text><text x="614.8" y="436">Pcpab</text><text x="614.8" y="438.4">Cklc</text><text x="614.8" y="440.8">Vso4b1</text><text x="614.8" y="443.6">Rf6b1</text><text x="614.8" y="446">Damecefkc2d</text><text x="614.8" y="448.6">Kcrteuvbt2ab</text><text x="614.8" y="451.2">Hrh7b1</text><text x="614.8" y="453.8">Sslva</text><text x="614.8" y="456.2">Htksc3l2</text><text x="614.8" y="458.8">Bkdg2rs</text><text x="614.8" y="461.6">Boab</text><text x="614.8" y="464">Vtfab</text><text x="614.8" y="466.6">Kgpwb1</text><text x="614.8" y="469.6">Hoha</text><text x="614.8" y="472.4">Kbal2</text><text x="614.8" y="475.2">Fmfb1</text><text x="614.8" y="478">Bkud</text><text x="614.8" y="480.8">Spouea</text><text x="614.8" y="483.4">Itsc2d</text><text x="614.8" y="485.8">Faeh1a</text><text x="614.8" y="488.6">Fkiaa</text><text x="614.8" y="491">Gta</text><text x="614.8" y="493.8">Mlvfolctrg1ab</text><text x="614.8" y="496.4">Snnla</text><text x="614.8" y="499.2">Hrka</text><text x="614.8" y="501.6">Dvkcp2</text><text x="614.8" y="504">Lacpwrs</text><text x="614.8" y="506.6">Dvsmnl2</text><text x="614.8" y="509.4">Cksi3ab</text><text x="614.8" y="512.2">Lulumllrsgb1</text><text x="614.8" y="514.6">Cutoaa</text><text x="614.8" y="517">Grabcab</text><text x="614.8" y="519.4">Puuncl2</text><text x="614.8" y="522.2">Ddwp4</text><text x="614.8" y="525.2">Tdva9ab</text><text x="614.8" y="528">Hdr2</text><text x="614.8" y="530.6">Twrs</text><text x="614.8" y="533.2">Vkvvr7c2d</text><text x="614.8" y="536.2">Mhl2</text><text x="614.8" y="539.2">Hatab</text><text x="614.8" y="541.6">Kcp8rs</text><text x="614.8" y="544.6">Kpsa5</text><text x="614.8" y="547.4">Lfmkrs</text><text x="614.8" y="550.4">Kavisa</text><text x="614.8" y="553">Mlpoc2d</text><text x="614.8" y="555.4">Vlob1</text><text x="614.8" y="557.8">Katab</text><text x="614.8" y="560.6">Msca</text><text x="614.8" y="563.4">Nhm</text><text x="614.8" y="565.8">Lciab</text><text x="614.8" y="568.6">Vagdcrs</text><text x="614.8" y="571.6">Ahvsl2</text><text x="614.8" y="574">Rhbc2d</text><text x="614.8" y="576.4">Ipbtc2d</text><text x="614.8" y="579.2">Diduab</text><text x="614.8" y="581.8">Pebi5</text><text x="614.8" y="584.4">Kuod</text><text x="614.8" y="587.2">Aevd2b1</text><text x="614.8" y="590">Bofgv1b1</text><text x="614.8" y="592.6">Gp6ab</text><text x="614.8" y="595.6">Kig6c2d</text><text x="614.8" y="598.6">Svrs</text><text x="614.8" y="601.2">Gtadp7b1</text><text x="614.8" y="603.8">Pmihrs</text><text x="614.8" y="606.2">Dgkllepggirs</text><text x="614.8" y="609.2">Ndsvlhvslab</text><text x="614.8" y="612">Iv4a</text><text x="614.8" y="614.6">Hnsrda</text><text x="614.8" y="617.6">Psfu4c2d</text><text x="614.8" y="620.2">Kduaub1</text><text x="614.8" y="622.6">Mnvpl2</text><text x="614.8" y="625">Cgfina</text><text x="614.8" y="627.8">Aiedg</text><text x="614.8" y="630.2">Ntl</text><text x="614.8" y="633">Aona2b1</text><text x="614.8" y="636">Gmo</text><text x="614.8" y="638.6">Nsage3c2d</text><text x="614.8" y="641.2">Crdb1</text><text x="614.8" y="643.6">Rkadaa</text></g>
<line x1="406.8" y1="25.2" x2="406.8" y2="643.6" stroke="#000" stroke-width="1.9"/>
<line x1="615.5" y1="25.2" x2="615.5" y2="643.6" stroke="#000" stroke-width="1.9"/>
<defs><linearGradient id="cb1" x1="0" y1="0" x2="0" y2="1"><stop offset="0" stop-color="#ff2816"/><stop offset="0.19" stop-color="#ffffff"/><stop offset="1" stop-color="#1024ff"/></linearGradient></defs>
<rect x="513" y="25.4" width="11.6" height="618.6" fill="url(#cb1)" stroke="#111" stroke-width="1"/>
<line x1="513" y1="66.29" x2="515.2" y2="66.29" stroke="#222" stroke-width="1"/>
<line x1="522.4" y1="66.29" x2="524.6" y2="66.29" stroke="#222" stroke-width="1"/>
<text x="528.8" y="69.79" font-size="9.8" text-anchor="start" font-weight="normal" fill="#111">10</text>
<line x1="513" y1="142" x2="515.2" y2="142" stroke="#222" stroke-width="1"/>
<line x1="522.4" y1="142" x2="524.6" y2="142" stroke="#222" stroke-width="1"/>
<text x="528.8" y="145.5" font-size="9.8" text-anchor="start" font-weight="normal" fill="#111">0</text>
<line x1="513" y1="217.72" x2="515.2" y2="217.72" stroke="#222" stroke-width="1"/>
<line x1="522.4" y1="217.72" x2="524.6" y2="217.72" stroke="#222" stroke-width="1"/>
<text x="528.8" y="221.22" font-size="9.8" text-anchor="start" font-weight="normal" fill="#111">-10</text>
<line x1="513" y1="293.43" x2="515.2" y2="293.43" stroke="#222" stroke-width="1"/>
<line x1="522.4" y1="293.43" x2="524.6" y2="293.43" stroke="#222" stroke-width="1"/>
<text x="528.8" y="296.93" font-size="9.8" text-anchor="start" font-weight="normal" fill="#111">-20</text>
<line x1="513" y1="369.15" x2="515.2" y2="369.15" stroke="#222" stroke-width="1"/>
<line x1="522.4" y1="369.15" x2="524.6" y2="369.15" stroke="#222" stroke-width="1"/>
<text x="528.8" y="372.65" font-size="9.8" text-anchor="start" font-weight="normal" fill="#111">-30</text>
<line x1="513" y1="444.87" x2="515.2" y2="444.87" stroke="#222" stroke-width="1"/>
<line x1="522.4" y1="444.87" x2="524.6" y2="444.87" stroke="#222" stroke-width="1"/>
<text x="528.8" y="448.37" font-size="9.8" text-anchor="start" font-weight="normal" fill="#111">-40</text>
<line x1="513" y1="520.58" x2="515.2" y2="520.58" stroke="#222" stroke-width="1"/>
<line x1="522.4" y1="520.58" x2="524.6" y2="520.58" stroke="#222" stroke-width="1"/>
<text x="528.8" y="524.08" font-size="9.8" text-anchor="start" font-weight="normal" fill="#111">-50</text>
<line x1="513" y1="596.3" x2="515.2" y2="596.3" stroke="#222" stroke-width="1"/>
<line x1="522.4" y1="596.3" x2="524.6" y2="596.3" stroke="#222" stroke-width="1"/>
<text x="528.8" y="599.8" font-size="9.8" text-anchor="start" font-weight="normal" fill="#111">-60</text>
<defs><linearGradient id="cb2" x1="0" y1="0" x2="0" y2="1"><stop offset="0" stop-color="#ff2816"/><stop offset="0.64" stop-color="#ffffff"/><stop offset="1" stop-color="#1024ff"/></linearGradient></defs>
<rect x="721.3" y="25.4" width="12.2" height="617.1" fill="url(#cb2)" stroke="#111" stroke-width="1"/>
<line x1="721.3" y1="58.87" x2="723.5" y2="58.87" stroke="#222" stroke-width="1"/>
<line x1="731.3" y1="58.87" x2="733.5" y2="58.87" stroke="#222" stroke-width="1"/>
<text x="737.2" y="62.37" font-size="9.8" text-anchor="start" font-weight="normal" fill="#111">30</text>
<line x1="721.3" y1="179.71" x2="723.5" y2="179.71" stroke="#222" stroke-width="1"/>
<line x1="731.3" y1="179.71" x2="733.5" y2="179.71" stroke="#222" stroke-width="1"/>
<text x="737.2" y="183.21" font-size="9.8" text-anchor="start" font-weight="normal" fill="#111">20</text>
<line x1="721.3" y1="300.54" x2="723.5" y2="300.54" stroke="#222" stroke-width="1"/>
<line x1="731.3" y1="300.54" x2="733.5" y2="300.54" stroke="#222" stroke-width="1"/>
<text x="737.2" y="304.04" font-size="9.8" text-anchor="start" font-weight="normal" fill="#111">10</text>
<line x1="721.3" y1="421.37" x2="723.5" y2="421.37" stroke="#222" stroke-width="1"/>
<line x1="731.3" y1="421.37" x2="733.5" y2="421.37" stroke="#222" stroke-width="1"/>
<text x="737.2" y="424.87" font-size="9.8" text-anchor="start" font-weight="normal" fill="#111">0</text>
<line x1="721.3" y1="542.21" x2="723.5" y2="542.21" stroke="#222" stroke-width="1"/>
<line x1="731.3" y1="542.21" x2="733.5" y2="542.21" stroke="#222" stroke-width="1"/>
<text x="737.2" y="545.71" font-size="9.8" text-anchor="start" font-weight="normal" fill="#111">-10</text>
<text x="552" y="226" font-size="11.8" text-anchor="start" font-weight="bold" fill="#000" transform="rotate(90 552 226)" textLength="151" lengthAdjust="spacingAndGlyphs">Z-score: Log<tspan font-size="7.5" dy="2.5">2</tspan><tspan dy="-2.5">[Fold Change]</tspan></text>
<text x="760.6" y="226" font-size="11.8" text-anchor="start" font-weight="bold" fill="#000" transform="rotate(90 760.6 226)" textLength="151" lengthAdjust="spacingAndGlyphs">Z-score: Log<tspan font-size="7.5" dy="2.5">2</tspan><tspan dy="-2.5">[Fold Change]</tspan></text>
<text x="27.2" y="336.3" font-size="10.6" text-anchor="start" font-weight="bold" fill="#000">TGF-β: Up</text>
<rect x="168.5" y="344.7" width="43.77" height="10.8" fill="#ff2a00" stroke="#222" stroke-width="0.9"/>
<line x1="164.9" y1="350.1" x2="168.5" y2="350.1" stroke="#111" stroke-width="0.9"/>
<text x="163.9" y="352.7" font-size="6.3" text-anchor="end" font-weight="bold" fill="#000">Retrograde endocannabinoid signaling</text>
<rect x="168.5" y="359.75" width="54.08" height="10.8" fill="#ff2a00" stroke="#222" stroke-width="0.9"/>
<line x1="164.9" y1="365.15" x2="168.5" y2="365.15" stroke="#111" stroke-width="0.9"/>
<text x="163.9" y="367.75" font-size="6.3" text-anchor="end" font-weight="bold" fill="#000">Diabetic cardiomyopathy</text>
<rect x="168.5" y="374.8" width="54.59" height="10.8" fill="#ff2a00" stroke="#222" stroke-width="0.9"/>
<line x1="164.9" y1="380.2" x2="168.5" y2="380.2" stroke="#111" stroke-width="0.9"/>
<text x="163.9" y="382.8" font-size="6.3" text-anchor="end" font-weight="bold" fill="#000">Parkinson disease</text>
<rect x="168.5" y="389.85" width="60.77" height="10.8" fill="#ff2a00" stroke="#222" stroke-width="0.9"/>
<line x1="164.9" y1="395.25" x2="168.5" y2="395.25" stroke="#111" stroke-width="0.9"/>
<text x="163.9" y="397.85" font-size="6.3" text-anchor="end" font-weight="bold" fill="#000">Cardiac muscle contraction</text>
<rect x="168.5" y="404.9" width="62.06" height="10.8" fill="#ff2a00" stroke="#222" stroke-width="0.9"/>
<line x1="164.9" y1="410.3" x2="168.5" y2="410.3" stroke="#111" stroke-width="0.9"/>
<text x="163.9" y="412.9" font-size="6.3" text-anchor="end" font-weight="bold" fill="#000">Thermogenesis</text>
<rect x="168.5" y="419.95" width="64.12" height="10.8" fill="#ff2a00" stroke="#222" stroke-width="0.9"/>
<line x1="164.9" y1="425.35" x2="168.5" y2="425.35" stroke="#111" stroke-width="0.9"/>
<text x="163.9" y="427.95" font-size="6.3" text-anchor="end" font-weight="bold" fill="#000">Prion disease</text>
<rect x="168.5" y="435" width="97.85" height="10.8" fill="#ff2a00" stroke="#222" stroke-width="0.9"/>
<line x1="164.9" y1="440.4" x2="168.5" y2="440.4" stroke="#111" stroke-width="0.9"/>
<text x="163.9" y="443" font-size="6.3" text-anchor="end" font-weight="bold" fill="#000">Oxidative phosphorylation</text>
<rect x="168.5" y="450.05" width="98.36" height="10.8" fill="#ff2a00" stroke="#222" stroke-width="0.9"/>
<line x1="164.9" y1="455.45" x2="168.5" y2="455.45" stroke="#111" stroke-width="0.9"/>
<text x="163.9" y="458.05" font-size="6.3" text-anchor="end" font-weight="bold" fill="#000">Neuroactive ligand-receptor interaction</text>
<line x1="168.5" y1="338" x2="168.5" y2="467.2" stroke="#111" stroke-width="1.2"/>
<line x1="168" y1="466.7" x2="297.75" y2="466.7" stroke="#111" stroke-width="1.2"/>
<line x1="168.5" y1="466.7" x2="168.5" y2="470.2" stroke="#111" stroke-width="1"/>
<text x="168.5" y="477.5" font-size="6.3" text-anchor="middle" font-weight="bold" fill="#000">0</text>
<line x1="194.25" y1="466.7" x2="194.25" y2="470.2" stroke="#111" stroke-width="1"/>
<text x="194.25" y="477.5" font-size="6.3" text-anchor="middle" font-weight="bold" fill="#000">1</text>
<line x1="220" y1="466.7" x2="220" y2="470.2" stroke="#111" stroke-width="1"/>
<text x="220" y="477.5" font-size="6.3" text-anchor="middle" font-weight="bold" fill="#000">2</text>
<line x1="245.75" y1="466.7" x2="245.75" y2="470.2" stroke="#111" stroke-width="1"/>
<text x="245.75" y="477.5" font-size="6.3" text-anchor="middle" font-weight="bold" fill="#000">3</text>
<line x1="271.5" y1="466.7" x2="271.5" y2="470.2" stroke="#111" stroke-width="1"/>
<text x="271.5" y="477.5" font-size="6.3" text-anchor="middle" font-weight="bold" fill="#000">4</text>
<line x1="297.25" y1="466.7" x2="297.25" y2="470.2" stroke="#111" stroke-width="1"/>
<text x="297.25" y="477.5" font-size="6.3" text-anchor="middle" font-weight="bold" fill="#000">5</text>
<text x="232.88" y="487" font-size="6.9" text-anchor="middle" font-weight="bold" fill="#000">-Log<tspan font-size="4.8" dy="1.8">10</tspan><tspan dy="-1.8">[adj. p-value]</tspan></text>
<text x="27.2" y="497.2" font-size="10.6" text-anchor="start" font-weight="bold" fill="#000">TGF-β: Down</text>
<rect x="169" y="505.9" width="39.66" height="10.8" fill="#1f3cff" stroke="#222" stroke-width="0.9"/>
<line x1="165.4" y1="511.3" x2="169" y2="511.3" stroke="#111" stroke-width="0.9"/>
<text x="164.4" y="513.9" font-size="6.3" text-anchor="end" font-weight="bold" fill="#000">Malaria</text>
<rect x="169" y="520.95" width="40.43" height="10.8" fill="#1f3cff" stroke="#222" stroke-width="0.9"/>
<line x1="165.4" y1="526.35" x2="169" y2="526.35" stroke="#111" stroke-width="0.9"/>
<text x="164.4" y="528.95" font-size="6.3" text-anchor="end" font-weight="bold" fill="#000">Coronavirus disease - COVID-19</text>
<rect x="169" y="536" width="50.73" height="10.8" fill="#1f3cff" stroke="#222" stroke-width="0.9"/>
<line x1="165.4" y1="541.4" x2="169" y2="541.4" stroke="#111" stroke-width="0.9"/>
<text x="164.4" y="544" font-size="6.3" text-anchor="end" font-weight="bold" fill="#000">Lipid and atherosclerosis</text>
<rect x="169" y="551.05" width="57.17" height="10.8" fill="#1f3cff" stroke="#222" stroke-width="0.9"/>
<line x1="165.4" y1="556.45" x2="169" y2="556.45" stroke="#111" stroke-width="0.9"/>
<text x="164.4" y="559.05" font-size="6.3" text-anchor="end" font-weight="bold" fill="#000">Cytokine-cytokine receptor interaction</text>
<rect x="169" y="566.1" width="57.68" height="10.8" fill="#1f3cff" stroke="#222" stroke-width="0.9"/>
<line x1="165.4" y1="571.5" x2="169" y2="571.5" stroke="#111" stroke-width="0.9"/>
<text x="164.4" y="574.1" font-size="6.3" text-anchor="end" font-weight="bold" fill="#000">Complement and coagulation cascades</text>
<rect x="169" y="581.15" width="71.58" height="10.8" fill="#1f3cff" stroke="#222" stroke-width="0.9"/>
<line x1="165.4" y1="586.55" x2="169" y2="586.55" stroke="#111" stroke-width="0.9"/>
<text x="164.4" y="589.15" font-size="6.3" text-anchor="end" font-weight="bold" fill="#000">Phagosome</text>
<rect x="169" y="596.2" width="81.63" height="10.8" fill="#1f3cff" stroke="#222" stroke-width="0.9"/>
<line x1="165.4" y1="601.6" x2="169" y2="601.6" stroke="#111" stroke-width="0.9"/>
<text x="164.4" y="604.2" font-size="6.3" text-anchor="end" font-weight="bold" fill="#000">Hematopoietic cell lineage</text>
<rect x="169" y="611.25" width="97.85" height="10.8" fill="#1f3cff" stroke="#222" stroke-width="0.9"/>
<line x1="165.4" y1="616.65" x2="169" y2="616.65" stroke="#111" stroke-width="0.9"/>
<text x="164.4" y="619.25" font-size="6.3" text-anchor="end" font-weight="bold" fill="#000">Pertussis</text>
<line x1="169" y1="499.2" x2="169" y2="629.3" stroke="#111" stroke-width="1.2"/>
<line x1="168.5" y1="628.8" x2="298.25" y2="628.8" stroke="#111" stroke-width="1.2"/>
<line x1="169" y1="628.8" x2="169" y2="632.3" stroke="#111" stroke-width="1"/>
<text x="169" y="639.6" font-size="6.3" text-anchor="middle" font-weight="bold" fill="#000">0</text>
<line x1="194.75" y1="628.8" x2="194.75" y2="632.3" stroke="#111" stroke-width="1"/>
<text x="194.75" y="639.6" font-size="6.3" text-anchor="middle" font-weight="bold" fill="#000">1</text>
<line x1="220.5" y1="628.8" x2="220.5" y2="632.3" stroke="#111" stroke-width="1"/>
<text x="220.5" y="639.6" font-size="6.3" text-anchor="middle" font-weight="bold" fill="#000">2</text>
<line x1="246.25" y1="628.8" x2="246.25" y2="632.3" stroke="#111" stroke-width="1"/>
<text x="246.25" y="639.6" font-size="6.3" text-anchor="middle" font-weight="bold" fill="#000">3</text>
<line x1="272" y1="628.8" x2="272" y2="632.3" stroke="#111" stroke-width="1"/>
<text x="272" y="639.6" font-size="6.3" text-anchor="middle" font-weight="bold" fill="#000">4</text>
<line x1="297.75" y1="628.8" x2="297.75" y2="632.3" stroke="#111" stroke-width="1"/>
<text x="297.75" y="639.6" font-size="6.3" text-anchor="middle" font-weight="bold" fill="#000">5</text>
<text x="233.38" y="649.2" font-size="6.9" text-anchor="middle" font-weight="bold" fill="#000">-Log<tspan font-size="4.8" dy="1.8">10</tspan><tspan dy="-1.8">[adj. p-value]</tspan></text>
<text x="85.6" y="709.2" font-size="15.8" text-anchor="start" font-weight="bold" fill="#000" textLength="277.5" lengthAdjust="spacingAndGlyphs">Disease-associated Microglial Genes</text>
<text x="75.2" y="726.8" font-size="6.8" text-anchor="middle" font-weight="bold" fill="#000">Homeostatic</text>
<text x="139" y="726.8" font-size="6.8" text-anchor="middle" font-weight="bold" fill="#000">DAM1-Down</text>
<text x="210.4" y="726.8" font-size="6.8" text-anchor="middle" font-weight="bold" fill="#000">DAM1-Up</text>
<text x="324.2" y="726.8" font-size="6.8" text-anchor="middle" font-weight="bold" fill="#000">DAM2-Up</text>
<rect x="43.4" y="751.1" width="8.11" height="12.35" fill="#f4f4fe"/>
<rect x="43.4" y="763.15" width="8.11" height="12.05" fill="#c8ccf6"/>
<rect x="51.21" y="751.1" width="8.11" height="12.35" fill="#e4e6fc"/>
<rect x="51.21" y="763.15" width="8.11" height="12.05" fill="#c0c4f6"/>
<rect x="59.02" y="751.1" width="8.11" height="12.35" fill="#f8f8fe"/>
<rect x="59.02" y="763.15" width="8.11" height="12.05" fill="#b8bef4"/>
<rect x="66.84" y="751.1" width="8.11" height="12.35" fill="#ececfc"/>
<rect x="66.84" y="763.15" width="8.11" height="12.05" fill="#d0d4f8"/>
<rect x="74.65" y="751.1" width="8.11" height="12.35" fill="#ececfc"/>
<rect x="74.65" y="763.15" width="8.11" height="12.05" fill="#d0d4f8"/>
<rect x="82.46" y="751.1" width="8.11" height="12.35" fill="#eeeefc"/>
<rect x="82.46" y="763.15" width="8.11" height="12.05" fill="#e8eafc"/>
<rect x="90.28" y="751.1" width="8.11" height="12.35" fill="#8088f0"/>
<rect x="90.28" y="763.15" width="8.11" height="12.05" fill="#e0e2fa"/>
<rect x="98.09" y="751.1" width="8.11" height="12.35" fill="#c8ccf8"/>
<rect x="98.09" y="763.15" width="8.11" height="12.05" fill="#ffffff"/>
<rect x="105.9" y="751.1" width="8.29" height="12.35" fill="#0a28f0"/>
<rect x="105.9" y="763.15" width="8.29" height="12.05" fill="#d8dcfa"/>
<rect x="113.89" y="751.1" width="8.29" height="12.35" fill="#3048f0"/>
<rect x="113.89" y="763.15" width="8.29" height="12.05" fill="#ececfc"/>
<rect x="121.88" y="751.1" width="8.29" height="12.35" fill="#e0e2fa"/>
<rect x="121.88" y="763.15" width="8.29" height="12.05" fill="#e4e6fc"/>
<rect x="129.86" y="751.1" width="8.29" height="12.35" fill="#8088f0"/>
<rect x="129.86" y="763.15" width="8.29" height="12.05" fill="#e4e6fc"/>
<rect x="137.85" y="751.1" width="8.29" height="12.35" fill="#d8dcfa"/>
<rect x="137.85" y="763.15" width="8.29" height="12.05" fill="#f8f8fe"/>
<rect x="145.84" y="751.1" width="8.29" height="12.35" fill="#5060f0"/>
<rect x="145.84" y="763.15" width="8.29" height="12.05" fill="#f8f8fe"/>
<rect x="153.83" y="751.1" width="8.29" height="12.35" fill="#c8ccf8"/>
<rect x="153.83" y="763.15" width="8.29" height="12.05" fill="#c8ccf8"/>
<rect x="161.81" y="751.1" width="8.29" height="12.35" fill="#a8b0f4"/>
<rect x="161.81" y="763.15" width="8.29" height="12.05" fill="#b8bcf4"/>
<rect x="169.8" y="751.1" width="8.26" height="12.35" fill="#e4e6fc"/>
<rect x="169.8" y="763.15" width="8.26" height="12.05" fill="#ffffff"/>
<rect x="177.76" y="751.1" width="8.26" height="12.35" fill="#ffffff"/>
<rect x="177.76" y="763.15" width="8.26" height="12.05" fill="#ffffff"/>
<rect x="185.72" y="751.1" width="8.26" height="12.35" fill="#fcdcdc"/>
<rect x="185.72" y="763.15" width="8.26" height="12.05" fill="#e8eafc"/>
<rect x="193.68" y="751.1" width="8.26" height="12.35" fill="#fde4e4"/>
<rect x="193.68" y="763.15" width="8.26" height="12.05" fill="#8890f0"/>
<rect x="201.64" y="751.1" width="8.26" height="12.35" fill="#fcdcdc"/>
<rect x="201.64" y="763.15" width="8.26" height="12.05" fill="#eceefc"/>
<rect x="209.6" y="751.1" width="8.26" height="12.35" fill="#fde8e8"/>
<rect x="209.6" y="763.15" width="8.26" height="12.05" fill="#d8dcfa"/>
<rect x="217.56" y="751.1" width="8.26" height="12.35" fill="#fde0e0"/>
<rect x="217.56" y="763.15" width="8.26" height="12.05" fill="#d0d4f8"/>
<rect x="225.52" y="751.1" width="8.26" height="12.35" fill="#fa7870"/>
<rect x="225.52" y="763.15" width="8.26" height="12.05" fill="#9098f0"/>
<rect x="233.48" y="751.1" width="8.26" height="12.35" fill="#fcc0c0"/>
<rect x="233.48" y="763.15" width="8.26" height="12.05" fill="#c0c4f6"/>
<rect x="241.44" y="751.1" width="8.26" height="12.35" fill="#fcc4c4"/>
<rect x="241.44" y="763.15" width="8.26" height="12.05" fill="#d0d4f8"/>
<rect x="249.4" y="751.1" width="8.1" height="12.35" fill="#faf8f8"/>
<rect x="249.4" y="763.15" width="8.1" height="12.05" fill="#fefafa"/>
<rect x="257.2" y="751.1" width="8.1" height="12.35" fill="#ff2a10"/>
<rect x="257.2" y="763.15" width="8.1" height="12.05" fill="#b0b8f4"/>
<rect x="265" y="751.1" width="8.1" height="12.35" fill="#f4f6fe"/>
<rect x="265" y="763.15" width="8.1" height="12.05" fill="#fefafa"/>
<rect x="272.8" y="751.1" width="8.1" height="12.35" fill="#fcd8d8"/>
<rect x="272.8" y="763.15" width="8.1" height="12.05" fill="#fefafa"/>
<rect x="280.6" y="751.1" width="8.1" height="12.35" fill="#fef0f0"/>
<rect x="280.6" y="763.15" width="8.1" height="12.05" fill="#fde4e4"/>
<rect x="288.4" y="751.1" width="8.1" height="12.35" fill="#fcc8c8"/>
<rect x="288.4" y="763.15" width="8.1" height="12.05" fill="#fde8e8"/>
<rect x="296.2" y="751.1" width="8.1" height="12.35" fill="#eceefc"/>
<rect x="296.2" y="763.15" width="8.1" height="12.05" fill="#f8f8fe"/>
<rect x="304" y="751.1" width="8.1" height="12.35" fill="#fcdada"/>
<rect x="304" y="763.15" width="8.1" height="12.05" fill="#e0e4fc"/>
<rect x="311.8" y="751.1" width="8.1" height="12.35" fill="#fef4f4"/>
<rect x="311.8" y="763.15" width="8.1" height="12.05" fill="#7080f0"/>
<rect x="319.6" y="751.1" width="8.1" height="12.35" fill="#fde4e4"/>
<rect x="319.6" y="763.15" width="8.1" height="12.05" fill="#b8c0f4"/>
<rect x="327.4" y="751.1" width="8.1" height="12.35" fill="#fcdcdc"/>
<rect x="327.4" y="763.15" width="8.1" height="12.05" fill="#e0e4fc"/>
<rect x="335.2" y="751.1" width="8.1" height="12.35" fill="#fcd8d8"/>
<rect x="335.2" y="763.15" width="8.1" height="12.05" fill="#c0c4f6"/>
<rect x="343" y="751.1" width="8.1" height="12.35" fill="#fde8e8"/>
<rect x="343" y="763.15" width="8.1" height="12.05" fill="#d8dcfa"/>
<rect x="350.8" y="751.1" width="8.1" height="12.35" fill="#fa8c8c"/>
<rect x="350.8" y="763.15" width="8.1" height="12.05" fill="#4050f0"/>
<rect x="358.6" y="751.1" width="8.1" height="12.35" fill="#fcdcdc"/>
<rect x="358.6" y="763.15" width="8.1" height="12.05" fill="#c0c4f6"/>
<rect x="366.4" y="751.1" width="8.1" height="12.35" fill="#fdeaea"/>
<rect x="366.4" y="763.15" width="8.1" height="12.05" fill="#fde4e4"/>
<rect x="374.2" y="751.1" width="8.1" height="12.35" fill="#fcd4d4"/>
<rect x="374.2" y="763.15" width="8.1" height="12.05" fill="#d0d4f8"/>
<rect x="382" y="751.1" width="8.1" height="12.35" fill="#fdeaea"/>
<rect x="382" y="763.15" width="8.1" height="12.05" fill="#a8b0f4"/>
<rect x="389.8" y="751.1" width="8.1" height="12.35" fill="#fbbcbc"/>
<rect x="389.8" y="763.15" width="8.1" height="12.05" fill="#b0b8f4"/>
<rect x="397.6" y="751.1" width="8.1" height="12.35" fill="#fde4e4"/>
<rect x="397.6" y="763.15" width="8.1" height="12.05" fill="#fefafa"/>
<rect x="43.4" y="751.1" width="362" height="24.1" fill="none" stroke="#111" stroke-width="1.1"/>
<line x1="105.9" y1="751.1" x2="105.9" y2="775.2" stroke="#111" stroke-width="1.1"/>
<line x1="169.8" y1="751.1" x2="169.8" y2="775.2" stroke="#111" stroke-width="1.1"/>
<line x1="249.4" y1="751.1" x2="249.4" y2="775.2" stroke="#111" stroke-width="1.1"/>
<line x1="47.31" y1="748.7" x2="47.31" y2="751.1" stroke="#111" stroke-width="0.7"/>
<line x1="55.12" y1="748.7" x2="55.12" y2="751.1" stroke="#111" stroke-width="0.7"/>
<line x1="62.93" y1="748.7" x2="62.93" y2="751.1" stroke="#111" stroke-width="0.7"/>
<line x1="70.74" y1="748.7" x2="70.74" y2="751.1" stroke="#111" stroke-width="0.7"/>
<line x1="78.56" y1="748.7" x2="78.56" y2="751.1" stroke="#111" stroke-width="0.7"/>
<line x1="86.37" y1="748.7" x2="86.37" y2="751.1" stroke="#111" stroke-width="0.7"/>
<line x1="94.18" y1="748.7" x2="94.18" y2="751.1" stroke="#111" stroke-width="0.7"/>
<line x1="101.99" y1="748.7" x2="101.99" y2="751.1" stroke="#111" stroke-width="0.7"/>
<line x1="109.89" y1="748.7" x2="109.89" y2="751.1" stroke="#111" stroke-width="0.7"/>
<line x1="117.88" y1="748.7" x2="117.88" y2="751.1" stroke="#111" stroke-width="0.7"/>
<line x1="125.87" y1="748.7" x2="125.87" y2="751.1" stroke="#111" stroke-width="0.7"/>
<line x1="133.86" y1="748.7" x2="133.86" y2="751.1" stroke="#111" stroke-width="0.7"/>
<line x1="141.84" y1="748.7" x2="141.84" y2="751.1" stroke="#111" stroke-width="0.7"/>
<line x1="149.83" y1="748.7" x2="149.83" y2="751.1" stroke="#111" stroke-width="0.7"/>
<line x1="157.82" y1="748.7" x2="157.82" y2="751.1" stroke="#111" stroke-width="0.7"/>
<line x1="165.81" y1="748.7" x2="165.81" y2="751.1" stroke="#111" stroke-width="0.7"/>
<line x1="173.78" y1="748.7" x2="173.78" y2="751.1" stroke="#111" stroke-width="0.7"/>
<line x1="181.74" y1="748.7" x2="181.74" y2="751.1" stroke="#111" stroke-width="0.7"/>
<line x1="189.7" y1="748.7" x2="189.7" y2="751.1" stroke="#111" stroke-width="0.7"/>
<line x1="197.66" y1="748.7" x2="197.66" y2="751.1" stroke="#111" stroke-width="0.7"/>
<line x1="205.62" y1="748.7" x2="205.62" y2="751.1" stroke="#111" stroke-width="0.7"/>
<line x1="213.58" y1="748.7" x2="213.58" y2="751.1" stroke="#111" stroke-width="0.7"/>
<line x1="221.54" y1="748.7" x2="221.54" y2="751.1" stroke="#111" stroke-width="0.7"/>
<line x1="229.5" y1="748.7" x2="229.5" y2="751.1" stroke="#111" stroke-width="0.7"/>
<line x1="237.46" y1="748.7" x2="237.46" y2="751.1" stroke="#111" stroke-width="0.7"/>
<line x1="245.42" y1="748.7" x2="245.42" y2="751.1" stroke="#111" stroke-width="0.7"/>
<line x1="253.3" y1="748.7" x2="253.3" y2="751.1" stroke="#111" stroke-width="0.7"/>
<line x1="261.1" y1="748.7" x2="261.1" y2="751.1" stroke="#111" stroke-width="0.7"/>
<line x1="268.9" y1="748.7" x2="268.9" y2="751.1" stroke="#111" stroke-width="0.7"/>
<line x1="276.7" y1="748.7" x2="276.7" y2="751.1" stroke="#111" stroke-width="0.7"/>
<line x1="284.5" y1="748.7" x2="284.5" y2="751.1" stroke="#111" stroke-width="0.7"/>
<line x1="292.3" y1="748.7" x2="292.3" y2="751.1" stroke="#111" stroke-width="0.7"/>
<line x1="300.1" y1="748.7" x2="300.1" y2="751.1" stroke="#111" stroke-width="0.7"/>
<line x1="307.9" y1="748.7" x2="307.9" y2="751.1" stroke="#111" stroke-width="0.7"/>
<line x1="315.7" y1="748.7" x2="315.7" y2="751.1" stroke="#111" stroke-width="0.7"/>
<line x1="323.5" y1="748.7" x2="323.5" y2="751.1" stroke="#111" stroke-width="0.7"/>
<line x1="331.3" y1="748.7" x2="331.3" y2="751.1" stroke="#111" stroke-width="0.7"/>
<line x1="339.1" y1="748.7" x2="339.1" y2="751.1" stroke="#111" stroke-width="0.7"/>
<line x1="346.9" y1="748.7" x2="346.9" y2="751.1" stroke="#111" stroke-width="0.7"/>
<line x1="354.7" y1="748.7" x2="354.7" y2="751.1" stroke="#111" stroke-width="0.7"/>
<line x1="362.5" y1="748.7" x2="362.5" y2="751.1" stroke="#111" stroke-width="0.7"/>
<line x1="370.3" y1="748.7" x2="370.3" y2="751.1" stroke="#111" stroke-width="0.7"/>
<line x1="378.1" y1="748.7" x2="378.1" y2="751.1" stroke="#111" stroke-width="0.7"/>
<line x1="385.9" y1="748.7" x2="385.9" y2="751.1" stroke="#111" stroke-width="0.7"/>
<line x1="393.7" y1="748.7" x2="393.7" y2="751.1" stroke="#111" stroke-width="0.7"/>
<line x1="401.5" y1="748.7" x2="401.5" y2="751.1" stroke="#111" stroke-width="0.7"/>
<g class="g" font-size="3.9" font-weight="bold" fill="#000"><text x="46.71" y="748.1" transform="rotate(-45 46.71 748.1)">C1qa</text><text x="54.52" y="748.1" transform="rotate(-45 54.52 748.1)">C1qb</text><text x="62.33" y="748.1" transform="rotate(-45 62.33 748.1)">C1qc</text><text x="70.14" y="748.1" transform="rotate(-45 70.14 748.1)">Ctss</text><text x="77.96" y="748.1" transform="rotate(-45 77.96 748.1)">Hexb</text><text x="85.77" y="748.1" transform="rotate(-45 85.77 748.1)">Olfml3</text><text x="93.58" y="748.1" transform="rotate(-45 93.58 748.1)">Cx3cr1</text><text x="101.39" y="748.1" transform="rotate(-45 101.39 748.1)">Csf1r</text><text x="109.29" y="748.1" transform="rotate(-45 109.29 748.1)">P2ry12</text><text x="117.28" y="748.1" transform="rotate(-45 117.28 748.1)">P2ry13</text><text x="125.27" y="748.1" transform="rotate(-45 125.27 748.1)">Serinc3</text><text x="133.26" y="748.1" transform="rotate(-45 133.26 748.1)">Cx3cr1</text><text x="141.24" y="748.1" transform="rotate(-45 141.24 748.1)">Tgfbr1</text><text x="149.23" y="748.1" transform="rotate(-45 149.23 748.1)">Tmem119</text><text x="157.22" y="748.1" transform="rotate(-45 157.22 748.1)">Txnip</text><text x="165.21" y="748.1" transform="rotate(-45 165.21 748.1)">Glul</text><text x="173.18" y="748.1" transform="rotate(-45 173.18 748.1)">Apoe</text><text x="181.14" y="748.1" transform="rotate(-45 181.14 748.1)">B2m</text><text x="189.1" y="748.1" transform="rotate(-45 189.1 748.1)">Ctsb</text><text x="197.06" y="748.1" transform="rotate(-45 197.06 748.1)">Tyrobp</text><text x="205.02" y="748.1" transform="rotate(-45 205.02 748.1)">Trem2</text><text x="212.98" y="748.1" transform="rotate(-45 212.98 748.1)">H2-D1</text><text x="220.94" y="748.1" transform="rotate(-45 220.94 748.1)">Fth1</text><text x="228.9" y="748.1" transform="rotate(-45 228.9 748.1)">Lyz2</text><text x="236.86" y="748.1" transform="rotate(-45 236.86 748.1)">Cstb</text><text x="244.82" y="748.1" transform="rotate(-45 244.82 748.1)">Ctsd</text><text x="252.7" y="748.1" transform="rotate(-45 252.7 748.1)">Axl</text><text x="260.5" y="748.1" transform="rotate(-45 260.5 748.1)">Spp1</text><text x="268.3" y="748.1" transform="rotate(-45 268.3 748.1)">Ank</text><text x="276.1" y="748.1" transform="rotate(-45 276.1 748.1)">Csf1</text><text x="283.9" y="748.1" transform="rotate(-45 283.9 748.1)">Cst7</text><text x="291.7" y="748.1" transform="rotate(-45 291.7 748.1)">Cd9</text><text x="299.5" y="748.1" transform="rotate(-45 299.5 748.1)">Clec7a</text><text x="307.3" y="748.1" transform="rotate(-45 307.3 748.1)">Clec7a</text><text x="315.1" y="748.1" transform="rotate(-45 315.1 748.1)">Cd9</text><text x="322.9" y="748.1" transform="rotate(-45 322.9 748.1)">Itgax</text><text x="330.7" y="748.1" transform="rotate(-45 330.7 748.1)">Cd63</text><text x="338.5" y="748.1" transform="rotate(-45 338.5 748.1)">Cd68</text><text x="346.3" y="748.1" transform="rotate(-45 346.3 748.1)">Ctsl</text><text x="354.1" y="748.1" transform="rotate(-45 354.1 748.1)">Cd63</text><text x="361.9" y="748.1" transform="rotate(-45 361.9 748.1)">Lpl</text><text x="369.7" y="748.1" transform="rotate(-45 369.7 748.1)">Lgals3</text><text x="377.5" y="748.1" transform="rotate(-45 377.5 748.1)">Serpine2</text><text x="385.3" y="748.1" transform="rotate(-45 385.3 748.1)">Ctsz</text><text x="393.1" y="748.1" transform="rotate(-45 393.1 748.1)">Ccl6</text><text x="400.9" y="748.1" transform="rotate(-45 400.9 748.1)">Lilrb4</text></g>
<line x1="40.4" y1="757.12" x2="43.4" y2="757.12" stroke="#000" stroke-width="1.1"/>
<line x1="40.4" y1="769.18" x2="43.4" y2="769.18" stroke="#000" stroke-width="1.1"/>
<text x="39.8" y="759.23" font-size="5.7" text-anchor="end" font-weight="bold" fill="#000">Bulk</text>
<text x="39.8" y="771.28" font-size="5.6" text-anchor="end" font-weight="bold" fill="#000">TGF-β</text>
<defs><linearGradient id="hb1" x1="0" y1="0" x2="1" y2="0"><stop offset="0" stop-color="#1024ff"/><stop offset="0.42" stop-color="#ffffff"/><stop offset="1" stop-color="#ff2816"/></linearGradient></defs>
<rect x="41.7" y="781.8" width="110.9" height="7.2" fill="url(#hb1)" stroke="#222" stroke-width="0.8"/>
<line x1="60.64" y1="781.8" x2="60.64" y2="783.4" stroke="#111" stroke-width="0.8"/>
<line x1="60.64" y1="787.4" x2="60.64" y2="789" stroke="#111" stroke-width="0.8"/>
<text x="60.64" y="797.3" font-size="6" text-anchor="middle" font-weight="normal" fill="#111">-3</text>
<line x1="88.23" y1="781.8" x2="88.23" y2="783.4" stroke="#111" stroke-width="0.8"/>
<line x1="88.23" y1="787.4" x2="88.23" y2="789" stroke="#111" stroke-width="0.8"/>
<text x="88.23" y="797.3" font-size="6" text-anchor="middle" font-weight="normal" fill="#111">0</text>
<line x1="115.82" y1="781.8" x2="115.82" y2="783.4" stroke="#111" stroke-width="0.8"/>
<line x1="115.82" y1="787.4" x2="115.82" y2="789" stroke="#111" stroke-width="0.8"/>
<text x="115.82" y="797.3" font-size="6" text-anchor="middle" font-weight="normal" fill="#111">3</text>
<line x1="143.4" y1="781.8" x2="143.4" y2="783.4" stroke="#111" stroke-width="0.8"/>
<line x1="143.4" y1="787.4" x2="143.4" y2="789" stroke="#111" stroke-width="0.8"/>
<text x="143.4" y="797.3" font-size="6" text-anchor="middle" font-weight="normal" fill="#111">6</text>
<text x="156.7" y="787.2" font-size="6.2" text-anchor="start" font-weight="bold" fill="#000" textLength="76.5" lengthAdjust="spacingAndGlyphs">Scaled Log<tspan font-size="4.4" dy="1.6">2</tspan><tspan dy="-1.6">[Fold Change]</tspan></text>
<text x="509.5" y="709.2" font-size="15.8" text-anchor="start" font-weight="bold" fill="#000" textLength="205.8" lengthAdjust="spacingAndGlyphs">Astrocyte Activation Genes</text>
<text x="446.4" y="730.2" font-size="6.8" text-anchor="middle" font-weight="bold" fill="#000">Pan-activation</text>
<text x="552.8" y="730.2" font-size="6.8" text-anchor="middle" font-weight="bold" fill="#000">A1</text>
<text x="701.4" y="730.2" font-size="6.8" text-anchor="middle" font-weight="bold" fill="#000">A2</text>
<rect x="417.3" y="750.9" width="5.09" height="12.5" fill="#fcc0c0"/>
<rect x="417.3" y="763.1" width="5.09" height="12.2" fill="#f4f4fe"/>
<rect x="422.09" y="750.9" width="5.09" height="12.5" fill="#fbb8b8"/>
<rect x="422.09" y="763.1" width="5.09" height="12.2" fill="#e8eafc"/>
<rect x="426.88" y="750.9" width="5.09" height="12.5" fill="#fcc4c4"/>
<rect x="426.88" y="763.1" width="5.09" height="12.2" fill="#fde0e0"/>
<rect x="431.66" y="750.9" width="5.09" height="12.5" fill="#fcd0d0"/>
<rect x="431.66" y="763.1" width="5.09" height="12.2" fill="#f0f0fc"/>
<rect x="436.45" y="750.9" width="5.09" height="12.5" fill="#d8dcfa"/>
<rect x="436.45" y="763.1" width="5.09" height="12.2" fill="#a8b0f4"/>
<rect x="441.24" y="750.9" width="5.09" height="12.5" fill="#ff2a10"/>
<rect x="441.24" y="763.1" width="5.09" height="12.2" fill="#ecedfc"/>
<rect x="446.03" y="750.9" width="5.09" height="12.5" fill="#fef0f0"/>
<rect x="446.03" y="763.1" width="5.09" height="12.2" fill="#d8dcfa"/>
<rect x="450.82" y="750.9" width="5.09" height="12.5" fill="#fcc8c8"/>
<rect x="450.82" y="763.1" width="5.09" height="12.2" fill="#e8eafc"/>
<rect x="455.61" y="750.9" width="5.09" height="12.5" fill="#ff4434"/>
<rect x="455.61" y="763.1" width="5.09" height="12.2" fill="#fde8e8"/>
<rect x="460.39" y="750.9" width="5.09" height="12.5" fill="#ff6a60"/>
<rect x="460.39" y="763.1" width="5.09" height="12.2" fill="#e0e4fc"/>
<rect x="465.18" y="750.9" width="5.09" height="12.5" fill="#ff6a60"/>
<rect x="465.18" y="763.1" width="5.09" height="12.2" fill="#fde8e8"/>
<rect x="469.97" y="750.9" width="5.09" height="12.5" fill="#fcb0b0"/>
<rect x="469.97" y="763.1" width="5.09" height="12.2" fill="#b0b8f4"/>
<rect x="474.76" y="750.9" width="5.09" height="12.5" fill="#fb9090"/>
<rect x="474.76" y="763.1" width="5.09" height="12.2" fill="#d0d4f8"/>
<rect x="479.55" y="750.9" width="5.09" height="12.5" fill="#8890f0"/>
<rect x="479.55" y="763.1" width="5.09" height="12.2" fill="#e0e4fc"/>
<rect x="484.33" y="750.9" width="5.09" height="12.5" fill="#f8f8fe"/>
<rect x="484.33" y="763.1" width="5.09" height="12.2" fill="#f4f4fe"/>
<rect x="489.12" y="750.9" width="5.09" height="12.5" fill="#fcd4d4"/>
<rect x="489.12" y="763.1" width="5.09" height="12.2" fill="#fde8e8"/>
<rect x="493.91" y="750.9" width="5.09" height="12.5" fill="#fef4f4"/>
<rect x="493.91" y="763.1" width="5.09" height="12.2" fill="#1030e8"/>
<rect x="498.7" y="750.9" width="5.09" height="12.5" fill="#fa8080"/>
<rect x="498.7" y="763.1" width="5.09" height="12.2" fill="#d8dcfa"/>
<rect x="503.49" y="750.9" width="5.09" height="12.5" fill="#a8b0f4"/>
<rect x="503.49" y="763.1" width="5.09" height="12.2" fill="#eeeefc"/>
<rect x="508.28" y="750.9" width="5.09" height="12.5" fill="#fde4e4"/>
<rect x="508.28" y="763.1" width="5.09" height="12.2" fill="#fde8e8"/>
<rect x="513.06" y="750.9" width="5.09" height="12.5" fill="#eeeefc"/>
<rect x="513.06" y="763.1" width="5.09" height="12.2" fill="#fdeaea"/>
<rect x="517.85" y="750.9" width="5.09" height="12.5" fill="#fef0f0"/>
<rect x="517.85" y="763.1" width="5.09" height="12.2" fill="#b8bcf4"/>
<rect x="522.64" y="750.9" width="5.09" height="12.5" fill="#fde0e0"/>
<rect x="522.64" y="763.1" width="5.09" height="12.2" fill="#b0b8f4"/>
<rect x="527.43" y="750.9" width="5.09" height="12.5" fill="#f8f8fe"/>
<rect x="527.43" y="763.1" width="5.09" height="12.2" fill="#c0c4f6"/>
<rect x="532.22" y="750.9" width="5.09" height="12.5" fill="#fcd0d0"/>
<rect x="532.22" y="763.1" width="5.09" height="12.2" fill="#d0d4f8"/>
<rect x="537" y="750.9" width="5.09" height="12.5" fill="#fde8e8"/>
<rect x="537" y="763.1" width="5.09" height="12.2" fill="#d0d4f8"/>
<rect x="541.79" y="750.9" width="5.09" height="12.5" fill="#e4e6fc"/>
<rect x="541.79" y="763.1" width="5.09" height="12.2" fill="#c8ccf8"/>
<rect x="546.58" y="750.9" width="5.09" height="12.5" fill="#fde8e8"/>
<rect x="546.58" y="763.1" width="5.09" height="12.2" fill="#fafafe"/>
<rect x="551.37" y="750.9" width="5.09" height="12.5" fill="#fcd8d8"/>
<rect x="551.37" y="763.1" width="5.09" height="12.2" fill="#c8ccf8"/>
<rect x="556.16" y="750.9" width="5.09" height="12.5" fill="#fcd8d8"/>
<rect x="556.16" y="763.1" width="5.09" height="12.2" fill="#7880f0"/>
<rect x="560.94" y="750.9" width="5.09" height="12.5" fill="#eeeefc"/>
<rect x="560.94" y="763.1" width="5.09" height="12.2" fill="#a8b0f4"/>
<rect x="565.73" y="750.9" width="5.09" height="12.5" fill="#fef4f4"/>
<rect x="565.73" y="763.1" width="5.09" height="12.2" fill="#f4f4fe"/>
<rect x="570.52" y="750.9" width="5.09" height="12.5" fill="#fcdcdc"/>
<rect x="570.52" y="763.1" width="5.09" height="12.2" fill="#fdf0f0"/>
<rect x="575.31" y="750.9" width="5.09" height="12.5" fill="#fcdcdc"/>
<rect x="575.31" y="763.1" width="5.09" height="12.2" fill="#e8eafc"/>
<rect x="580.1" y="750.9" width="5.09" height="12.5" fill="#d0d4f8"/>
<rect x="580.1" y="763.1" width="5.09" height="12.2" fill="#f4f4fe"/>
<rect x="584.89" y="750.9" width="5.09" height="12.5" fill="#fef4f4"/>
<rect x="584.89" y="763.1" width="5.09" height="12.2" fill="#8890f0"/>
<rect x="589.67" y="750.9" width="5.09" height="12.5" fill="#fcd0d0"/>
<rect x="589.67" y="763.1" width="5.09" height="12.2" fill="#2040f0"/>
<rect x="594.46" y="750.9" width="5.09" height="12.5" fill="#eeeefc"/>
<rect x="594.46" y="763.1" width="5.09" height="12.2" fill="#e0e4fc"/>
<rect x="599.25" y="750.9" width="5.09" height="12.5" fill="#fde4e4"/>
<rect x="599.25" y="763.1" width="5.09" height="12.2" fill="#eeeefc"/>
<rect x="604.04" y="750.9" width="5.09" height="12.5" fill="#fef8f8"/>
<rect x="604.04" y="763.1" width="5.09" height="12.2" fill="#fafafe"/>
<rect x="608.83" y="750.9" width="5.09" height="12.5" fill="#fef8f8"/>
<rect x="608.83" y="763.1" width="5.09" height="12.2" fill="#fafafe"/>
<rect x="613.61" y="750.9" width="5.09" height="12.5" fill="#fcd0d0"/>
<rect x="613.61" y="763.1" width="5.09" height="12.2" fill="#fde4e4"/>
<rect x="618.4" y="750.9" width="5.09" height="12.5" fill="#fde8e8"/>
<rect x="618.4" y="763.1" width="5.09" height="12.2" fill="#e0e4fc"/>
<rect x="623.19" y="750.9" width="5.09" height="12.5" fill="#fcd4d4"/>
<rect x="623.19" y="763.1" width="5.09" height="12.2" fill="#a8b0f4"/>
<rect x="627.98" y="750.9" width="5.09" height="12.5" fill="#fde4e4"/>
<rect x="627.98" y="763.1" width="5.09" height="12.2" fill="#dcdffa"/>
<rect x="632.77" y="750.9" width="5.09" height="12.5" fill="#fbb0b0"/>
<rect x="632.77" y="763.1" width="5.09" height="12.2" fill="#d0d4f8"/>
<rect x="637.56" y="750.9" width="5.09" height="12.5" fill="#fef8f8"/>
<rect x="637.56" y="763.1" width="5.09" height="12.2" fill="#b8bcf4"/>
<rect x="642.34" y="750.9" width="5.09" height="12.5" fill="#fcd4d4"/>
<rect x="642.34" y="763.1" width="5.09" height="12.2" fill="#fefafa"/>
<rect x="647.13" y="750.9" width="5.09" height="12.5" fill="#fcd4d4"/>
<rect x="647.13" y="763.1" width="5.09" height="12.2" fill="#fef8f8"/>
<rect x="651.92" y="750.9" width="5.09" height="12.5" fill="#fba8a8"/>
<rect x="651.92" y="763.1" width="5.09" height="12.2" fill="#fef8f8"/>
<rect x="656.71" y="750.9" width="5.09" height="12.5" fill="#fde4e4"/>
<rect x="656.71" y="763.1" width="5.09" height="12.2" fill="#a8b0f4"/>
<rect x="661.5" y="750.9" width="5.09" height="12.5" fill="#fef0f0"/>
<rect x="661.5" y="763.1" width="5.09" height="12.2" fill="#c0c4f6"/>
<rect x="666.28" y="750.9" width="5.09" height="12.5" fill="#e8eafc"/>
<rect x="666.28" y="763.1" width="5.09" height="12.2" fill="#fde8e8"/>
<rect x="671.07" y="750.9" width="5.09" height="12.5" fill="#fb9c9c"/>
<rect x="671.07" y="763.1" width="5.09" height="12.2" fill="#a8b0f4"/>
<rect x="675.86" y="750.9" width="5.09" height="12.5" fill="#fbacac"/>
<rect x="675.86" y="763.1" width="5.09" height="12.2" fill="#a8b0f4"/>
<rect x="680.65" y="750.9" width="5.09" height="12.5" fill="#fef8f8"/>
<rect x="680.65" y="763.1" width="5.09" height="12.2" fill="#e8eafc"/>
<rect x="685.44" y="750.9" width="5.09" height="12.5" fill="#fde4e4"/>
<rect x="685.44" y="763.1" width="5.09" height="12.2" fill="#fde4e4"/>
<rect x="690.23" y="750.9" width="5.09" height="12.5" fill="#fef4f4"/>
<rect x="690.23" y="763.1" width="5.09" height="12.2" fill="#e8eafc"/>
<rect x="695.01" y="750.9" width="5.09" height="12.5" fill="#fba0a0"/>
<rect x="695.01" y="763.1" width="5.09" height="12.2" fill="#a0a8f0"/>
<rect x="699.8" y="750.9" width="5.09" height="12.5" fill="#fcc0c0"/>
<rect x="699.8" y="763.1" width="5.09" height="12.2" fill="#f0f0fc"/>
<rect x="704.59" y="750.9" width="5.09" height="12.5" fill="#fa8888"/>
<rect x="704.59" y="763.1" width="5.09" height="12.2" fill="#b8bcf4"/>
<rect x="709.38" y="750.9" width="5.09" height="12.5" fill="#d0d4f8"/>
<rect x="709.38" y="763.1" width="5.09" height="12.2" fill="#9098f0"/>
<rect x="714.17" y="750.9" width="5.09" height="12.5" fill="#fcd0d0"/>
<rect x="714.17" y="763.1" width="5.09" height="12.2" fill="#f4f4fe"/>
<rect x="718.95" y="750.9" width="5.09" height="12.5" fill="#fef4f4"/>
<rect x="718.95" y="763.1" width="5.09" height="12.2" fill="#e0e4fc"/>
<rect x="723.74" y="750.9" width="5.09" height="12.5" fill="#ff4434"/>
<rect x="723.74" y="763.1" width="5.09" height="12.2" fill="#9098f0"/>
<rect x="728.53" y="750.9" width="5.09" height="12.5" fill="#fa9090"/>
<rect x="728.53" y="763.1" width="5.09" height="12.2" fill="#9098f0"/>
<rect x="733.32" y="750.9" width="5.09" height="12.5" fill="#fa8888"/>
<rect x="733.32" y="763.1" width="5.09" height="12.2" fill="#d0d4f8"/>
<rect x="738.11" y="750.9" width="5.09" height="12.5" fill="#fcc8c8"/>
<rect x="738.11" y="763.1" width="5.09" height="12.2" fill="#f4f4fe"/>
<rect x="742.89" y="750.9" width="5.09" height="12.5" fill="#fcd0d0"/>
<rect x="742.89" y="763.1" width="5.09" height="12.2" fill="#e0e4fc"/>
<rect x="747.68" y="750.9" width="5.09" height="12.5" fill="#fba8a8"/>
<rect x="747.68" y="763.1" width="5.09" height="12.2" fill="#f8f8fe"/>
<rect x="752.47" y="750.9" width="5.09" height="12.5" fill="#fcc8c8"/>
<rect x="752.47" y="763.1" width="5.09" height="12.2" fill="#c0c4f6"/>
<rect x="757.26" y="750.9" width="5.09" height="12.5" fill="#ff6a60"/>
<rect x="757.26" y="763.1" width="5.09" height="12.2" fill="#fafafe"/>
<rect x="762.05" y="750.9" width="5.09" height="12.5" fill="#fef0f0"/>
<rect x="762.05" y="763.1" width="5.09" height="12.2" fill="#8890f0"/>
<rect x="766.84" y="750.9" width="5.09" height="12.5" fill="#fcc0c0"/>
<rect x="766.84" y="763.1" width="5.09" height="12.2" fill="#fafafe"/>
<rect x="771.62" y="750.9" width="5.09" height="12.5" fill="#fbb0b0"/>
<rect x="771.62" y="763.1" width="5.09" height="12.2" fill="#c8ccf8"/>
<rect x="776.41" y="750.9" width="5.09" height="12.5" fill="#d8dcfa"/>
<rect x="776.41" y="763.1" width="5.09" height="12.2" fill="#eeeefc"/>
<rect x="417.3" y="750.9" width="363.9" height="24.4" fill="none" stroke="#111" stroke-width="1.1"/>
<line x1="474.76" y1="750.9" x2="474.76" y2="775.3" stroke="#111" stroke-width="1.1"/>
<line x1="627.98" y1="750.9" x2="627.98" y2="775.3" stroke="#111" stroke-width="1.1"/>
<line x1="419.69" y1="748.5" x2="419.69" y2="750.9" stroke="#111" stroke-width="0.7"/>
<line x1="424.48" y1="748.5" x2="424.48" y2="750.9" stroke="#111" stroke-width="0.7"/>
<line x1="429.27" y1="748.5" x2="429.27" y2="750.9" stroke="#111" stroke-width="0.7"/>
<line x1="434.06" y1="748.5" x2="434.06" y2="750.9" stroke="#111" stroke-width="0.7"/>
<line x1="438.85" y1="748.5" x2="438.85" y2="750.9" stroke="#111" stroke-width="0.7"/>
<line x1="443.63" y1="748.5" x2="443.63" y2="750.9" stroke="#111" stroke-width="0.7"/>
<line x1="448.42" y1="748.5" x2="448.42" y2="750.9" stroke="#111" stroke-width="0.7"/>
<line x1="453.21" y1="748.5" x2="453.21" y2="750.9" stroke="#111" stroke-width="0.7"/>
<line x1="458" y1="748.5" x2="458" y2="750.9" stroke="#111" stroke-width="0.7"/>
<line x1="462.79" y1="748.5" x2="462.79" y2="750.9" stroke="#111" stroke-width="0.7"/>
<line x1="467.58" y1="748.5" x2="467.58" y2="750.9" stroke="#111" stroke-width="0.7"/>
<line x1="472.36" y1="748.5" x2="472.36" y2="750.9" stroke="#111" stroke-width="0.7"/>
<line x1="477.15" y1="748.5" x2="477.15" y2="750.9" stroke="#111" stroke-width="0.7"/>
<line x1="481.94" y1="748.5" x2="481.94" y2="750.9" stroke="#111" stroke-width="0.7"/>
<line x1="486.73" y1="748.5" x2="486.73" y2="750.9" stroke="#111" stroke-width="0.7"/>
<line x1="491.52" y1="748.5" x2="491.52" y2="750.9" stroke="#111" stroke-width="0.7"/>
<line x1="496.3" y1="748.5" x2="496.3" y2="750.9" stroke="#111" stroke-width="0.7"/>
<line x1="501.09" y1="748.5" x2="501.09" y2="750.9" stroke="#111" stroke-width="0.7"/>
<line x1="505.88" y1="748.5" x2="505.88" y2="750.9" stroke="#111" stroke-width="0.7"/>
<line x1="510.67" y1="748.5" x2="510.67" y2="750.9" stroke="#111" stroke-width="0.7"/>
<line x1="515.46" y1="748.5" x2="515.46" y2="750.9" stroke="#111" stroke-width="0.7"/>
<line x1="520.25" y1="748.5" x2="520.25" y2="750.9" stroke="#111" stroke-width="0.7"/>
<line x1="525.03" y1="748.5" x2="525.03" y2="750.9" stroke="#111" stroke-width="0.7"/>
<line x1="529.82" y1="748.5" x2="529.82" y2="750.9" stroke="#111" stroke-width="0.7"/>
<line x1="534.61" y1="748.5" x2="534.61" y2="750.9" stroke="#111" stroke-width="0.7"/>
<line x1="539.4" y1="748.5" x2="539.4" y2="750.9" stroke="#111" stroke-width="0.7"/>
<line x1="544.19" y1="748.5" x2="544.19" y2="750.9" stroke="#111" stroke-width="0.7"/>
<line x1="548.97" y1="748.5" x2="548.97" y2="750.9" stroke="#111" stroke-width="0.7"/>
<line x1="553.76" y1="748.5" x2="553.76" y2="750.9" stroke="#111" stroke-width="0.7"/>
<line x1="558.55" y1="748.5" x2="558.55" y2="750.9" stroke="#111" stroke-width="0.7"/>
<line x1="563.34" y1="748.5" x2="563.34" y2="750.9" stroke="#111" stroke-width="0.7"/>
<line x1="568.13" y1="748.5" x2="568.13" y2="750.9" stroke="#111" stroke-width="0.7"/>
<line x1="572.92" y1="748.5" x2="572.92" y2="750.9" stroke="#111" stroke-width="0.7"/>
<line x1="577.7" y1="748.5" x2="577.7" y2="750.9" stroke="#111" stroke-width="0.7"/>
<line x1="582.49" y1="748.5" x2="582.49" y2="750.9" stroke="#111" stroke-width="0.7"/>
<line x1="587.28" y1="748.5" x2="587.28" y2="750.9" stroke="#111" stroke-width="0.7"/>
<line x1="592.07" y1="748.5" x2="592.07" y2="750.9" stroke="#111" stroke-width="0.7"/>
<line x1="596.86" y1="748.5" x2="596.86" y2="750.9" stroke="#111" stroke-width="0.7"/>
<line x1="601.64" y1="748.5" x2="601.64" y2="750.9" stroke="#111" stroke-width="0.7"/>
<line x1="606.43" y1="748.5" x2="606.43" y2="750.9" stroke="#111" stroke-width="0.7"/>
<line x1="611.22" y1="748.5" x2="611.22" y2="750.9" stroke="#111" stroke-width="0.7"/>
<line x1="616.01" y1="748.5" x2="616.01" y2="750.9" stroke="#111" stroke-width="0.7"/>
<line x1="620.8" y1="748.5" x2="620.8" y2="750.9" stroke="#111" stroke-width="0.7"/>
<line x1="625.58" y1="748.5" x2="625.58" y2="750.9" stroke="#111" stroke-width="0.7"/>
<line x1="630.37" y1="748.5" x2="630.37" y2="750.9" stroke="#111" stroke-width="0.7"/>
<line x1="635.16" y1="748.5" x2="635.16" y2="750.9" stroke="#111" stroke-width="0.7"/>
<line x1="639.95" y1="748.5" x2="639.95" y2="750.9" stroke="#111" stroke-width="0.7"/>
<line x1="644.74" y1="748.5" x2="644.74" y2="750.9" stroke="#111" stroke-width="0.7"/>
<line x1="649.53" y1="748.5" x2="649.53" y2="750.9" stroke="#111" stroke-width="0.7"/>
<line x1="654.31" y1="748.5" x2="654.31" y2="750.9" stroke="#111" stroke-width="0.7"/>
<line x1="659.1" y1="748.5" x2="659.1" y2="750.9" stroke="#111" stroke-width="0.7"/>
<line x1="663.89" y1="748.5" x2="663.89" y2="750.9" stroke="#111" stroke-width="0.7"/>
<line x1="668.68" y1="748.5" x2="668.68" y2="750.9" stroke="#111" stroke-width="0.7"/>
<line x1="673.47" y1="748.5" x2="673.47" y2="750.9" stroke="#111" stroke-width="0.7"/>
<line x1="678.25" y1="748.5" x2="678.25" y2="750.9" stroke="#111" stroke-width="0.7"/>
<line x1="683.04" y1="748.5" x2="683.04" y2="750.9" stroke="#111" stroke-width="0.7"/>
<line x1="687.83" y1="748.5" x2="687.83" y2="750.9" stroke="#111" stroke-width="0.7"/>
<line x1="692.62" y1="748.5" x2="692.62" y2="750.9" stroke="#111" stroke-width="0.7"/>
<line x1="697.41" y1="748.5" x2="697.41" y2="750.9" stroke="#111" stroke-width="0.7"/>
<line x1="702.2" y1="748.5" x2="702.2" y2="750.9" stroke="#111" stroke-width="0.7"/>
<line x1="706.98" y1="748.5" x2="706.98" y2="750.9" stroke="#111" stroke-width="0.7"/>
<line x1="711.77" y1="748.5" x2="711.77" y2="750.9" stroke="#111" stroke-width="0.7"/>
<line x1="716.56" y1="748.5" x2="716.56" y2="750.9" stroke="#111" stroke-width="0.7"/>
<line x1="721.35" y1="748.5" x2="721.35" y2="750.9" stroke="#111" stroke-width="0.7"/>
<line x1="726.14" y1="748.5" x2="726.14" y2="750.9" stroke="#111" stroke-width="0.7"/>
<line x1="730.92" y1="748.5" x2="730.92" y2="750.9" stroke="#111" stroke-width="0.7"/>
<line x1="735.71" y1="748.5" x2="735.71" y2="750.9" stroke="#111" stroke-width="0.7"/>
<line x1="740.5" y1="748.5" x2="740.5" y2="750.9" stroke="#111" stroke-width="0.7"/>
<line x1="745.29" y1="748.5" x2="745.29" y2="750.9" stroke="#111" stroke-width="0.7"/>
<line x1="750.08" y1="748.5" x2="750.08" y2="750.9" stroke="#111" stroke-width="0.7"/>
<line x1="754.87" y1="748.5" x2="754.87" y2="750.9" stroke="#111" stroke-width="0.7"/>
<line x1="759.65" y1="748.5" x2="759.65" y2="750.9" stroke="#111" stroke-width="0.7"/>
<line x1="764.44" y1="748.5" x2="764.44" y2="750.9" stroke="#111" stroke-width="0.7"/>
<line x1="769.23" y1="748.5" x2="769.23" y2="750.9" stroke="#111" stroke-width="0.7"/>
<line x1="774.02" y1="748.5" x2="774.02" y2="750.9" stroke="#111" stroke-width="0.7"/>
<line x1="778.81" y1="748.5" x2="778.81" y2="750.9" stroke="#111" stroke-width="0.7"/>
<g class="g2" font-size="4.4" font-weight="bold" fill="#000"><text x="419.09" y="747.9" transform="rotate(-45 419.09 747.9)">Htr11</text><text x="423.88" y="747.9" transform="rotate(-45 423.88 747.9)">Timpc</text><text x="428.67" y="747.9" transform="rotate(-45 428.67 747.9)">Casp11</text><text x="433.46" y="747.9" transform="rotate(-45 433.46 747.9)">Tlrra</text><text x="438.25" y="747.9" transform="rotate(-45 438.25 747.9)">Gpr11</text><text x="443.03" y="747.9" transform="rotate(-45 443.03 747.9)">C1qn</text><text x="447.82" y="747.9" transform="rotate(-45 447.82 747.9)">Tlr2</text><text x="452.61" y="747.9" transform="rotate(-45 452.61 747.9)">Chr1</text><text x="457.4" y="747.9" transform="rotate(-45 457.4 747.9)">Tlrr1</text><text x="462.19" y="747.9" transform="rotate(-45 462.19 747.9)">Tlra1</text><text x="466.98" y="747.9" transform="rotate(-45 466.98 747.9)">Apo1</text><text x="471.76" y="747.9" transform="rotate(-45 471.76 747.9)">Apon</text><text x="476.55" y="747.9" transform="rotate(-45 476.55 747.9)">Ptxa1</text><text x="481.34" y="747.9" transform="rotate(-45 481.34 747.9)">C1qra</text><text x="486.13" y="747.9" transform="rotate(-45 486.13 747.9)">Gprc</text><text x="490.92" y="747.9" transform="rotate(-45 490.92 747.9)">Tmem2</text><text x="495.7" y="747.9" transform="rotate(-45 495.7 747.9)">Cx3n</text><text x="500.49" y="747.9" transform="rotate(-45 500.49 747.9)">Serpb2</text><text x="505.28" y="747.9" transform="rotate(-45 505.28 747.9)">Salll3</text><text x="510.07" y="747.9" transform="rotate(-45 510.07 747.9)">Lgala1</text><text x="514.86" y="747.9" transform="rotate(-45 514.86 747.9)">Cclc</text><text x="519.65" y="747.9" transform="rotate(-45 519.65 747.9)">Caspb</text><text x="524.43" y="747.9" transform="rotate(-45 524.43 747.9)">Tmemc</text><text x="529.22" y="747.9" transform="rotate(-45 529.22 747.9)">S1001</text><text x="534.01" y="747.9" transform="rotate(-45 534.01 747.9)">Drdra</text><text x="538.8" y="747.9" transform="rotate(-45 538.8 747.9)">Lgal7a</text><text x="543.59" y="747.9" transform="rotate(-45 543.59 747.9)">Gbpa1</text><text x="548.37" y="747.9" transform="rotate(-45 548.37 747.9)">Empn</text><text x="553.16" y="747.9" transform="rotate(-45 553.16 747.9)">Sall11</text><text x="557.95" y="747.9" transform="rotate(-45 557.95 747.9)">Nlrr1</text><text x="562.74" y="747.9" transform="rotate(-45 562.74 747.9)">Fcr11</text><text x="567.53" y="747.9" transform="rotate(-45 567.53 747.9)">Chr3</text><text x="572.32" y="747.9" transform="rotate(-45 572.32 747.9)">Cx3n</text><text x="577.1" y="747.9" transform="rotate(-45 577.1 747.9)">Serp11</text><text x="581.89" y="747.9" transform="rotate(-45 581.89 747.9)">Ctsl3</text><text x="586.68" y="747.9" transform="rotate(-45 586.68 747.9)">Psmr1</text><text x="591.47" y="747.9" transform="rotate(-45 591.47 747.9)">Cdl3</text><text x="596.26" y="747.9" transform="rotate(-45 596.26 747.9)">Gabra</text><text x="601.04" y="747.9" transform="rotate(-45 601.04 747.9)">Serp2</text><text x="605.83" y="747.9" transform="rotate(-45 605.83 747.9)">Cstb</text><text x="610.62" y="747.9" transform="rotate(-45 610.62 747.9)">Tlrn</text><text x="615.41" y="747.9" transform="rotate(-45 615.41 747.9)">Tlrb</text><text x="620.2" y="747.9" transform="rotate(-45 620.2 747.9)">Nlr7a</text><text x="624.98" y="747.9" transform="rotate(-45 624.98 747.9)">Gpra1</text><text x="629.77" y="747.9" transform="rotate(-45 629.77 747.9)">Apoa</text><text x="634.56" y="747.9" transform="rotate(-45 634.56 747.9)">H2-a1</text><text x="639.35" y="747.9" transform="rotate(-45 639.35 747.9)">Fcrn</text><text x="644.14" y="747.9" transform="rotate(-45 644.14 747.9)">Csta</text><text x="648.93" y="747.9" transform="rotate(-45 648.93 747.9)">Tmema1</text><text x="653.71" y="747.9" transform="rotate(-45 653.71 747.9)">Il1r1</text><text x="658.5" y="747.9" transform="rotate(-45 658.5 747.9)">Serpr1</text><text x="663.29" y="747.9" transform="rotate(-45 663.29 747.9)">Htra</text><text x="668.08" y="747.9" transform="rotate(-45 668.08 747.9)">Gbpa</text><text x="672.87" y="747.9" transform="rotate(-45 672.87 747.9)">Gprb</text><text x="677.65" y="747.9" transform="rotate(-45 677.65 747.9)">Timpa</text><text x="682.44" y="747.9" transform="rotate(-45 682.44 747.9)">Grma1</text><text x="687.23" y="747.9" transform="rotate(-45 687.23 747.9)">H2-11</text><text x="692.02" y="747.9" transform="rotate(-45 692.02 747.9)">Drdc</text><text x="696.81" y="747.9" transform="rotate(-45 696.81 747.9)">Tmemn</text><text x="701.6" y="747.9" transform="rotate(-45 701.6 747.9)">Il13</text><text x="706.38" y="747.9" transform="rotate(-45 706.38 747.9)">Caspc</text><text x="711.17" y="747.9" transform="rotate(-45 711.17 747.9)">Salla1</text><text x="715.96" y="747.9" transform="rotate(-45 715.96 747.9)">Cxcln</text><text x="720.75" y="747.9" transform="rotate(-45 720.75 747.9)">Ptxa1</text><text x="725.54" y="747.9" transform="rotate(-45 725.54 747.9)">Cd11</text><text x="730.32" y="747.9" transform="rotate(-45 730.32 747.9)">Emp2</text><text x="735.11" y="747.9" transform="rotate(-45 735.11 747.9)">Lgalra</text><text x="739.9" y="747.9" transform="rotate(-45 739.9 747.9)">Htr2</text><text x="744.69" y="747.9" transform="rotate(-45 744.69 747.9)">Lgal2</text><text x="749.48" y="747.9" transform="rotate(-45 749.48 747.9)">Ptx2</text><text x="754.27" y="747.9" transform="rotate(-45 754.27 747.9)">Il1a</text><text x="759.05" y="747.9" transform="rotate(-45 759.05 747.9)">Fcr11</text><text x="763.84" y="747.9" transform="rotate(-45 763.84 747.9)">Psma</text><text x="768.63" y="747.9" transform="rotate(-45 768.63 747.9)">Sall11</text><text x="773.42" y="747.9" transform="rotate(-45 773.42 747.9)">Lpla</text><text x="778.21" y="747.9" transform="rotate(-45 778.21 747.9)">Il1b2</text></g>
<defs><linearGradient id="hb2" x1="0" y1="0" x2="1" y2="0"><stop offset="0" stop-color="#1024ff"/><stop offset="0.42" stop-color="#ffffff"/><stop offset="1" stop-color="#ff2816"/></linearGradient></defs>
<rect x="416.8" y="782.2" width="114.2" height="7.6" fill="url(#hb2)" stroke="#222" stroke-width="0.8"/>
<line x1="434.24" y1="782.2" x2="434.24" y2="783.8" stroke="#111" stroke-width="0.8"/>
<line x1="434.24" y1="788.2" x2="434.24" y2="789.8" stroke="#111" stroke-width="0.8"/>
<text x="434.24" y="797.6" font-size="6" text-anchor="middle" font-weight="normal" fill="#111">-3</text>
<line x1="464.48" y1="782.2" x2="464.48" y2="783.8" stroke="#111" stroke-width="0.8"/>
<line x1="464.48" y1="788.2" x2="464.48" y2="789.8" stroke="#111" stroke-width="0.8"/>
<text x="464.48" y="797.6" font-size="6" text-anchor="middle" font-weight="normal" fill="#111">0</text>
<line x1="494.71" y1="782.2" x2="494.71" y2="783.8" stroke="#111" stroke-width="0.8"/>
<line x1="494.71" y1="788.2" x2="494.71" y2="789.8" stroke="#111" stroke-width="0.8"/>
<text x="494.71" y="797.6" font-size="6" text-anchor="middle" font-weight="normal" fill="#111">3</text>
<line x1="524.95" y1="782.2" x2="524.95" y2="783.8" stroke="#111" stroke-width="0.8"/>
<line x1="524.95" y1="788.2" x2="524.95" y2="789.8" stroke="#111" stroke-width="0.8"/>
<text x="524.95" y="797.6" font-size="6" text-anchor="middle" font-weight="normal" fill="#111">6</text>
<text x="535.3" y="787.6" font-size="6.2" text-anchor="start" font-weight="bold" fill="#000" textLength="76.5" lengthAdjust="spacingAndGlyphs">Scaled Log<tspan font-size="4.4" dy="1.6">2</tspan><tspan dy="-1.6">[Fold Change]</tspan></text>
<text x="83.7" y="824.9" font-size="15.8" text-anchor="start" font-weight="bold" fill="#000" textLength="285" lengthAdjust="spacingAndGlyphs">Inflammatory Disease Process Genes</text>
<text x="150" y="842.4" font-size="6.8" text-anchor="middle" font-weight="bold" fill="#000">Complement</text>
<text x="333.5" y="842.4" font-size="6.8" text-anchor="middle" font-weight="bold" fill="#000">Inflammasome</text>
<rect x="43.5" y="862.9" width="11.61" height="12.25" fill="#fafafe"/>
<rect x="43.5" y="874.85" width="11.61" height="11.95" fill="#c8ccf8"/>
<rect x="54.81" y="862.9" width="11.61" height="12.25" fill="#eeeefc"/>
<rect x="54.81" y="874.85" width="11.61" height="11.95" fill="#c8ccf8"/>
<rect x="66.11" y="862.9" width="11.61" height="12.25" fill="#f6f6fe"/>
<rect x="66.11" y="874.85" width="11.61" height="11.95" fill="#d0d4f8"/>
<rect x="77.42" y="862.9" width="11.61" height="12.25" fill="#fcc8c8"/>
<rect x="77.42" y="874.85" width="11.61" height="11.95" fill="#d0d4f8"/>
<rect x="88.72" y="862.9" width="11.61" height="12.25" fill="#fcd0d0"/>
<rect x="88.72" y="874.85" width="11.61" height="11.95" fill="#6878f0"/>
<rect x="100.03" y="862.9" width="11.61" height="12.25" fill="#e8eafc"/>
<rect x="100.03" y="874.85" width="11.61" height="11.95" fill="#e0e4fc"/>
<rect x="111.33" y="862.9" width="11.61" height="12.25" fill="#fcd0d0"/>
<rect x="111.33" y="874.85" width="11.61" height="11.95" fill="#ffffff"/>
<rect x="122.64" y="862.9" width="11.61" height="12.25" fill="#e8eafc"/>
<rect x="122.64" y="874.85" width="11.61" height="11.95" fill="#7080f0"/>
<rect x="133.94" y="862.9" width="11.61" height="12.25" fill="#fde8e8"/>
<rect x="133.94" y="874.85" width="11.61" height="11.95" fill="#4858f0"/>
<rect x="145.25" y="862.9" width="11.61" height="12.25" fill="#fcd4d4"/>
<rect x="145.25" y="874.85" width="11.61" height="11.95" fill="#e0e4fc"/>
<rect x="156.55" y="862.9" width="11.61" height="12.25" fill="#fde4e4"/>
<rect x="156.55" y="874.85" width="11.61" height="11.95" fill="#d0d4f8"/>
<rect x="167.86" y="862.9" width="11.61" height="12.25" fill="#f42a1a"/>
<rect x="167.86" y="874.85" width="11.61" height="11.95" fill="#e0e4fc"/>
<rect x="179.16" y="862.9" width="11.61" height="12.25" fill="#e4e6fc"/>
<rect x="179.16" y="874.85" width="11.61" height="11.95" fill="#fcc4c4"/>
<rect x="190.47" y="862.9" width="11.61" height="12.25" fill="#c0c4f6"/>
<rect x="190.47" y="874.85" width="11.61" height="11.95" fill="#ffffff"/>
<rect x="201.77" y="862.9" width="11.61" height="12.25" fill="#a8b0f4"/>
<rect x="201.77" y="874.85" width="11.61" height="11.95" fill="#1030f0"/>
<rect x="213.08" y="862.9" width="11.61" height="12.25" fill="#fbc4c4"/>
<rect x="213.08" y="874.85" width="11.61" height="11.95" fill="#b8bef4"/>
<rect x="224.38" y="862.9" width="11.61" height="12.25" fill="#e0e4fc"/>
<rect x="224.38" y="874.85" width="11.61" height="11.95" fill="#c0c4f6"/>
<rect x="235.69" y="862.9" width="11.61" height="12.25" fill="#fde4e4"/>
<rect x="235.69" y="874.85" width="11.61" height="11.95" fill="#d0d4f8"/>
<rect x="246.99" y="862.9" width="11.61" height="12.25" fill="#fcc8c8"/>
<rect x="246.99" y="874.85" width="11.61" height="11.95" fill="#a0a8f0"/>
<rect x="258.3" y="862.9" width="11.64" height="12.25" fill="#fde8e8"/>
<rect x="258.3" y="874.85" width="11.64" height="11.95" fill="#d0d4f8"/>
<rect x="269.64" y="862.9" width="11.64" height="12.25" fill="#fcd8d8"/>
<rect x="269.64" y="874.85" width="11.64" height="11.95" fill="#f8f8fe"/>
<rect x="280.98" y="862.9" width="11.64" height="12.25" fill="#fde4e4"/>
<rect x="280.98" y="874.85" width="11.64" height="11.95" fill="#c8ccf8"/>
<rect x="292.32" y="862.9" width="11.64" height="12.25" fill="#f42a1a"/>
<rect x="292.32" y="874.85" width="11.64" height="11.95" fill="#8890f0"/>
<rect x="303.65" y="862.9" width="11.64" height="12.25" fill="#c0c4f6"/>
<rect x="303.65" y="874.85" width="11.64" height="11.95" fill="#d8dcfa"/>
<rect x="314.99" y="862.9" width="11.64" height="12.25" fill="#fef8fe"/>
<rect x="314.99" y="874.85" width="11.64" height="11.95" fill="#7880f0"/>
<rect x="326.33" y="862.9" width="11.64" height="12.25" fill="#fdeeee"/>
<rect x="326.33" y="874.85" width="11.64" height="11.95" fill="#ececfc"/>
<rect x="337.67" y="862.9" width="11.64" height="12.25" fill="#f9b0b0"/>
<rect x="337.67" y="874.85" width="11.64" height="11.95" fill="#d0d4f8"/>
<rect x="349.01" y="862.9" width="11.64" height="12.25" fill="#fcdcdc"/>
<rect x="349.01" y="874.85" width="11.64" height="11.95" fill="#c8ccf8"/>
<rect x="360.35" y="862.9" width="11.64" height="12.25" fill="#b0b8f4"/>
<rect x="360.35" y="874.85" width="11.64" height="11.95" fill="#d8dcfa"/>
<rect x="371.68" y="862.9" width="11.64" height="12.25" fill="#6070f0"/>
<rect x="371.68" y="874.85" width="11.64" height="11.95" fill="#fcd4d4"/>
<rect x="383.02" y="862.9" width="11.64" height="12.25" fill="#e0e4fc"/>
<rect x="383.02" y="874.85" width="11.64" height="11.95" fill="#fef0f0"/>
<rect x="394.36" y="862.9" width="11.64" height="12.25" fill="#fcdada"/>
<rect x="394.36" y="874.85" width="11.64" height="11.95" fill="#fde8e8"/>
<rect x="43.5" y="862.9" width="362.2" height="23.9" fill="none" stroke="#111" stroke-width="1.1"/>
<line x1="258.3" y1="862.9" x2="258.3" y2="886.8" stroke="#111" stroke-width="1.1"/>
<line x1="49.15" y1="860.5" x2="49.15" y2="862.9" stroke="#111" stroke-width="0.7"/>
<line x1="60.46" y1="860.5" x2="60.46" y2="862.9" stroke="#111" stroke-width="0.7"/>
<line x1="71.76" y1="860.5" x2="71.76" y2="862.9" stroke="#111" stroke-width="0.7"/>
<line x1="83.07" y1="860.5" x2="83.07" y2="862.9" stroke="#111" stroke-width="0.7"/>
<line x1="94.37" y1="860.5" x2="94.37" y2="862.9" stroke="#111" stroke-width="0.7"/>
<line x1="105.68" y1="860.5" x2="105.68" y2="862.9" stroke="#111" stroke-width="0.7"/>
<line x1="116.98" y1="860.5" x2="116.98" y2="862.9" stroke="#111" stroke-width="0.7"/>
<line x1="128.29" y1="860.5" x2="128.29" y2="862.9" stroke="#111" stroke-width="0.7"/>
<line x1="139.59" y1="860.5" x2="139.59" y2="862.9" stroke="#111" stroke-width="0.7"/>
<line x1="150.9" y1="860.5" x2="150.9" y2="862.9" stroke="#111" stroke-width="0.7"/>
<line x1="162.21" y1="860.5" x2="162.21" y2="862.9" stroke="#111" stroke-width="0.7"/>
<line x1="173.51" y1="860.5" x2="173.51" y2="862.9" stroke="#111" stroke-width="0.7"/>
<line x1="184.82" y1="860.5" x2="184.82" y2="862.9" stroke="#111" stroke-width="0.7"/>
<line x1="196.12" y1="860.5" x2="196.12" y2="862.9" stroke="#111" stroke-width="0.7"/>
<line x1="207.43" y1="860.5" x2="207.43" y2="862.9" stroke="#111" stroke-width="0.7"/>
<line x1="218.73" y1="860.5" x2="218.73" y2="862.9" stroke="#111" stroke-width="0.7"/>
<line x1="230.04" y1="860.5" x2="230.04" y2="862.9" stroke="#111" stroke-width="0.7"/>
<line x1="241.34" y1="860.5" x2="241.34" y2="862.9" stroke="#111" stroke-width="0.7"/>
<line x1="252.65" y1="860.5" x2="252.65" y2="862.9" stroke="#111" stroke-width="0.7"/>
<line x1="263.97" y1="860.5" x2="263.97" y2="862.9" stroke="#111" stroke-width="0.7"/>
<line x1="275.31" y1="860.5" x2="275.31" y2="862.9" stroke="#111" stroke-width="0.7"/>
<line x1="286.65" y1="860.5" x2="286.65" y2="862.9" stroke="#111" stroke-width="0.7"/>
<line x1="297.98" y1="860.5" x2="297.98" y2="862.9" stroke="#111" stroke-width="0.7"/>
<line x1="309.32" y1="860.5" x2="309.32" y2="862.9" stroke="#111" stroke-width="0.7"/>
<line x1="320.66" y1="860.5" x2="320.66" y2="862.9" stroke="#111" stroke-width="0.7"/>
<line x1="332" y1="860.5" x2="332" y2="862.9" stroke="#111" stroke-width="0.7"/>
<line x1="343.34" y1="860.5" x2="343.34" y2="862.9" stroke="#111" stroke-width="0.7"/>
<line x1="354.68" y1="860.5" x2="354.68" y2="862.9" stroke="#111" stroke-width="0.7"/>
<line x1="366.02" y1="860.5" x2="366.02" y2="862.9" stroke="#111" stroke-width="0.7"/>
<line x1="377.35" y1="860.5" x2="377.35" y2="862.9" stroke="#111" stroke-width="0.7"/>
<line x1="388.69" y1="860.5" x2="388.69" y2="862.9" stroke="#111" stroke-width="0.7"/>
<line x1="400.03" y1="860.5" x2="400.03" y2="862.9" stroke="#111" stroke-width="0.7"/>
<g class="g" font-size="3.9" font-weight="bold" fill="#000"><text x="48.55" y="859.9" transform="rotate(-45 48.55 859.9)">C1qa</text><text x="59.86" y="859.9" transform="rotate(-45 59.86 859.9)">C1qb</text><text x="71.16" y="859.9" transform="rotate(-45 71.16 859.9)">C1qc</text><text x="82.47" y="859.9" transform="rotate(-45 82.47 859.9)">C1ra</text><text x="93.77" y="859.9" transform="rotate(-45 93.77 859.9)">Serping1</text><text x="105.08" y="859.9" transform="rotate(-45 105.08 859.9)">C2</text><text x="116.38" y="859.9" transform="rotate(-45 116.38 859.9)">C4a</text><text x="127.69" y="859.9" transform="rotate(-45 127.69 859.9)">Cfh</text><text x="138.99" y="859.9" transform="rotate(-45 138.99 859.9)">Cfb</text><text x="150.3" y="859.9" transform="rotate(-45 150.3 859.9)">Pla2g2</text><text x="161.61" y="859.9" transform="rotate(-45 161.61 859.9)">Masp1</text><text x="172.91" y="859.9" transform="rotate(-45 172.91 859.9)">C3</text><text x="184.22" y="859.9" transform="rotate(-45 184.22 859.9)">Hc</text><text x="195.52" y="859.9" transform="rotate(-45 195.52 859.9)">Cfd</text><text x="206.83" y="859.9" transform="rotate(-45 206.83 859.9)">Vtn</text><text x="218.13" y="859.9" transform="rotate(-45 218.13 859.9)">C3ar1</text><text x="229.44" y="859.9" transform="rotate(-45 229.44 859.9)">Nlrp</text><text x="240.74" y="859.9" transform="rotate(-45 240.74 859.9)">Ager</text><text x="252.05" y="859.9" transform="rotate(-45 252.05 859.9)">C5ar1</text><text x="263.37" y="859.9" transform="rotate(-45 263.37 859.9)">Tlr4</text><text x="274.71" y="859.9" transform="rotate(-45 274.71 859.9)">Tnfrsf1a</text><text x="286.05" y="859.9" transform="rotate(-45 286.05 859.9)">Tnfrsf1b</text><text x="297.38" y="859.9" transform="rotate(-45 297.38 859.9)">Cd36</text><text x="308.72" y="859.9" transform="rotate(-45 308.72 859.9)">Nlrp3</text><text x="320.06" y="859.9" transform="rotate(-45 320.06 859.9)">Pycard</text><text x="331.4" y="859.9" transform="rotate(-45 331.4 859.9)">Naip2</text><text x="342.74" y="859.9" transform="rotate(-45 342.74 859.9)">Casp1</text><text x="354.08" y="859.9" transform="rotate(-45 354.08 859.9)">Casp4</text><text x="365.42" y="859.9" transform="rotate(-45 365.42 859.9)">Il1a</text><text x="376.75" y="859.9" transform="rotate(-45 376.75 859.9)">Il1b</text><text x="388.09" y="859.9" transform="rotate(-45 388.09 859.9)">Il18</text><text x="399.43" y="859.9" transform="rotate(-45 399.43 859.9)">Il33</text></g>
<line x1="40.5" y1="868.88" x2="43.5" y2="868.88" stroke="#000" stroke-width="1.1"/>
<line x1="40.5" y1="880.82" x2="43.5" y2="880.82" stroke="#000" stroke-width="1.1"/>
<text x="39.9" y="870.98" font-size="5.7" text-anchor="end" font-weight="bold" fill="#000">Bulk</text>
<text x="39.9" y="882.92" font-size="5.6" text-anchor="end" font-weight="bold" fill="#000">TGF-β</text>
<defs><linearGradient id="hb3" x1="0" y1="0" x2="1" y2="0"><stop offset="0" stop-color="#1024ff"/><stop offset="0.54" stop-color="#ffffff"/><stop offset="1" stop-color="#ff2816"/></linearGradient></defs>
<rect x="43.3" y="894.6" width="113" height="6.5" fill="url(#hb3)" stroke="#222" stroke-width="0.8"/>
<line x1="58.08" y1="894.6" x2="58.08" y2="896.2" stroke="#111" stroke-width="0.8"/>
<line x1="58.08" y1="899.5" x2="58.08" y2="901.1" stroke="#111" stroke-width="0.8"/>
<text x="58.08" y="909" font-size="6" text-anchor="middle" font-weight="normal" fill="#111">-5</text>
<line x1="104.28" y1="894.6" x2="104.28" y2="896.2" stroke="#111" stroke-width="0.8"/>
<line x1="104.28" y1="899.5" x2="104.28" y2="901.1" stroke="#111" stroke-width="0.8"/>
<text x="104.28" y="909" font-size="6" text-anchor="middle" font-weight="normal" fill="#111">0</text>
<line x1="150.48" y1="894.6" x2="150.48" y2="896.2" stroke="#111" stroke-width="0.8"/>
<line x1="150.48" y1="899.5" x2="150.48" y2="901.1" stroke="#111" stroke-width="0.8"/>
<text x="150.48" y="909" font-size="6" text-anchor="middle" font-weight="normal" fill="#111">5</text>
<text x="161.4" y="899.8" font-size="6.2" text-anchor="start" font-weight="bold" fill="#000" textLength="76.5" lengthAdjust="spacingAndGlyphs">Scaled Log<tspan font-size="4.4" dy="1.6">2</tspan><tspan dy="-1.6">[Fold Change]</tspan></text>
<text x="476" y="824.9" font-size="15.8" text-anchor="start" font-weight="bold" fill="#000" textLength="253" lengthAdjust="spacingAndGlyphs">Neurotransmitter Receptor Genes</text>
<text x="441.5" y="842.6" font-size="6.8" text-anchor="middle" font-weight="bold" fill="#000">ACh</text>
<text x="475.4" y="842.6" font-size="6.8" text-anchor="middle" font-weight="bold" fill="#000">DA</text>
<text x="522.7" y="842.6" font-size="6.8" text-anchor="middle" font-weight="bold" fill="#000">GABA</text>
<text x="642.9" y="842.6" font-size="6.8" text-anchor="middle" font-weight="bold" fill="#000">GLU</text>
<text x="752.9" y="842.6" font-size="6.8" text-anchor="middle" font-weight="bold" fill="#000">5-HT</text>
<rect x="417.2" y="862.9" width="7.3" height="12.5" fill="#4058f0"/>
<rect x="417.2" y="875.1" width="7.3" height="12.2" fill="#fef6f6"/>
<rect x="424.2" y="862.9" width="7.3" height="12.5" fill="#e0e4fc"/>
<rect x="424.2" y="875.1" width="7.3" height="12.2" fill="#fcc8c8"/>
<rect x="431.2" y="862.9" width="7.3" height="12.5" fill="#8088f0"/>
<rect x="431.2" y="875.1" width="7.3" height="12.2" fill="#fdeaea"/>
<rect x="438.2" y="862.9" width="7.3" height="12.5" fill="#c8ccf8"/>
<rect x="438.2" y="875.1" width="7.3" height="12.2" fill="#e0e4fc"/>
<rect x="445.2" y="862.9" width="7.3" height="12.5" fill="#fef8f8"/>
<rect x="445.2" y="875.1" width="7.3" height="12.2" fill="#fcd8d8"/>
<rect x="452.2" y="862.9" width="7.3" height="12.5" fill="#fefafa"/>
<rect x="452.2" y="875.1" width="7.3" height="12.2" fill="#fcdcdc"/>
<rect x="459.2" y="862.9" width="7.3" height="12.5" fill="#e4e6fc"/>
<rect x="459.2" y="875.1" width="7.3" height="12.2" fill="#fefafa"/>
<rect x="466.2" y="862.9" width="7.3" height="12.5" fill="#5868f4"/>
<rect x="466.2" y="875.1" width="7.3" height="12.2" fill="#fde4e4"/>
<rect x="473.2" y="862.9" width="7.3" height="12.5" fill="#5868f4"/>
<rect x="473.2" y="875.1" width="7.3" height="12.2" fill="#fbb0b0"/>
<rect x="480.2" y="862.9" width="7.3" height="12.5" fill="#3048f0"/>
<rect x="480.2" y="875.1" width="7.3" height="12.2" fill="#fcc0c0"/>
<rect x="487.2" y="862.9" width="7.3" height="12.5" fill="#b0b8f4"/>
<rect x="487.2" y="875.1" width="7.3" height="12.2" fill="#fdeaea"/>
<rect x="494.2" y="862.9" width="7.3" height="12.5" fill="#b0b8f4"/>
<rect x="494.2" y="875.1" width="7.3" height="12.2" fill="#fdeaea"/>
<rect x="501.2" y="862.9" width="7.3" height="12.5" fill="#9098f0"/>
<rect x="501.2" y="875.1" width="7.3" height="12.2" fill="#e0e4fc"/>
<rect x="508.2" y="862.9" width="7.3" height="12.5" fill="#e0e4fc"/>
<rect x="508.2" y="875.1" width="7.3" height="12.2" fill="#f99090"/>
<rect x="515.2" y="862.9" width="7.3" height="12.5" fill="#6070f0"/>
<rect x="515.2" y="875.1" width="7.3" height="12.2" fill="#fcd0d0"/>
<rect x="522.2" y="862.9" width="7.3" height="12.5" fill="#a8b0f4"/>
<rect x="522.2" y="875.1" width="7.3" height="12.2" fill="#fcd4d4"/>
<rect x="529.2" y="862.9" width="7.3" height="12.5" fill="#dcdffa"/>
<rect x="529.2" y="875.1" width="7.3" height="12.2" fill="#fcd0d0"/>
<rect x="536.2" y="862.9" width="7.3" height="12.5" fill="#b8bcf4"/>
<rect x="536.2" y="875.1" width="7.3" height="12.2" fill="#fcd0d0"/>
<rect x="543.2" y="862.9" width="7.3" height="12.5" fill="#b8bcf4"/>
<rect x="543.2" y="875.1" width="7.3" height="12.2" fill="#fcc8c8"/>
<rect x="550.2" y="862.9" width="7.3" height="12.5" fill="#c0c4f6"/>
<rect x="550.2" y="875.1" width="7.3" height="12.2" fill="#fcc8c8"/>
<rect x="557.2" y="862.9" width="7.3" height="12.5" fill="#1030f0"/>
<rect x="557.2" y="875.1" width="7.3" height="12.2" fill="#fcc8c8"/>
<rect x="564.2" y="862.9" width="7.3" height="12.5" fill="#e0e4fc"/>
<rect x="564.2" y="875.1" width="7.3" height="12.2" fill="#eeeefc"/>
<rect x="571.2" y="862.9" width="7.3" height="12.5" fill="#d0d4f8"/>
<rect x="571.2" y="875.1" width="7.3" height="12.2" fill="#eeeefc"/>
<rect x="578.2" y="862.9" width="7.3" height="12.5" fill="#dcdffa"/>
<rect x="578.2" y="875.1" width="7.3" height="12.2" fill="#fde4e4"/>
<rect x="585.2" y="862.9" width="7.3" height="12.5" fill="#f0f0fc"/>
<rect x="585.2" y="875.1" width="7.3" height="12.2" fill="#fcd8d8"/>
<rect x="592.2" y="862.9" width="7.3" height="12.5" fill="#fde8e8"/>
<rect x="592.2" y="875.1" width="7.3" height="12.2" fill="#fcd8d8"/>
<rect x="599.2" y="862.9" width="7.3" height="12.5" fill="#8088f0"/>
<rect x="599.2" y="875.1" width="7.3" height="12.2" fill="#fcd8d8"/>
<rect x="606.2" y="862.9" width="7.3" height="12.5" fill="#8890f0"/>
<rect x="606.2" y="875.1" width="7.3" height="12.2" fill="#fcd8d8"/>
<rect x="613.2" y="862.9" width="7.3" height="12.5" fill="#b0b8f4"/>
<rect x="613.2" y="875.1" width="7.3" height="12.2" fill="#fcd8d8"/>
<rect x="620.2" y="862.9" width="7.3" height="12.5" fill="#1030f0"/>
<rect x="620.2" y="875.1" width="7.3" height="12.2" fill="#eeeefc"/>
<rect x="627.2" y="862.9" width="7.3" height="12.5" fill="#e0e4fc"/>
<rect x="627.2" y="875.1" width="7.3" height="12.2" fill="#fafafe"/>
<rect x="634.2" y="862.9" width="7.3" height="12.5" fill="#fef0f0"/>
<rect x="634.2" y="875.1" width="7.3" height="12.2" fill="#fdeaea"/>
<rect x="641.2" y="862.9" width="7.3" height="12.5" fill="#8890f0"/>
<rect x="641.2" y="875.1" width="7.3" height="12.2" fill="#eeeefc"/>
<rect x="648.2" y="862.9" width="7.3" height="12.5" fill="#8890f0"/>
<rect x="648.2" y="875.1" width="7.3" height="12.2" fill="#fafafe"/>
<rect x="655.2" y="862.9" width="7.3" height="12.5" fill="#1030f0"/>
<rect x="655.2" y="875.1" width="7.3" height="12.2" fill="#a8b0f4"/>
<rect x="662.2" y="862.9" width="7.3" height="12.5" fill="#d8dcfa"/>
<rect x="662.2" y="875.1" width="7.3" height="12.2" fill="#fa9898"/>
<rect x="669.2" y="862.9" width="7.3" height="12.5" fill="#d8dcfa"/>
<rect x="669.2" y="875.1" width="7.3" height="12.2" fill="#fafafe"/>
<rect x="676.2" y="862.9" width="7.3" height="12.5" fill="#c0c4f6"/>
<rect x="676.2" y="875.1" width="7.3" height="12.2" fill="#fcc0c0"/>
<rect x="683.2" y="862.9" width="7.3" height="12.5" fill="#c8ccf8"/>
<rect x="683.2" y="875.1" width="7.3" height="12.2" fill="#fde8e8"/>
<rect x="690.2" y="862.9" width="7.3" height="12.5" fill="#fef8f8"/>
<rect x="690.2" y="875.1" width="7.3" height="12.2" fill="#fcdcdc"/>
<rect x="697.2" y="862.9" width="7.3" height="12.5" fill="#fef4f4"/>
<rect x="697.2" y="875.1" width="7.3" height="12.2" fill="#fcdcdc"/>
<rect x="704.2" y="862.9" width="7.3" height="12.5" fill="#fcd0d0"/>
<rect x="704.2" y="875.1" width="7.3" height="12.2" fill="#fcd0d0"/>
<rect x="711.2" y="862.9" width="7.3" height="12.5" fill="#fde8e8"/>
<rect x="711.2" y="875.1" width="7.3" height="12.2" fill="#fde0e0"/>
<rect x="718.2" y="862.9" width="7.3" height="12.5" fill="#e8eafc"/>
<rect x="718.2" y="875.1" width="7.3" height="12.2" fill="#fde4e4"/>
<rect x="725.2" y="862.9" width="7.3" height="12.5" fill="#3048f0"/>
<rect x="725.2" y="875.1" width="7.3" height="12.2" fill="#a8b0f4"/>
<rect x="732.2" y="862.9" width="7.3" height="12.5" fill="#a8b0f4"/>
<rect x="732.2" y="875.1" width="7.3" height="12.2" fill="#a0a8f0"/>
<rect x="739.2" y="862.9" width="7.3" height="12.5" fill="#b0b8f4"/>
<rect x="739.2" y="875.1" width="7.3" height="12.2" fill="#ffffff"/>
<rect x="746.2" y="862.9" width="7.3" height="12.5" fill="#ff2a10"/>
<rect x="746.2" y="875.1" width="7.3" height="12.2" fill="#ffffff"/>
<rect x="753.2" y="862.9" width="7.3" height="12.5" fill="#7880f0"/>
<rect x="753.2" y="875.1" width="7.3" height="12.2" fill="#f8f8fe"/>
<rect x="760.2" y="862.9" width="7.3" height="12.5" fill="#f4f4fe"/>
<rect x="760.2" y="875.1" width="7.3" height="12.2" fill="#fde4e4"/>
<rect x="767.2" y="862.9" width="7.3" height="12.5" fill="#2040f0"/>
<rect x="767.2" y="875.1" width="7.3" height="12.2" fill="#fdeaea"/>
<rect x="774.2" y="862.9" width="7.3" height="12.5" fill="#8088f0"/>
<rect x="774.2" y="875.1" width="7.3" height="12.2" fill="#ffffff"/>
<rect x="417.2" y="862.9" width="364" height="24.4" fill="none" stroke="#111" stroke-width="1.1"/>
<line x1="466.2" y1="862.9" x2="466.2" y2="887.3" stroke="#111" stroke-width="1.1"/>
<line x1="480.2" y1="862.9" x2="480.2" y2="887.3" stroke="#111" stroke-width="1.1"/>
<line x1="571.2" y1="862.9" x2="571.2" y2="887.3" stroke="#111" stroke-width="1.1"/>
<line x1="725.2" y1="862.9" x2="725.2" y2="887.3" stroke="#111" stroke-width="1.1"/>
<line x1="420.7" y1="860.5" x2="420.7" y2="862.9" stroke="#111" stroke-width="0.7"/>
<line x1="427.7" y1="860.5" x2="427.7" y2="862.9" stroke="#111" stroke-width="0.7"/>
<line x1="434.7" y1="860.5" x2="434.7" y2="862.9" stroke="#111" stroke-width="0.7"/>
<line x1="441.7" y1="860.5" x2="441.7" y2="862.9" stroke="#111" stroke-width="0.7"/>
<line x1="448.7" y1="860.5" x2="448.7" y2="862.9" stroke="#111" stroke-width="0.7"/>
<line x1="455.7" y1="860.5" x2="455.7" y2="862.9" stroke="#111" stroke-width="0.7"/>
<line x1="462.7" y1="860.5" x2="462.7" y2="862.9" stroke="#111" stroke-width="0.7"/>
<line x1="469.7" y1="860.5" x2="469.7" y2="862.9" stroke="#111" stroke-width="0.7"/>
<line x1="476.7" y1="860.5" x2="476.7" y2="862.9" stroke="#111" stroke-width="0.7"/>
<line x1="483.7" y1="860.5" x2="483.7" y2="862.9" stroke="#111" stroke-width="0.7"/>
<line x1="490.7" y1="860.5" x2="490.7" y2="862.9" stroke="#111" stroke-width="0.7"/>
<line x1="497.7" y1="860.5" x2="497.7" y2="862.9" stroke="#111" stroke-width="0.7"/>
<line x1="504.7" y1="860.5" x2="504.7" y2="862.9" stroke="#111" stroke-width="0.7"/>
<line x1="511.7" y1="860.5" x2="511.7" y2="862.9" stroke="#111" stroke-width="0.7"/>
<line x1="518.7" y1="860.5" x2="518.7" y2="862.9" stroke="#111" stroke-width="0.7"/>
<line x1="525.7" y1="860.5" x2="525.7" y2="862.9" stroke="#111" stroke-width="0.7"/>
<line x1="532.7" y1="860.5" x2="532.7" y2="862.9" stroke="#111" stroke-width="0.7"/>
<line x1="539.7" y1="860.5" x2="539.7" y2="862.9" stroke="#111" stroke-width="0.7"/>
<line x1="546.7" y1="860.5" x2="546.7" y2="862.9" stroke="#111" stroke-width="0.7"/>
<line x1="553.7" y1="860.5" x2="553.7" y2="862.9" stroke="#111" stroke-width="0.7"/>
<line x1="560.7" y1="860.5" x2="560.7" y2="862.9" stroke="#111" stroke-width="0.7"/>
<line x1="567.7" y1="860.5" x2="567.7" y2="862.9" stroke="#111" stroke-width="0.7"/>
<line x1="574.7" y1="860.5" x2="574.7" y2="862.9" stroke="#111" stroke-width="0.7"/>
<line x1="581.7" y1="860.5" x2="581.7" y2="862.9" stroke="#111" stroke-width="0.7"/>
<line x1="588.7" y1="860.5" x2="588.7" y2="862.9" stroke="#111" stroke-width="0.7"/>
<line x1="595.7" y1="860.5" x2="595.7" y2="862.9" stroke="#111" stroke-width="0.7"/>
<line x1="602.7" y1="860.5" x2="602.7" y2="862.9" stroke="#111" stroke-width="0.7"/>
<line x1="609.7" y1="860.5" x2="609.7" y2="862.9" stroke="#111" stroke-width="0.7"/>
<line x1="616.7" y1="860.5" x2="616.7" y2="862.9" stroke="#111" stroke-width="0.7"/>
<line x1="623.7" y1="860.5" x2="623.7" y2="862.9" stroke="#111" stroke-width="0.7"/>
<line x1="630.7" y1="860.5" x2="630.7" y2="862.9" stroke="#111" stroke-width="0.7"/>
<line x1="637.7" y1="860.5" x2="637.7" y2="862.9" stroke="#111" stroke-width="0.7"/>
<line x1="644.7" y1="860.5" x2="644.7" y2="862.9" stroke="#111" stroke-width="0.7"/>
<line x1="651.7" y1="860.5" x2="651.7" y2="862.9" stroke="#111" stroke-width="0.7"/>
<line x1="658.7" y1="860.5" x2="658.7" y2="862.9" stroke="#111" stroke-width="0.7"/>
<line x1="665.7" y1="860.5" x2="665.7" y2="862.9" stroke="#111" stroke-width="0.7"/>
<line x1="672.7" y1="860.5" x2="672.7" y2="862.9" stroke="#111" stroke-width="0.7"/>
<line x1="679.7" y1="860.5" x2="679.7" y2="862.9" stroke="#111" stroke-width="0.7"/>
<line x1="686.7" y1="860.5" x2="686.7" y2="862.9" stroke="#111" stroke-width="0.7"/>
<line x1="693.7" y1="860.5" x2="693.7" y2="862.9" stroke="#111" stroke-width="0.7"/>
<line x1="700.7" y1="860.5" x2="700.7" y2="862.9" stroke="#111" stroke-width="0.7"/>
<line x1="707.7" y1="860.5" x2="707.7" y2="862.9" stroke="#111" stroke-width="0.7"/>
<line x1="714.7" y1="860.5" x2="714.7" y2="862.9" stroke="#111" stroke-width="0.7"/>
<line x1="721.7" y1="860.5" x2="721.7" y2="862.9" stroke="#111" stroke-width="0.7"/>
<line x1="728.7" y1="860.5" x2="728.7" y2="862.9" stroke="#111" stroke-width="0.7"/>
<line x1="735.7" y1="860.5" x2="735.7" y2="862.9" stroke="#111" stroke-width="0.7"/>
<line x1="742.7" y1="860.5" x2="742.7" y2="862.9" stroke="#111" stroke-width="0.7"/>
<line x1="749.7" y1="860.5" x2="749.7" y2="862.9" stroke="#111" stroke-width="0.7"/>
<line x1="756.7" y1="860.5" x2="756.7" y2="862.9" stroke="#111" stroke-width="0.7"/>
<line x1="763.7" y1="860.5" x2="763.7" y2="862.9" stroke="#111" stroke-width="0.7"/>
<line x1="770.7" y1="860.5" x2="770.7" y2="862.9" stroke="#111" stroke-width="0.7"/>
<line x1="777.7" y1="860.5" x2="777.7" y2="862.9" stroke="#111" stroke-width="0.7"/>
<g class="g2" font-size="4.3" font-weight="bold" fill="#000"><text x="420.1" y="859.9" transform="rotate(-45 420.1 859.9)">Chrna4</text><text x="427.1" y="859.9" transform="rotate(-45 427.1 859.9)">Chrna7</text><text x="434.1" y="859.9" transform="rotate(-45 434.1 859.9)">Chrnb2</text><text x="441.1" y="859.9" transform="rotate(-45 441.1 859.9)">Chrm1</text><text x="448.1" y="859.9" transform="rotate(-45 448.1 859.9)">Chrm2</text><text x="455.1" y="859.9" transform="rotate(-45 455.1 859.9)">Chrm3</text><text x="462.1" y="859.9" transform="rotate(-45 462.1 859.9)">Chrm4</text><text x="469.1" y="859.9" transform="rotate(-45 469.1 859.9)">Drd1</text><text x="476.1" y="859.9" transform="rotate(-45 476.1 859.9)">Drd2</text><text x="483.1" y="859.9" transform="rotate(-45 483.1 859.9)">Gabra1</text><text x="490.1" y="859.9" transform="rotate(-45 490.1 859.9)">Gabra2</text><text x="497.1" y="859.9" transform="rotate(-45 497.1 859.9)">Gabra3</text><text x="504.1" y="859.9" transform="rotate(-45 504.1 859.9)">Gabra4</text><text x="511.1" y="859.9" transform="rotate(-45 511.1 859.9)">Gabra5</text><text x="518.1" y="859.9" transform="rotate(-45 518.1 859.9)">Gabrb1</text><text x="525.1" y="859.9" transform="rotate(-45 525.1 859.9)">Gabrb2</text><text x="532.1" y="859.9" transform="rotate(-45 532.1 859.9)">Gabrb3</text><text x="539.1" y="859.9" transform="rotate(-45 539.1 859.9)">Gabrg1</text><text x="546.1" y="859.9" transform="rotate(-45 546.1 859.9)">Gabrg2</text><text x="553.1" y="859.9" transform="rotate(-45 553.1 859.9)">Gabrd</text><text x="560.1" y="859.9" transform="rotate(-45 560.1 859.9)">Gabbr1</text><text x="567.1" y="859.9" transform="rotate(-45 567.1 859.9)">Gabbr2</text><text x="574.1" y="859.9" transform="rotate(-45 574.1 859.9)">Gria1</text><text x="581.1" y="859.9" transform="rotate(-45 581.1 859.9)">Gria2</text><text x="588.1" y="859.9" transform="rotate(-45 588.1 859.9)">Gria3</text><text x="595.1" y="859.9" transform="rotate(-45 595.1 859.9)">Gria4</text><text x="602.1" y="859.9" transform="rotate(-45 602.1 859.9)">Grin1</text><text x="609.1" y="859.9" transform="rotate(-45 609.1 859.9)">Grin2a</text><text x="616.1" y="859.9" transform="rotate(-45 616.1 859.9)">Grin2b</text><text x="623.1" y="859.9" transform="rotate(-45 623.1 859.9)">Grin2c</text><text x="630.1" y="859.9" transform="rotate(-45 630.1 859.9)">Grin2d</text><text x="637.1" y="859.9" transform="rotate(-45 637.1 859.9)">Grik1</text><text x="644.1" y="859.9" transform="rotate(-45 644.1 859.9)">Grik2</text><text x="651.1" y="859.9" transform="rotate(-45 651.1 859.9)">Grik3</text><text x="658.1" y="859.9" transform="rotate(-45 658.1 859.9)">Grik4</text><text x="665.1" y="859.9" transform="rotate(-45 665.1 859.9)">Grik5</text><text x="672.1" y="859.9" transform="rotate(-45 672.1 859.9)">Grm1</text><text x="679.1" y="859.9" transform="rotate(-45 679.1 859.9)">Grm2</text><text x="686.1" y="859.9" transform="rotate(-45 686.1 859.9)">Grm3</text><text x="693.1" y="859.9" transform="rotate(-45 693.1 859.9)">Grm4</text><text x="700.1" y="859.9" transform="rotate(-45 700.1 859.9)">Grm5</text><text x="707.1" y="859.9" transform="rotate(-45 707.1 859.9)">Grm7</text><text x="714.1" y="859.9" transform="rotate(-45 714.1 859.9)">Grm8</text><text x="721.1" y="859.9" transform="rotate(-45 721.1 859.9)">Grid1</text><text x="728.1" y="859.9" transform="rotate(-45 728.1 859.9)">Htr1a</text><text x="735.1" y="859.9" transform="rotate(-45 735.1 859.9)">Htr1b</text><text x="742.1" y="859.9" transform="rotate(-45 742.1 859.9)">Htr2a</text><text x="749.1" y="859.9" transform="rotate(-45 749.1 859.9)">Htr2b</text><text x="756.1" y="859.9" transform="rotate(-45 756.1 859.9)">Htr2c</text><text x="763.1" y="859.9" transform="rotate(-45 763.1 859.9)">Htr4</text><text x="770.1" y="859.9" transform="rotate(-45 770.1 859.9)">Htr5a</text><text x="777.1" y="859.9" transform="rotate(-45 777.1 859.9)">Htr7</text></g>
<defs><linearGradient id="hb4" x1="0" y1="0" x2="1" y2="0"><stop offset="0" stop-color="#1024ff"/><stop offset="0.52" stop-color="#ffffff"/><stop offset="1" stop-color="#ff2816"/></linearGradient></defs>
<rect x="417.3" y="895.3" width="113.6" height="6.7" fill="url(#hb4)" stroke="#222" stroke-width="0.8"/>
<line x1="420.53" y1="895.3" x2="420.53" y2="896.9" stroke="#111" stroke-width="0.8"/>
<line x1="420.53" y1="900.4" x2="420.53" y2="902" stroke="#111" stroke-width="0.8"/>
<text x="420.53" y="910.2" font-size="6" text-anchor="middle" font-weight="normal" fill="#111">-4</text>
<line x1="448.65" y1="895.3" x2="448.65" y2="896.9" stroke="#111" stroke-width="0.8"/>
<line x1="448.65" y1="900.4" x2="448.65" y2="902" stroke="#111" stroke-width="0.8"/>
<text x="448.65" y="910.2" font-size="6" text-anchor="middle" font-weight="normal" fill="#111">-2</text>
<line x1="476.77" y1="895.3" x2="476.77" y2="896.9" stroke="#111" stroke-width="0.8"/>
<line x1="476.77" y1="900.4" x2="476.77" y2="902" stroke="#111" stroke-width="0.8"/>
<text x="476.77" y="910.2" font-size="6" text-anchor="middle" font-weight="normal" fill="#111">0</text>
<line x1="504.89" y1="895.3" x2="504.89" y2="896.9" stroke="#111" stroke-width="0.8"/>
<line x1="504.89" y1="900.4" x2="504.89" y2="902" stroke="#111" stroke-width="0.8"/>
<text x="504.89" y="910.2" font-size="6" text-anchor="middle" font-weight="normal" fill="#111">2</text>
<text x="536" y="900.6" font-size="6.2" text-anchor="start" font-weight="bold" fill="#000" textLength="76.5" lengthAdjust="spacingAndGlyphs">Scaled Log<tspan font-size="4.4" dy="1.6">2</tspan><tspan dy="-1.6">[Fold Change]</tspan></text></svg></body></html>
